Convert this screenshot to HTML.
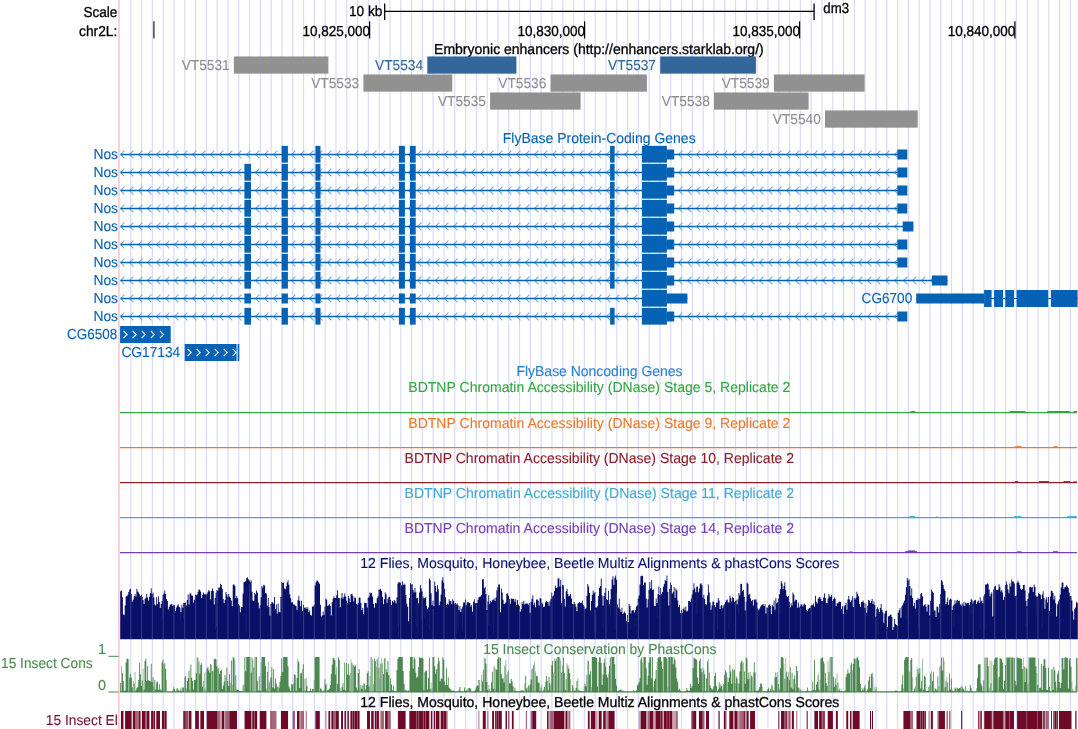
<!DOCTYPE html>
<html lang="en"><head><meta charset="utf-8"><title>UCSC Genome Browser - dm3 chr2L</title>
<style>
html,body{margin:0;padding:0;background:#fff;}
svg{display:block;font-family:"Liberation Sans",sans-serif;text-rendering:geometricPrecision;}
text{stroke-width:0.1px;stroke-linejoin:round;}
text.k{stroke-width:0.3px;}
</style></head><body>
<svg width="1078" height="729" viewBox="0 0 1078 729" style="will-change:transform">
<rect width="1078" height="729" fill="#fff"/>
<path d="M130.75 0V729M141.55 0V729M152.35 0V729M163.15 0V729M173.95 0V729M184.75 0V729M195.55 0V729M206.35 0V729M217.15 0V729M227.95 0V729M238.75 0V729M249.55 0V729M260.35 0V729M271.15 0V729M281.95 0V729M292.75 0V729M303.55 0V729M314.35 0V729M325.15 0V729M335.95 0V729M346.75 0V729M357.55 0V729M368.35 0V729M379.15 0V729M389.95 0V729M400.75 0V729M411.55 0V729M422.35 0V729M433.15 0V729M443.95 0V729M454.75 0V729M465.55 0V729M476.35 0V729M487.15 0V729M497.95 0V729M508.75 0V729M519.55 0V729M530.35 0V729M541.15 0V729M551.95 0V729M562.75 0V729M573.55 0V729M584.35 0V729M595.15 0V729M605.95 0V729M616.75 0V729M627.55 0V729M638.35 0V729M649.15 0V729M659.95 0V729M670.75 0V729M681.55 0V729M692.35 0V729M703.15 0V729M713.95 0V729M724.75 0V729M735.55 0V729M746.35 0V729M757.15 0V729M767.95 0V729M778.75 0V729M789.55 0V729M800.35 0V729M811.15 0V729M821.95 0V729M832.75 0V729M843.55 0V729M854.35 0V729M865.15 0V729M875.95 0V729M886.75 0V729M897.55 0V729M908.35 0V729M919.15 0V729M929.95 0V729M940.75 0V729M951.55 0V729M962.35 0V729M973.15 0V729M983.95 0V729M994.75 0V729M1005.55 0V729M1016.35 0V729M1027.15 0V729M1037.95 0V729M1048.75 0V729M1059.55 0V729M1070.35 0V729" stroke="#d8d8ff" stroke-width="1.15" fill="none"/>
<line x1="118.95" y1="0.00" x2="118.95" y2="729.00" stroke="#ffc2c2" stroke-width="1.4"/>
<text x="117.4" y="16.7" fill="#000" stroke="#000" class="k" text-anchor="end" font-size="14.5" textLength="33.9" lengthAdjust="spacingAndGlyphs">Scale</text>
<text x="117.4" y="35.9" fill="#000" stroke="#000" class="k" text-anchor="end" font-size="14.5" textLength="38.4" lengthAdjust="spacingAndGlyphs">chr2L:</text>
<text x="382.3" y="15.9" fill="#000" stroke="#000" class="k" text-anchor="end" font-size="14.5" textLength="33.3" lengthAdjust="spacingAndGlyphs">10 kb</text>
<text x="823.3" y="12.9" fill="#000" stroke="#000" class="k" text-anchor="start" font-size="14.5" textLength="25.7" lengthAdjust="spacingAndGlyphs">dm3</text>
<line x1="384.70" y1="11.30" x2="814.10" y2="11.30" stroke="#000" stroke-width="1.35"/>
<line x1="384.70" y1="3.50" x2="384.70" y2="20.00" stroke="#000" stroke-width="1.3"/>
<line x1="814.10" y1="3.50" x2="814.10" y2="20.00" stroke="#000" stroke-width="1.3"/>
<line x1="153.90" y1="21.30" x2="153.90" y2="38.40" stroke="#222" stroke-width="1.25"/>
<line x1="369.60" y1="21.30" x2="369.60" y2="38.40" stroke="#000" stroke-width="1.25"/>
<text x="370.1" y="36.0" fill="#000" stroke="#000" class="k" text-anchor="end" font-size="14.5" textLength="67.7" lengthAdjust="spacingAndGlyphs">10,825,000</text>
<line x1="584.60" y1="21.30" x2="584.60" y2="38.40" stroke="#000" stroke-width="1.25"/>
<text x="585.1" y="36.0" fill="#000" stroke="#000" class="k" text-anchor="end" font-size="14.5" textLength="67.7" lengthAdjust="spacingAndGlyphs">10,830,000</text>
<line x1="799.60" y1="21.30" x2="799.60" y2="38.40" stroke="#000" stroke-width="1.25"/>
<text x="800.1" y="36.0" fill="#000" stroke="#000" class="k" text-anchor="end" font-size="14.5" textLength="67.7" lengthAdjust="spacingAndGlyphs">10,835,000</text>
<line x1="1014.90" y1="21.30" x2="1014.90" y2="38.40" stroke="#000" stroke-width="1.25"/>
<text x="1015.4" y="36.0" fill="#000" stroke="#000" class="k" text-anchor="end" font-size="14.5" textLength="67.7" lengthAdjust="spacingAndGlyphs">10,840,000</text>
<text x="598.9" y="53.8" fill="#000" stroke="#000" class="k" text-anchor="middle" font-size="14.5" textLength="329.6" lengthAdjust="spacingAndGlyphs">Embryonic enhancers (http://enhancers.starklab.org/)</text>
<rect x="233.90" y="56.45" width="94.50" height="17.20" fill="#919191"/>
<text x="229.7" y="70.0" fill="#8e8e8e" stroke="#8e8e8e" text-anchor="end" font-size="14.5" textLength="48.0" lengthAdjust="spacingAndGlyphs">VT5531</text>
<rect x="427.30" y="56.45" width="89.10" height="17.20" fill="#336699"/>
<text x="423.1" y="70.0" fill="#336699" stroke="#336699" text-anchor="end" font-size="14.5" textLength="48.0" lengthAdjust="spacingAndGlyphs">VT5534</text>
<rect x="660.20" y="56.45" width="95.70" height="17.20" fill="#336699"/>
<text x="656.0" y="70.0" fill="#336699" stroke="#336699" text-anchor="end" font-size="14.5" textLength="48.0" lengthAdjust="spacingAndGlyphs">VT5537</text>
<rect x="363.40" y="74.45" width="88.90" height="17.20" fill="#919191"/>
<text x="359.2" y="88.0" fill="#8e8e8e" stroke="#8e8e8e" text-anchor="end" font-size="14.5" textLength="48.0" lengthAdjust="spacingAndGlyphs">VT5533</text>
<rect x="550.50" y="74.45" width="96.40" height="17.20" fill="#919191"/>
<text x="546.3" y="88.0" fill="#8e8e8e" stroke="#8e8e8e" text-anchor="end" font-size="14.5" textLength="48.0" lengthAdjust="spacingAndGlyphs">VT5536</text>
<rect x="773.90" y="74.45" width="90.70" height="17.20" fill="#919191"/>
<text x="769.7" y="88.0" fill="#8e8e8e" stroke="#8e8e8e" text-anchor="end" font-size="14.5" textLength="48.0" lengthAdjust="spacingAndGlyphs">VT5539</text>
<rect x="490.10" y="92.45" width="90.50" height="17.20" fill="#919191"/>
<text x="485.9" y="106.0" fill="#8e8e8e" stroke="#8e8e8e" text-anchor="end" font-size="14.5" textLength="48.0" lengthAdjust="spacingAndGlyphs">VT5535</text>
<rect x="714.00" y="92.45" width="94.60" height="17.20" fill="#919191"/>
<text x="709.8" y="106.0" fill="#8e8e8e" stroke="#8e8e8e" text-anchor="end" font-size="14.5" textLength="48.0" lengthAdjust="spacingAndGlyphs">VT5538</text>
<rect x="825.00" y="110.45" width="92.70" height="17.20" fill="#919191"/>
<text x="820.8" y="124.0" fill="#8e8e8e" stroke="#8e8e8e" text-anchor="end" font-size="14.5" textLength="48.0" lengthAdjust="spacingAndGlyphs">VT5540</text>
<text x="599.2" y="142.5" fill="#0562b4" stroke="#0562b4" text-anchor="middle" font-size="14.5" textLength="192.9" lengthAdjust="spacingAndGlyphs">FlyBase Protein-Coding Genes</text>
<path d="M124.40 150.70L120.60 154.50L124.40 158.30M133.40 150.70L129.60 154.50L133.40 158.30M142.40 150.70L138.60 154.50L142.40 158.30M151.40 150.70L147.60 154.50L151.40 158.30M160.40 150.70L156.60 154.50L160.40 158.30M169.40 150.70L165.60 154.50L169.40 158.30M178.40 150.70L174.60 154.50L178.40 158.30M187.40 150.70L183.60 154.50L187.40 158.30M196.40 150.70L192.60 154.50L196.40 158.30M205.40 150.70L201.60 154.50L205.40 158.30M214.40 150.70L210.60 154.50L214.40 158.30M223.40 150.70L219.60 154.50L223.40 158.30M232.40 150.70L228.60 154.50L232.40 158.30M241.40 150.70L237.60 154.50L241.40 158.30M250.40 150.70L246.60 154.50L250.40 158.30M259.40 150.70L255.60 154.50L259.40 158.30M268.40 150.70L264.60 154.50L268.40 158.30M277.40 150.70L273.60 154.50L277.40 158.30M286.40 150.70L282.60 154.50L286.40 158.30M295.40 150.70L291.60 154.50L295.40 158.30M304.40 150.70L300.60 154.50L304.40 158.30M313.40 150.70L309.60 154.50L313.40 158.30M322.40 150.70L318.60 154.50L322.40 158.30M331.40 150.70L327.60 154.50L331.40 158.30M340.40 150.70L336.60 154.50L340.40 158.30M349.40 150.70L345.60 154.50L349.40 158.30M358.40 150.70L354.60 154.50L358.40 158.30M367.40 150.70L363.60 154.50L367.40 158.30M376.40 150.70L372.60 154.50L376.40 158.30M385.40 150.70L381.60 154.50L385.40 158.30M394.40 150.70L390.60 154.50L394.40 158.30M403.40 150.70L399.60 154.50L403.40 158.30M412.40 150.70L408.60 154.50L412.40 158.30M421.40 150.70L417.60 154.50L421.40 158.30M430.40 150.70L426.60 154.50L430.40 158.30M439.40 150.70L435.60 154.50L439.40 158.30M448.40 150.70L444.60 154.50L448.40 158.30M457.40 150.70L453.60 154.50L457.40 158.30M466.40 150.70L462.60 154.50L466.40 158.30M475.40 150.70L471.60 154.50L475.40 158.30M484.40 150.70L480.60 154.50L484.40 158.30M493.40 150.70L489.60 154.50L493.40 158.30M502.40 150.70L498.60 154.50L502.40 158.30M511.40 150.70L507.60 154.50L511.40 158.30M520.40 150.70L516.60 154.50L520.40 158.30M529.40 150.70L525.60 154.50L529.40 158.30M538.40 150.70L534.60 154.50L538.40 158.30M547.40 150.70L543.60 154.50L547.40 158.30M556.40 150.70L552.60 154.50L556.40 158.30M565.40 150.70L561.60 154.50L565.40 158.30M574.40 150.70L570.60 154.50L574.40 158.30M583.40 150.70L579.60 154.50L583.40 158.30M592.40 150.70L588.60 154.50L592.40 158.30M601.40 150.70L597.60 154.50L601.40 158.30M610.40 150.70L606.60 154.50L610.40 158.30M619.40 150.70L615.60 154.50L619.40 158.30M628.40 150.70L624.60 154.50L628.40 158.30M637.40 150.70L633.60 154.50L637.40 158.30M646.40 150.70L642.60 154.50L646.40 158.30M655.40 150.70L651.60 154.50L655.40 158.30M664.40 150.70L660.60 154.50L664.40 158.30M673.40 150.70L669.60 154.50L673.40 158.30M682.40 150.70L678.60 154.50L682.40 158.30M691.40 150.70L687.60 154.50L691.40 158.30M700.40 150.70L696.60 154.50L700.40 158.30M709.40 150.70L705.60 154.50L709.40 158.30M718.40 150.70L714.60 154.50L718.40 158.30M727.40 150.70L723.60 154.50L727.40 158.30M736.40 150.70L732.60 154.50L736.40 158.30M745.40 150.70L741.60 154.50L745.40 158.30M754.40 150.70L750.60 154.50L754.40 158.30M763.40 150.70L759.60 154.50L763.40 158.30M772.40 150.70L768.60 154.50L772.40 158.30M781.40 150.70L777.60 154.50L781.40 158.30M790.40 150.70L786.60 154.50L790.40 158.30M799.40 150.70L795.60 154.50L799.40 158.30M808.40 150.70L804.60 154.50L808.40 158.30M817.40 150.70L813.60 154.50L817.40 158.30M826.40 150.70L822.60 154.50L826.40 158.30M835.40 150.70L831.60 154.50L835.40 158.30M844.40 150.70L840.60 154.50L844.40 158.30M853.40 150.70L849.60 154.50L853.40 158.30M862.40 150.70L858.60 154.50L862.40 158.30M871.40 150.70L867.60 154.50L871.40 158.30M880.40 150.70L876.60 154.50L880.40 158.30M889.40 150.70L885.60 154.50L889.40 158.30M898.40 150.70L894.60 154.50L898.40 158.30M907.40 150.70L903.60 154.50L907.40 158.30" stroke="#74aee0" stroke-width="1.15" fill="none"/>
<line x1="120.60" y1="154.50" x2="907.20" y2="154.50" stroke="#0562b4" stroke-width="1.5"/>
<rect x="281.60" y="145.85" width="6.30" height="16.80" fill="#0562b4"/>
<rect x="315.40" y="145.85" width="5.10" height="16.80" fill="#0562b4"/>
<rect x="398.90" y="145.85" width="6.00" height="16.80" fill="#0562b4"/>
<rect x="409.90" y="145.85" width="5.80" height="16.80" fill="#0562b4"/>
<rect x="610.10" y="145.85" width="4.50" height="16.80" fill="#0562b4"/>
<rect x="641.90" y="145.85" width="25.00" height="16.80" fill="#0562b4"/>
<rect x="666.90" y="149.50" width="7.30" height="10.00" fill="#0562b4"/>
<rect x="897.40" y="149.50" width="9.80" height="10.00" fill="#0562b4"/>
<text x="118.0" y="158.9" fill="#0562b4" stroke="#0562b4" text-anchor="end" font-size="14.5" textLength="24.6" lengthAdjust="spacingAndGlyphs">Nos</text>
<path d="M124.40 168.70L120.60 172.50L124.40 176.30M133.40 168.70L129.60 172.50L133.40 176.30M142.40 168.70L138.60 172.50L142.40 176.30M151.40 168.70L147.60 172.50L151.40 176.30M160.40 168.70L156.60 172.50L160.40 176.30M169.40 168.70L165.60 172.50L169.40 176.30M178.40 168.70L174.60 172.50L178.40 176.30M187.40 168.70L183.60 172.50L187.40 176.30M196.40 168.70L192.60 172.50L196.40 176.30M205.40 168.70L201.60 172.50L205.40 176.30M214.40 168.70L210.60 172.50L214.40 176.30M223.40 168.70L219.60 172.50L223.40 176.30M232.40 168.70L228.60 172.50L232.40 176.30M241.40 168.70L237.60 172.50L241.40 176.30M250.40 168.70L246.60 172.50L250.40 176.30M259.40 168.70L255.60 172.50L259.40 176.30M268.40 168.70L264.60 172.50L268.40 176.30M277.40 168.70L273.60 172.50L277.40 176.30M286.40 168.70L282.60 172.50L286.40 176.30M295.40 168.70L291.60 172.50L295.40 176.30M304.40 168.70L300.60 172.50L304.40 176.30M313.40 168.70L309.60 172.50L313.40 176.30M322.40 168.70L318.60 172.50L322.40 176.30M331.40 168.70L327.60 172.50L331.40 176.30M340.40 168.70L336.60 172.50L340.40 176.30M349.40 168.70L345.60 172.50L349.40 176.30M358.40 168.70L354.60 172.50L358.40 176.30M367.40 168.70L363.60 172.50L367.40 176.30M376.40 168.70L372.60 172.50L376.40 176.30M385.40 168.70L381.60 172.50L385.40 176.30M394.40 168.70L390.60 172.50L394.40 176.30M403.40 168.70L399.60 172.50L403.40 176.30M412.40 168.70L408.60 172.50L412.40 176.30M421.40 168.70L417.60 172.50L421.40 176.30M430.40 168.70L426.60 172.50L430.40 176.30M439.40 168.70L435.60 172.50L439.40 176.30M448.40 168.70L444.60 172.50L448.40 176.30M457.40 168.70L453.60 172.50L457.40 176.30M466.40 168.70L462.60 172.50L466.40 176.30M475.40 168.70L471.60 172.50L475.40 176.30M484.40 168.70L480.60 172.50L484.40 176.30M493.40 168.70L489.60 172.50L493.40 176.30M502.40 168.70L498.60 172.50L502.40 176.30M511.40 168.70L507.60 172.50L511.40 176.30M520.40 168.70L516.60 172.50L520.40 176.30M529.40 168.70L525.60 172.50L529.40 176.30M538.40 168.70L534.60 172.50L538.40 176.30M547.40 168.70L543.60 172.50L547.40 176.30M556.40 168.70L552.60 172.50L556.40 176.30M565.40 168.70L561.60 172.50L565.40 176.30M574.40 168.70L570.60 172.50L574.40 176.30M583.40 168.70L579.60 172.50L583.40 176.30M592.40 168.70L588.60 172.50L592.40 176.30M601.40 168.70L597.60 172.50L601.40 176.30M610.40 168.70L606.60 172.50L610.40 176.30M619.40 168.70L615.60 172.50L619.40 176.30M628.40 168.70L624.60 172.50L628.40 176.30M637.40 168.70L633.60 172.50L637.40 176.30M646.40 168.70L642.60 172.50L646.40 176.30M655.40 168.70L651.60 172.50L655.40 176.30M664.40 168.70L660.60 172.50L664.40 176.30M673.40 168.70L669.60 172.50L673.40 176.30M682.40 168.70L678.60 172.50L682.40 176.30M691.40 168.70L687.60 172.50L691.40 176.30M700.40 168.70L696.60 172.50L700.40 176.30M709.40 168.70L705.60 172.50L709.40 176.30M718.40 168.70L714.60 172.50L718.40 176.30M727.40 168.70L723.60 172.50L727.40 176.30M736.40 168.70L732.60 172.50L736.40 176.30M745.40 168.70L741.60 172.50L745.40 176.30M754.40 168.70L750.60 172.50L754.40 176.30M763.40 168.70L759.60 172.50L763.40 176.30M772.40 168.70L768.60 172.50L772.40 176.30M781.40 168.70L777.60 172.50L781.40 176.30M790.40 168.70L786.60 172.50L790.40 176.30M799.40 168.70L795.60 172.50L799.40 176.30M808.40 168.70L804.60 172.50L808.40 176.30M817.40 168.70L813.60 172.50L817.40 176.30M826.40 168.70L822.60 172.50L826.40 176.30M835.40 168.70L831.60 172.50L835.40 176.30M844.40 168.70L840.60 172.50L844.40 176.30M853.40 168.70L849.60 172.50L853.40 176.30M862.40 168.70L858.60 172.50L862.40 176.30M871.40 168.70L867.60 172.50L871.40 176.30M880.40 168.70L876.60 172.50L880.40 176.30M889.40 168.70L885.60 172.50L889.40 176.30M898.40 168.70L894.60 172.50L898.40 176.30M907.40 168.70L903.60 172.50L907.40 176.30" stroke="#74aee0" stroke-width="1.15" fill="none"/>
<line x1="120.60" y1="172.50" x2="907.20" y2="172.50" stroke="#0562b4" stroke-width="1.5"/>
<rect x="244.40" y="163.85" width="6.60" height="16.80" fill="#0562b4"/>
<rect x="281.60" y="163.85" width="6.30" height="16.80" fill="#0562b4"/>
<rect x="315.40" y="163.85" width="5.10" height="16.80" fill="#0562b4"/>
<rect x="398.90" y="163.85" width="6.00" height="16.80" fill="#0562b4"/>
<rect x="409.90" y="163.85" width="5.80" height="16.80" fill="#0562b4"/>
<rect x="610.10" y="163.85" width="4.50" height="16.80" fill="#0562b4"/>
<rect x="641.90" y="163.85" width="25.00" height="16.80" fill="#0562b4"/>
<rect x="666.90" y="167.50" width="7.30" height="10.00" fill="#0562b4"/>
<rect x="897.40" y="167.50" width="9.80" height="10.00" fill="#0562b4"/>
<text x="118.0" y="176.9" fill="#0562b4" stroke="#0562b4" text-anchor="end" font-size="14.5" textLength="24.6" lengthAdjust="spacingAndGlyphs">Nos</text>
<path d="M124.40 186.70L120.60 190.50L124.40 194.30M133.40 186.70L129.60 190.50L133.40 194.30M142.40 186.70L138.60 190.50L142.40 194.30M151.40 186.70L147.60 190.50L151.40 194.30M160.40 186.70L156.60 190.50L160.40 194.30M169.40 186.70L165.60 190.50L169.40 194.30M178.40 186.70L174.60 190.50L178.40 194.30M187.40 186.70L183.60 190.50L187.40 194.30M196.40 186.70L192.60 190.50L196.40 194.30M205.40 186.70L201.60 190.50L205.40 194.30M214.40 186.70L210.60 190.50L214.40 194.30M223.40 186.70L219.60 190.50L223.40 194.30M232.40 186.70L228.60 190.50L232.40 194.30M241.40 186.70L237.60 190.50L241.40 194.30M250.40 186.70L246.60 190.50L250.40 194.30M259.40 186.70L255.60 190.50L259.40 194.30M268.40 186.70L264.60 190.50L268.40 194.30M277.40 186.70L273.60 190.50L277.40 194.30M286.40 186.70L282.60 190.50L286.40 194.30M295.40 186.70L291.60 190.50L295.40 194.30M304.40 186.70L300.60 190.50L304.40 194.30M313.40 186.70L309.60 190.50L313.40 194.30M322.40 186.70L318.60 190.50L322.40 194.30M331.40 186.70L327.60 190.50L331.40 194.30M340.40 186.70L336.60 190.50L340.40 194.30M349.40 186.70L345.60 190.50L349.40 194.30M358.40 186.70L354.60 190.50L358.40 194.30M367.40 186.70L363.60 190.50L367.40 194.30M376.40 186.70L372.60 190.50L376.40 194.30M385.40 186.70L381.60 190.50L385.40 194.30M394.40 186.70L390.60 190.50L394.40 194.30M403.40 186.70L399.60 190.50L403.40 194.30M412.40 186.70L408.60 190.50L412.40 194.30M421.40 186.70L417.60 190.50L421.40 194.30M430.40 186.70L426.60 190.50L430.40 194.30M439.40 186.70L435.60 190.50L439.40 194.30M448.40 186.70L444.60 190.50L448.40 194.30M457.40 186.70L453.60 190.50L457.40 194.30M466.40 186.70L462.60 190.50L466.40 194.30M475.40 186.70L471.60 190.50L475.40 194.30M484.40 186.70L480.60 190.50L484.40 194.30M493.40 186.70L489.60 190.50L493.40 194.30M502.40 186.70L498.60 190.50L502.40 194.30M511.40 186.70L507.60 190.50L511.40 194.30M520.40 186.70L516.60 190.50L520.40 194.30M529.40 186.70L525.60 190.50L529.40 194.30M538.40 186.70L534.60 190.50L538.40 194.30M547.40 186.70L543.60 190.50L547.40 194.30M556.40 186.70L552.60 190.50L556.40 194.30M565.40 186.70L561.60 190.50L565.40 194.30M574.40 186.70L570.60 190.50L574.40 194.30M583.40 186.70L579.60 190.50L583.40 194.30M592.40 186.70L588.60 190.50L592.40 194.30M601.40 186.70L597.60 190.50L601.40 194.30M610.40 186.70L606.60 190.50L610.40 194.30M619.40 186.70L615.60 190.50L619.40 194.30M628.40 186.70L624.60 190.50L628.40 194.30M637.40 186.70L633.60 190.50L637.40 194.30M646.40 186.70L642.60 190.50L646.40 194.30M655.40 186.70L651.60 190.50L655.40 194.30M664.40 186.70L660.60 190.50L664.40 194.30M673.40 186.70L669.60 190.50L673.40 194.30M682.40 186.70L678.60 190.50L682.40 194.30M691.40 186.70L687.60 190.50L691.40 194.30M700.40 186.70L696.60 190.50L700.40 194.30M709.40 186.70L705.60 190.50L709.40 194.30M718.40 186.70L714.60 190.50L718.40 194.30M727.40 186.70L723.60 190.50L727.40 194.30M736.40 186.70L732.60 190.50L736.40 194.30M745.40 186.70L741.60 190.50L745.40 194.30M754.40 186.70L750.60 190.50L754.40 194.30M763.40 186.70L759.60 190.50L763.40 194.30M772.40 186.70L768.60 190.50L772.40 194.30M781.40 186.70L777.60 190.50L781.40 194.30M790.40 186.70L786.60 190.50L790.40 194.30M799.40 186.70L795.60 190.50L799.40 194.30M808.40 186.70L804.60 190.50L808.40 194.30M817.40 186.70L813.60 190.50L817.40 194.30M826.40 186.70L822.60 190.50L826.40 194.30M835.40 186.70L831.60 190.50L835.40 194.30M844.40 186.70L840.60 190.50L844.40 194.30M853.40 186.70L849.60 190.50L853.40 194.30M862.40 186.70L858.60 190.50L862.40 194.30M871.40 186.70L867.60 190.50L871.40 194.30M880.40 186.70L876.60 190.50L880.40 194.30M889.40 186.70L885.60 190.50L889.40 194.30M898.40 186.70L894.60 190.50L898.40 194.30M907.40 186.70L903.60 190.50L907.40 194.30" stroke="#74aee0" stroke-width="1.15" fill="none"/>
<line x1="120.60" y1="190.50" x2="907.20" y2="190.50" stroke="#0562b4" stroke-width="1.5"/>
<rect x="244.40" y="181.85" width="6.60" height="16.80" fill="#0562b4"/>
<rect x="281.60" y="181.85" width="6.30" height="16.80" fill="#0562b4"/>
<rect x="315.40" y="181.85" width="5.10" height="16.80" fill="#0562b4"/>
<rect x="398.90" y="181.85" width="6.00" height="16.80" fill="#0562b4"/>
<rect x="409.90" y="181.85" width="5.80" height="16.80" fill="#0562b4"/>
<rect x="610.10" y="181.85" width="4.50" height="16.80" fill="#0562b4"/>
<rect x="641.90" y="181.85" width="25.00" height="16.80" fill="#0562b4"/>
<rect x="666.90" y="185.50" width="7.30" height="10.00" fill="#0562b4"/>
<rect x="897.40" y="185.50" width="9.80" height="10.00" fill="#0562b4"/>
<text x="118.0" y="194.9" fill="#0562b4" stroke="#0562b4" text-anchor="end" font-size="14.5" textLength="24.6" lengthAdjust="spacingAndGlyphs">Nos</text>
<path d="M124.40 204.70L120.60 208.50L124.40 212.30M133.40 204.70L129.60 208.50L133.40 212.30M142.40 204.70L138.60 208.50L142.40 212.30M151.40 204.70L147.60 208.50L151.40 212.30M160.40 204.70L156.60 208.50L160.40 212.30M169.40 204.70L165.60 208.50L169.40 212.30M178.40 204.70L174.60 208.50L178.40 212.30M187.40 204.70L183.60 208.50L187.40 212.30M196.40 204.70L192.60 208.50L196.40 212.30M205.40 204.70L201.60 208.50L205.40 212.30M214.40 204.70L210.60 208.50L214.40 212.30M223.40 204.70L219.60 208.50L223.40 212.30M232.40 204.70L228.60 208.50L232.40 212.30M241.40 204.70L237.60 208.50L241.40 212.30M250.40 204.70L246.60 208.50L250.40 212.30M259.40 204.70L255.60 208.50L259.40 212.30M268.40 204.70L264.60 208.50L268.40 212.30M277.40 204.70L273.60 208.50L277.40 212.30M286.40 204.70L282.60 208.50L286.40 212.30M295.40 204.70L291.60 208.50L295.40 212.30M304.40 204.70L300.60 208.50L304.40 212.30M313.40 204.70L309.60 208.50L313.40 212.30M322.40 204.70L318.60 208.50L322.40 212.30M331.40 204.70L327.60 208.50L331.40 212.30M340.40 204.70L336.60 208.50L340.40 212.30M349.40 204.70L345.60 208.50L349.40 212.30M358.40 204.70L354.60 208.50L358.40 212.30M367.40 204.70L363.60 208.50L367.40 212.30M376.40 204.70L372.60 208.50L376.40 212.30M385.40 204.70L381.60 208.50L385.40 212.30M394.40 204.70L390.60 208.50L394.40 212.30M403.40 204.70L399.60 208.50L403.40 212.30M412.40 204.70L408.60 208.50L412.40 212.30M421.40 204.70L417.60 208.50L421.40 212.30M430.40 204.70L426.60 208.50L430.40 212.30M439.40 204.70L435.60 208.50L439.40 212.30M448.40 204.70L444.60 208.50L448.40 212.30M457.40 204.70L453.60 208.50L457.40 212.30M466.40 204.70L462.60 208.50L466.40 212.30M475.40 204.70L471.60 208.50L475.40 212.30M484.40 204.70L480.60 208.50L484.40 212.30M493.40 204.70L489.60 208.50L493.40 212.30M502.40 204.70L498.60 208.50L502.40 212.30M511.40 204.70L507.60 208.50L511.40 212.30M520.40 204.70L516.60 208.50L520.40 212.30M529.40 204.70L525.60 208.50L529.40 212.30M538.40 204.70L534.60 208.50L538.40 212.30M547.40 204.70L543.60 208.50L547.40 212.30M556.40 204.70L552.60 208.50L556.40 212.30M565.40 204.70L561.60 208.50L565.40 212.30M574.40 204.70L570.60 208.50L574.40 212.30M583.40 204.70L579.60 208.50L583.40 212.30M592.40 204.70L588.60 208.50L592.40 212.30M601.40 204.70L597.60 208.50L601.40 212.30M610.40 204.70L606.60 208.50L610.40 212.30M619.40 204.70L615.60 208.50L619.40 212.30M628.40 204.70L624.60 208.50L628.40 212.30M637.40 204.70L633.60 208.50L637.40 212.30M646.40 204.70L642.60 208.50L646.40 212.30M655.40 204.70L651.60 208.50L655.40 212.30M664.40 204.70L660.60 208.50L664.40 212.30M673.40 204.70L669.60 208.50L673.40 212.30M682.40 204.70L678.60 208.50L682.40 212.30M691.40 204.70L687.60 208.50L691.40 212.30M700.40 204.70L696.60 208.50L700.40 212.30M709.40 204.70L705.60 208.50L709.40 212.30M718.40 204.70L714.60 208.50L718.40 212.30M727.40 204.70L723.60 208.50L727.40 212.30M736.40 204.70L732.60 208.50L736.40 212.30M745.40 204.70L741.60 208.50L745.40 212.30M754.40 204.70L750.60 208.50L754.40 212.30M763.40 204.70L759.60 208.50L763.40 212.30M772.40 204.70L768.60 208.50L772.40 212.30M781.40 204.70L777.60 208.50L781.40 212.30M790.40 204.70L786.60 208.50L790.40 212.30M799.40 204.70L795.60 208.50L799.40 212.30M808.40 204.70L804.60 208.50L808.40 212.30M817.40 204.70L813.60 208.50L817.40 212.30M826.40 204.70L822.60 208.50L826.40 212.30M835.40 204.70L831.60 208.50L835.40 212.30M844.40 204.70L840.60 208.50L844.40 212.30M853.40 204.70L849.60 208.50L853.40 212.30M862.40 204.70L858.60 208.50L862.40 212.30M871.40 204.70L867.60 208.50L871.40 212.30M880.40 204.70L876.60 208.50L880.40 212.30M889.40 204.70L885.60 208.50L889.40 212.30M898.40 204.70L894.60 208.50L898.40 212.30M907.40 204.70L903.60 208.50L907.40 212.30" stroke="#74aee0" stroke-width="1.15" fill="none"/>
<line x1="120.60" y1="208.50" x2="907.20" y2="208.50" stroke="#0562b4" stroke-width="1.5"/>
<rect x="244.40" y="199.85" width="6.60" height="16.80" fill="#0562b4"/>
<rect x="281.60" y="199.85" width="6.30" height="16.80" fill="#0562b4"/>
<rect x="315.40" y="199.85" width="5.10" height="16.80" fill="#0562b4"/>
<rect x="398.90" y="199.85" width="6.00" height="16.80" fill="#0562b4"/>
<rect x="409.90" y="199.85" width="5.80" height="16.80" fill="#0562b4"/>
<rect x="610.10" y="199.85" width="4.50" height="16.80" fill="#0562b4"/>
<rect x="641.90" y="199.85" width="25.00" height="16.80" fill="#0562b4"/>
<rect x="666.90" y="203.50" width="7.30" height="10.00" fill="#0562b4"/>
<rect x="897.40" y="203.50" width="9.80" height="10.00" fill="#0562b4"/>
<text x="118.0" y="212.9" fill="#0562b4" stroke="#0562b4" text-anchor="end" font-size="14.5" textLength="24.6" lengthAdjust="spacingAndGlyphs">Nos</text>
<path d="M124.40 222.70L120.60 226.50L124.40 230.30M133.40 222.70L129.60 226.50L133.40 230.30M142.40 222.70L138.60 226.50L142.40 230.30M151.40 222.70L147.60 226.50L151.40 230.30M160.40 222.70L156.60 226.50L160.40 230.30M169.40 222.70L165.60 226.50L169.40 230.30M178.40 222.70L174.60 226.50L178.40 230.30M187.40 222.70L183.60 226.50L187.40 230.30M196.40 222.70L192.60 226.50L196.40 230.30M205.40 222.70L201.60 226.50L205.40 230.30M214.40 222.70L210.60 226.50L214.40 230.30M223.40 222.70L219.60 226.50L223.40 230.30M232.40 222.70L228.60 226.50L232.40 230.30M241.40 222.70L237.60 226.50L241.40 230.30M250.40 222.70L246.60 226.50L250.40 230.30M259.40 222.70L255.60 226.50L259.40 230.30M268.40 222.70L264.60 226.50L268.40 230.30M277.40 222.70L273.60 226.50L277.40 230.30M286.40 222.70L282.60 226.50L286.40 230.30M295.40 222.70L291.60 226.50L295.40 230.30M304.40 222.70L300.60 226.50L304.40 230.30M313.40 222.70L309.60 226.50L313.40 230.30M322.40 222.70L318.60 226.50L322.40 230.30M331.40 222.70L327.60 226.50L331.40 230.30M340.40 222.70L336.60 226.50L340.40 230.30M349.40 222.70L345.60 226.50L349.40 230.30M358.40 222.70L354.60 226.50L358.40 230.30M367.40 222.70L363.60 226.50L367.40 230.30M376.40 222.70L372.60 226.50L376.40 230.30M385.40 222.70L381.60 226.50L385.40 230.30M394.40 222.70L390.60 226.50L394.40 230.30M403.40 222.70L399.60 226.50L403.40 230.30M412.40 222.70L408.60 226.50L412.40 230.30M421.40 222.70L417.60 226.50L421.40 230.30M430.40 222.70L426.60 226.50L430.40 230.30M439.40 222.70L435.60 226.50L439.40 230.30M448.40 222.70L444.60 226.50L448.40 230.30M457.40 222.70L453.60 226.50L457.40 230.30M466.40 222.70L462.60 226.50L466.40 230.30M475.40 222.70L471.60 226.50L475.40 230.30M484.40 222.70L480.60 226.50L484.40 230.30M493.40 222.70L489.60 226.50L493.40 230.30M502.40 222.70L498.60 226.50L502.40 230.30M511.40 222.70L507.60 226.50L511.40 230.30M520.40 222.70L516.60 226.50L520.40 230.30M529.40 222.70L525.60 226.50L529.40 230.30M538.40 222.70L534.60 226.50L538.40 230.30M547.40 222.70L543.60 226.50L547.40 230.30M556.40 222.70L552.60 226.50L556.40 230.30M565.40 222.70L561.60 226.50L565.40 230.30M574.40 222.70L570.60 226.50L574.40 230.30M583.40 222.70L579.60 226.50L583.40 230.30M592.40 222.70L588.60 226.50L592.40 230.30M601.40 222.70L597.60 226.50L601.40 230.30M610.40 222.70L606.60 226.50L610.40 230.30M619.40 222.70L615.60 226.50L619.40 230.30M628.40 222.70L624.60 226.50L628.40 230.30M637.40 222.70L633.60 226.50L637.40 230.30M646.40 222.70L642.60 226.50L646.40 230.30M655.40 222.70L651.60 226.50L655.40 230.30M664.40 222.70L660.60 226.50L664.40 230.30M673.40 222.70L669.60 226.50L673.40 230.30M682.40 222.70L678.60 226.50L682.40 230.30M691.40 222.70L687.60 226.50L691.40 230.30M700.40 222.70L696.60 226.50L700.40 230.30M709.40 222.70L705.60 226.50L709.40 230.30M718.40 222.70L714.60 226.50L718.40 230.30M727.40 222.70L723.60 226.50L727.40 230.30M736.40 222.70L732.60 226.50L736.40 230.30M745.40 222.70L741.60 226.50L745.40 230.30M754.40 222.70L750.60 226.50L754.40 230.30M763.40 222.70L759.60 226.50L763.40 230.30M772.40 222.70L768.60 226.50L772.40 230.30M781.40 222.70L777.60 226.50L781.40 230.30M790.40 222.70L786.60 226.50L790.40 230.30M799.40 222.70L795.60 226.50L799.40 230.30M808.40 222.70L804.60 226.50L808.40 230.30M817.40 222.70L813.60 226.50L817.40 230.30M826.40 222.70L822.60 226.50L826.40 230.30M835.40 222.70L831.60 226.50L835.40 230.30M844.40 222.70L840.60 226.50L844.40 230.30M853.40 222.70L849.60 226.50L853.40 230.30M862.40 222.70L858.60 226.50L862.40 230.30M871.40 222.70L867.60 226.50L871.40 230.30M880.40 222.70L876.60 226.50L880.40 230.30M889.40 222.70L885.60 226.50L889.40 230.30M898.40 222.70L894.60 226.50L898.40 230.30M907.40 222.70L903.60 226.50L907.40 230.30" stroke="#74aee0" stroke-width="1.15" fill="none"/>
<line x1="120.60" y1="226.50" x2="913.40" y2="226.50" stroke="#0562b4" stroke-width="1.5"/>
<rect x="244.40" y="217.85" width="6.60" height="16.80" fill="#0562b4"/>
<rect x="281.60" y="217.85" width="6.30" height="16.80" fill="#0562b4"/>
<rect x="315.40" y="217.85" width="5.10" height="16.80" fill="#0562b4"/>
<rect x="398.90" y="217.85" width="6.00" height="16.80" fill="#0562b4"/>
<rect x="409.90" y="217.85" width="5.80" height="16.80" fill="#0562b4"/>
<rect x="610.10" y="217.85" width="4.50" height="16.80" fill="#0562b4"/>
<rect x="641.90" y="217.85" width="25.00" height="16.80" fill="#0562b4"/>
<rect x="666.90" y="221.50" width="7.30" height="10.00" fill="#0562b4"/>
<rect x="902.70" y="221.50" width="10.70" height="10.00" fill="#0562b4"/>
<text x="118.0" y="230.9" fill="#0562b4" stroke="#0562b4" text-anchor="end" font-size="14.5" textLength="24.6" lengthAdjust="spacingAndGlyphs">Nos</text>
<path d="M124.40 240.70L120.60 244.50L124.40 248.30M133.40 240.70L129.60 244.50L133.40 248.30M142.40 240.70L138.60 244.50L142.40 248.30M151.40 240.70L147.60 244.50L151.40 248.30M160.40 240.70L156.60 244.50L160.40 248.30M169.40 240.70L165.60 244.50L169.40 248.30M178.40 240.70L174.60 244.50L178.40 248.30M187.40 240.70L183.60 244.50L187.40 248.30M196.40 240.70L192.60 244.50L196.40 248.30M205.40 240.70L201.60 244.50L205.40 248.30M214.40 240.70L210.60 244.50L214.40 248.30M223.40 240.70L219.60 244.50L223.40 248.30M232.40 240.70L228.60 244.50L232.40 248.30M241.40 240.70L237.60 244.50L241.40 248.30M250.40 240.70L246.60 244.50L250.40 248.30M259.40 240.70L255.60 244.50L259.40 248.30M268.40 240.70L264.60 244.50L268.40 248.30M277.40 240.70L273.60 244.50L277.40 248.30M286.40 240.70L282.60 244.50L286.40 248.30M295.40 240.70L291.60 244.50L295.40 248.30M304.40 240.70L300.60 244.50L304.40 248.30M313.40 240.70L309.60 244.50L313.40 248.30M322.40 240.70L318.60 244.50L322.40 248.30M331.40 240.70L327.60 244.50L331.40 248.30M340.40 240.70L336.60 244.50L340.40 248.30M349.40 240.70L345.60 244.50L349.40 248.30M358.40 240.70L354.60 244.50L358.40 248.30M367.40 240.70L363.60 244.50L367.40 248.30M376.40 240.70L372.60 244.50L376.40 248.30M385.40 240.70L381.60 244.50L385.40 248.30M394.40 240.70L390.60 244.50L394.40 248.30M403.40 240.70L399.60 244.50L403.40 248.30M412.40 240.70L408.60 244.50L412.40 248.30M421.40 240.70L417.60 244.50L421.40 248.30M430.40 240.70L426.60 244.50L430.40 248.30M439.40 240.70L435.60 244.50L439.40 248.30M448.40 240.70L444.60 244.50L448.40 248.30M457.40 240.70L453.60 244.50L457.40 248.30M466.40 240.70L462.60 244.50L466.40 248.30M475.40 240.70L471.60 244.50L475.40 248.30M484.40 240.70L480.60 244.50L484.40 248.30M493.40 240.70L489.60 244.50L493.40 248.30M502.40 240.70L498.60 244.50L502.40 248.30M511.40 240.70L507.60 244.50L511.40 248.30M520.40 240.70L516.60 244.50L520.40 248.30M529.40 240.70L525.60 244.50L529.40 248.30M538.40 240.70L534.60 244.50L538.40 248.30M547.40 240.70L543.60 244.50L547.40 248.30M556.40 240.70L552.60 244.50L556.40 248.30M565.40 240.70L561.60 244.50L565.40 248.30M574.40 240.70L570.60 244.50L574.40 248.30M583.40 240.70L579.60 244.50L583.40 248.30M592.40 240.70L588.60 244.50L592.40 248.30M601.40 240.70L597.60 244.50L601.40 248.30M610.40 240.70L606.60 244.50L610.40 248.30M619.40 240.70L615.60 244.50L619.40 248.30M628.40 240.70L624.60 244.50L628.40 248.30M637.40 240.70L633.60 244.50L637.40 248.30M646.40 240.70L642.60 244.50L646.40 248.30M655.40 240.70L651.60 244.50L655.40 248.30M664.40 240.70L660.60 244.50L664.40 248.30M673.40 240.70L669.60 244.50L673.40 248.30M682.40 240.70L678.60 244.50L682.40 248.30M691.40 240.70L687.60 244.50L691.40 248.30M700.40 240.70L696.60 244.50L700.40 248.30M709.40 240.70L705.60 244.50L709.40 248.30M718.40 240.70L714.60 244.50L718.40 248.30M727.40 240.70L723.60 244.50L727.40 248.30M736.40 240.70L732.60 244.50L736.40 248.30M745.40 240.70L741.60 244.50L745.40 248.30M754.40 240.70L750.60 244.50L754.40 248.30M763.40 240.70L759.60 244.50L763.40 248.30M772.40 240.70L768.60 244.50L772.40 248.30M781.40 240.70L777.60 244.50L781.40 248.30M790.40 240.70L786.60 244.50L790.40 248.30M799.40 240.70L795.60 244.50L799.40 248.30M808.40 240.70L804.60 244.50L808.40 248.30M817.40 240.70L813.60 244.50L817.40 248.30M826.40 240.70L822.60 244.50L826.40 248.30M835.40 240.70L831.60 244.50L835.40 248.30M844.40 240.70L840.60 244.50L844.40 248.30M853.40 240.70L849.60 244.50L853.40 248.30M862.40 240.70L858.60 244.50L862.40 248.30M871.40 240.70L867.60 244.50L871.40 248.30M880.40 240.70L876.60 244.50L880.40 248.30M889.40 240.70L885.60 244.50L889.40 248.30M898.40 240.70L894.60 244.50L898.40 248.30M907.40 240.70L903.60 244.50L907.40 248.30" stroke="#74aee0" stroke-width="1.15" fill="none"/>
<line x1="120.60" y1="244.50" x2="907.20" y2="244.50" stroke="#0562b4" stroke-width="1.5"/>
<rect x="244.40" y="235.85" width="6.60" height="16.80" fill="#0562b4"/>
<rect x="281.60" y="235.85" width="6.30" height="16.80" fill="#0562b4"/>
<rect x="315.40" y="235.85" width="5.10" height="16.80" fill="#0562b4"/>
<rect x="398.90" y="235.85" width="6.00" height="16.80" fill="#0562b4"/>
<rect x="409.90" y="235.85" width="5.80" height="16.80" fill="#0562b4"/>
<rect x="610.10" y="235.85" width="4.50" height="16.80" fill="#0562b4"/>
<rect x="641.90" y="235.85" width="25.00" height="16.80" fill="#0562b4"/>
<rect x="666.90" y="239.50" width="7.30" height="10.00" fill="#0562b4"/>
<rect x="897.40" y="239.50" width="9.80" height="10.00" fill="#0562b4"/>
<text x="118.0" y="248.9" fill="#0562b4" stroke="#0562b4" text-anchor="end" font-size="14.5" textLength="24.6" lengthAdjust="spacingAndGlyphs">Nos</text>
<path d="M124.40 258.70L120.60 262.50L124.40 266.30M133.40 258.70L129.60 262.50L133.40 266.30M142.40 258.70L138.60 262.50L142.40 266.30M151.40 258.70L147.60 262.50L151.40 266.30M160.40 258.70L156.60 262.50L160.40 266.30M169.40 258.70L165.60 262.50L169.40 266.30M178.40 258.70L174.60 262.50L178.40 266.30M187.40 258.70L183.60 262.50L187.40 266.30M196.40 258.70L192.60 262.50L196.40 266.30M205.40 258.70L201.60 262.50L205.40 266.30M214.40 258.70L210.60 262.50L214.40 266.30M223.40 258.70L219.60 262.50L223.40 266.30M232.40 258.70L228.60 262.50L232.40 266.30M241.40 258.70L237.60 262.50L241.40 266.30M250.40 258.70L246.60 262.50L250.40 266.30M259.40 258.70L255.60 262.50L259.40 266.30M268.40 258.70L264.60 262.50L268.40 266.30M277.40 258.70L273.60 262.50L277.40 266.30M286.40 258.70L282.60 262.50L286.40 266.30M295.40 258.70L291.60 262.50L295.40 266.30M304.40 258.70L300.60 262.50L304.40 266.30M313.40 258.70L309.60 262.50L313.40 266.30M322.40 258.70L318.60 262.50L322.40 266.30M331.40 258.70L327.60 262.50L331.40 266.30M340.40 258.70L336.60 262.50L340.40 266.30M349.40 258.70L345.60 262.50L349.40 266.30M358.40 258.70L354.60 262.50L358.40 266.30M367.40 258.70L363.60 262.50L367.40 266.30M376.40 258.70L372.60 262.50L376.40 266.30M385.40 258.70L381.60 262.50L385.40 266.30M394.40 258.70L390.60 262.50L394.40 266.30M403.40 258.70L399.60 262.50L403.40 266.30M412.40 258.70L408.60 262.50L412.40 266.30M421.40 258.70L417.60 262.50L421.40 266.30M430.40 258.70L426.60 262.50L430.40 266.30M439.40 258.70L435.60 262.50L439.40 266.30M448.40 258.70L444.60 262.50L448.40 266.30M457.40 258.70L453.60 262.50L457.40 266.30M466.40 258.70L462.60 262.50L466.40 266.30M475.40 258.70L471.60 262.50L475.40 266.30M484.40 258.70L480.60 262.50L484.40 266.30M493.40 258.70L489.60 262.50L493.40 266.30M502.40 258.70L498.60 262.50L502.40 266.30M511.40 258.70L507.60 262.50L511.40 266.30M520.40 258.70L516.60 262.50L520.40 266.30M529.40 258.70L525.60 262.50L529.40 266.30M538.40 258.70L534.60 262.50L538.40 266.30M547.40 258.70L543.60 262.50L547.40 266.30M556.40 258.70L552.60 262.50L556.40 266.30M565.40 258.70L561.60 262.50L565.40 266.30M574.40 258.70L570.60 262.50L574.40 266.30M583.40 258.70L579.60 262.50L583.40 266.30M592.40 258.70L588.60 262.50L592.40 266.30M601.40 258.70L597.60 262.50L601.40 266.30M610.40 258.70L606.60 262.50L610.40 266.30M619.40 258.70L615.60 262.50L619.40 266.30M628.40 258.70L624.60 262.50L628.40 266.30M637.40 258.70L633.60 262.50L637.40 266.30M646.40 258.70L642.60 262.50L646.40 266.30M655.40 258.70L651.60 262.50L655.40 266.30M664.40 258.70L660.60 262.50L664.40 266.30M673.40 258.70L669.60 262.50L673.40 266.30M682.40 258.70L678.60 262.50L682.40 266.30M691.40 258.70L687.60 262.50L691.40 266.30M700.40 258.70L696.60 262.50L700.40 266.30M709.40 258.70L705.60 262.50L709.40 266.30M718.40 258.70L714.60 262.50L718.40 266.30M727.40 258.70L723.60 262.50L727.40 266.30M736.40 258.70L732.60 262.50L736.40 266.30M745.40 258.70L741.60 262.50L745.40 266.30M754.40 258.70L750.60 262.50L754.40 266.30M763.40 258.70L759.60 262.50L763.40 266.30M772.40 258.70L768.60 262.50L772.40 266.30M781.40 258.70L777.60 262.50L781.40 266.30M790.40 258.70L786.60 262.50L790.40 266.30M799.40 258.70L795.60 262.50L799.40 266.30M808.40 258.70L804.60 262.50L808.40 266.30M817.40 258.70L813.60 262.50L817.40 266.30M826.40 258.70L822.60 262.50L826.40 266.30M835.40 258.70L831.60 262.50L835.40 266.30M844.40 258.70L840.60 262.50L844.40 266.30M853.40 258.70L849.60 262.50L853.40 266.30M862.40 258.70L858.60 262.50L862.40 266.30M871.40 258.70L867.60 262.50L871.40 266.30M880.40 258.70L876.60 262.50L880.40 266.30M889.40 258.70L885.60 262.50L889.40 266.30M898.40 258.70L894.60 262.50L898.40 266.30M907.40 258.70L903.60 262.50L907.40 266.30" stroke="#74aee0" stroke-width="1.15" fill="none"/>
<line x1="120.60" y1="262.50" x2="907.20" y2="262.50" stroke="#0562b4" stroke-width="1.5"/>
<rect x="244.40" y="253.85" width="6.60" height="16.80" fill="#0562b4"/>
<rect x="281.60" y="253.85" width="6.30" height="16.80" fill="#0562b4"/>
<rect x="315.40" y="253.85" width="5.10" height="16.80" fill="#0562b4"/>
<rect x="398.90" y="253.85" width="6.00" height="16.80" fill="#0562b4"/>
<rect x="409.90" y="253.85" width="5.80" height="16.80" fill="#0562b4"/>
<rect x="610.10" y="253.85" width="4.50" height="16.80" fill="#0562b4"/>
<rect x="641.90" y="253.85" width="25.00" height="16.80" fill="#0562b4"/>
<rect x="666.90" y="257.50" width="7.30" height="10.00" fill="#0562b4"/>
<rect x="897.40" y="257.50" width="9.80" height="10.00" fill="#0562b4"/>
<text x="118.0" y="266.9" fill="#0562b4" stroke="#0562b4" text-anchor="end" font-size="14.5" textLength="24.6" lengthAdjust="spacingAndGlyphs">Nos</text>
<path d="M124.40 276.70L120.60 280.50L124.40 284.30M133.40 276.70L129.60 280.50L133.40 284.30M142.40 276.70L138.60 280.50L142.40 284.30M151.40 276.70L147.60 280.50L151.40 284.30M160.40 276.70L156.60 280.50L160.40 284.30M169.40 276.70L165.60 280.50L169.40 284.30M178.40 276.70L174.60 280.50L178.40 284.30M187.40 276.70L183.60 280.50L187.40 284.30M196.40 276.70L192.60 280.50L196.40 284.30M205.40 276.70L201.60 280.50L205.40 284.30M214.40 276.70L210.60 280.50L214.40 284.30M223.40 276.70L219.60 280.50L223.40 284.30M232.40 276.70L228.60 280.50L232.40 284.30M241.40 276.70L237.60 280.50L241.40 284.30M250.40 276.70L246.60 280.50L250.40 284.30M259.40 276.70L255.60 280.50L259.40 284.30M268.40 276.70L264.60 280.50L268.40 284.30M277.40 276.70L273.60 280.50L277.40 284.30M286.40 276.70L282.60 280.50L286.40 284.30M295.40 276.70L291.60 280.50L295.40 284.30M304.40 276.70L300.60 280.50L304.40 284.30M313.40 276.70L309.60 280.50L313.40 284.30M322.40 276.70L318.60 280.50L322.40 284.30M331.40 276.70L327.60 280.50L331.40 284.30M340.40 276.70L336.60 280.50L340.40 284.30M349.40 276.70L345.60 280.50L349.40 284.30M358.40 276.70L354.60 280.50L358.40 284.30M367.40 276.70L363.60 280.50L367.40 284.30M376.40 276.70L372.60 280.50L376.40 284.30M385.40 276.70L381.60 280.50L385.40 284.30M394.40 276.70L390.60 280.50L394.40 284.30M403.40 276.70L399.60 280.50L403.40 284.30M412.40 276.70L408.60 280.50L412.40 284.30M421.40 276.70L417.60 280.50L421.40 284.30M430.40 276.70L426.60 280.50L430.40 284.30M439.40 276.70L435.60 280.50L439.40 284.30M448.40 276.70L444.60 280.50L448.40 284.30M457.40 276.70L453.60 280.50L457.40 284.30M466.40 276.70L462.60 280.50L466.40 284.30M475.40 276.70L471.60 280.50L475.40 284.30M484.40 276.70L480.60 280.50L484.40 284.30M493.40 276.70L489.60 280.50L493.40 284.30M502.40 276.70L498.60 280.50L502.40 284.30M511.40 276.70L507.60 280.50L511.40 284.30M520.40 276.70L516.60 280.50L520.40 284.30M529.40 276.70L525.60 280.50L529.40 284.30M538.40 276.70L534.60 280.50L538.40 284.30M547.40 276.70L543.60 280.50L547.40 284.30M556.40 276.70L552.60 280.50L556.40 284.30M565.40 276.70L561.60 280.50L565.40 284.30M574.40 276.70L570.60 280.50L574.40 284.30M583.40 276.70L579.60 280.50L583.40 284.30M592.40 276.70L588.60 280.50L592.40 284.30M601.40 276.70L597.60 280.50L601.40 284.30M610.40 276.70L606.60 280.50L610.40 284.30M619.40 276.70L615.60 280.50L619.40 284.30M628.40 276.70L624.60 280.50L628.40 284.30M637.40 276.70L633.60 280.50L637.40 284.30M646.40 276.70L642.60 280.50L646.40 284.30M655.40 276.70L651.60 280.50L655.40 284.30M664.40 276.70L660.60 280.50L664.40 284.30M673.40 276.70L669.60 280.50L673.40 284.30M682.40 276.70L678.60 280.50L682.40 284.30M691.40 276.70L687.60 280.50L691.40 284.30M700.40 276.70L696.60 280.50L700.40 284.30M709.40 276.70L705.60 280.50L709.40 284.30M718.40 276.70L714.60 280.50L718.40 284.30M727.40 276.70L723.60 280.50L727.40 284.30M736.40 276.70L732.60 280.50L736.40 284.30M745.40 276.70L741.60 280.50L745.40 284.30M754.40 276.70L750.60 280.50L754.40 284.30M763.40 276.70L759.60 280.50L763.40 284.30M772.40 276.70L768.60 280.50L772.40 284.30M781.40 276.70L777.60 280.50L781.40 284.30M790.40 276.70L786.60 280.50L790.40 284.30M799.40 276.70L795.60 280.50L799.40 284.30M808.40 276.70L804.60 280.50L808.40 284.30M817.40 276.70L813.60 280.50L817.40 284.30M826.40 276.70L822.60 280.50L826.40 284.30M835.40 276.70L831.60 280.50L835.40 284.30M844.40 276.70L840.60 280.50L844.40 284.30M853.40 276.70L849.60 280.50L853.40 284.30M862.40 276.70L858.60 280.50L862.40 284.30M871.40 276.70L867.60 280.50L871.40 284.30M880.40 276.70L876.60 280.50L880.40 284.30M889.40 276.70L885.60 280.50L889.40 284.30M898.40 276.70L894.60 280.50L898.40 284.30M907.40 276.70L903.60 280.50L907.40 284.30M916.40 276.70L912.60 280.50L916.40 284.30M925.40 276.70L921.60 280.50L925.40 284.30M934.40 276.70L930.60 280.50L934.40 284.30M943.40 276.70L939.60 280.50L943.40 284.30" stroke="#74aee0" stroke-width="1.15" fill="none"/>
<line x1="120.60" y1="280.50" x2="947.50" y2="280.50" stroke="#0562b4" stroke-width="1.5"/>
<rect x="244.40" y="271.85" width="6.60" height="16.80" fill="#0562b4"/>
<rect x="281.60" y="271.85" width="6.30" height="16.80" fill="#0562b4"/>
<rect x="315.40" y="271.85" width="5.10" height="16.80" fill="#0562b4"/>
<rect x="398.90" y="271.85" width="6.00" height="16.80" fill="#0562b4"/>
<rect x="409.90" y="271.85" width="5.80" height="16.80" fill="#0562b4"/>
<rect x="610.10" y="271.85" width="4.50" height="16.80" fill="#0562b4"/>
<rect x="641.90" y="271.85" width="25.00" height="16.80" fill="#0562b4"/>
<rect x="666.90" y="275.50" width="7.30" height="10.00" fill="#0562b4"/>
<rect x="932.00" y="275.50" width="15.50" height="10.00" fill="#0562b4"/>
<text x="118.0" y="284.9" fill="#0562b4" stroke="#0562b4" text-anchor="end" font-size="14.5" textLength="24.6" lengthAdjust="spacingAndGlyphs">Nos</text>
<path d="M124.40 294.70L120.60 298.50L124.40 302.30M133.40 294.70L129.60 298.50L133.40 302.30M142.40 294.70L138.60 298.50L142.40 302.30M151.40 294.70L147.60 298.50L151.40 302.30M160.40 294.70L156.60 298.50L160.40 302.30M169.40 294.70L165.60 298.50L169.40 302.30M178.40 294.70L174.60 298.50L178.40 302.30M187.40 294.70L183.60 298.50L187.40 302.30M196.40 294.70L192.60 298.50L196.40 302.30M205.40 294.70L201.60 298.50L205.40 302.30M214.40 294.70L210.60 298.50L214.40 302.30M223.40 294.70L219.60 298.50L223.40 302.30M232.40 294.70L228.60 298.50L232.40 302.30M241.40 294.70L237.60 298.50L241.40 302.30M250.40 294.70L246.60 298.50L250.40 302.30M259.40 294.70L255.60 298.50L259.40 302.30M268.40 294.70L264.60 298.50L268.40 302.30M277.40 294.70L273.60 298.50L277.40 302.30M286.40 294.70L282.60 298.50L286.40 302.30M295.40 294.70L291.60 298.50L295.40 302.30M304.40 294.70L300.60 298.50L304.40 302.30M313.40 294.70L309.60 298.50L313.40 302.30M322.40 294.70L318.60 298.50L322.40 302.30M331.40 294.70L327.60 298.50L331.40 302.30M340.40 294.70L336.60 298.50L340.40 302.30M349.40 294.70L345.60 298.50L349.40 302.30M358.40 294.70L354.60 298.50L358.40 302.30M367.40 294.70L363.60 298.50L367.40 302.30M376.40 294.70L372.60 298.50L376.40 302.30M385.40 294.70L381.60 298.50L385.40 302.30M394.40 294.70L390.60 298.50L394.40 302.30M403.40 294.70L399.60 298.50L403.40 302.30M412.40 294.70L408.60 298.50L412.40 302.30M421.40 294.70L417.60 298.50L421.40 302.30M430.40 294.70L426.60 298.50L430.40 302.30M439.40 294.70L435.60 298.50L439.40 302.30M448.40 294.70L444.60 298.50L448.40 302.30M457.40 294.70L453.60 298.50L457.40 302.30M466.40 294.70L462.60 298.50L466.40 302.30M475.40 294.70L471.60 298.50L475.40 302.30M484.40 294.70L480.60 298.50L484.40 302.30M493.40 294.70L489.60 298.50L493.40 302.30M502.40 294.70L498.60 298.50L502.40 302.30M511.40 294.70L507.60 298.50L511.40 302.30M520.40 294.70L516.60 298.50L520.40 302.30M529.40 294.70L525.60 298.50L529.40 302.30M538.40 294.70L534.60 298.50L538.40 302.30M547.40 294.70L543.60 298.50L547.40 302.30M556.40 294.70L552.60 298.50L556.40 302.30M565.40 294.70L561.60 298.50L565.40 302.30M574.40 294.70L570.60 298.50L574.40 302.30M583.40 294.70L579.60 298.50L583.40 302.30M592.40 294.70L588.60 298.50L592.40 302.30M601.40 294.70L597.60 298.50L601.40 302.30M610.40 294.70L606.60 298.50L610.40 302.30M619.40 294.70L615.60 298.50L619.40 302.30M628.40 294.70L624.60 298.50L628.40 302.30M637.40 294.70L633.60 298.50L637.40 302.30M646.40 294.70L642.60 298.50L646.40 302.30M655.40 294.70L651.60 298.50L655.40 302.30M664.40 294.70L660.60 298.50L664.40 302.30M673.40 294.70L669.60 298.50L673.40 302.30M682.40 294.70L678.60 298.50L682.40 302.30" stroke="#74aee0" stroke-width="1.15" fill="none"/>
<line x1="120.60" y1="298.50" x2="687.40" y2="298.50" stroke="#0562b4" stroke-width="1.5"/>
<rect x="641.90" y="289.85" width="25.00" height="16.80" fill="#0562b4"/>
<rect x="244.40" y="293.50" width="6.60" height="10.00" fill="#0562b4"/>
<rect x="281.60" y="293.50" width="6.30" height="10.00" fill="#0562b4"/>
<rect x="315.40" y="293.50" width="5.10" height="10.00" fill="#0562b4"/>
<rect x="398.90" y="293.50" width="6.00" height="10.00" fill="#0562b4"/>
<rect x="409.90" y="293.50" width="5.80" height="10.00" fill="#0562b4"/>
<rect x="666.90" y="293.50" width="20.50" height="10.00" fill="#0562b4"/>
<text x="118.0" y="302.9" fill="#0562b4" stroke="#0562b4" text-anchor="end" font-size="14.5" textLength="24.6" lengthAdjust="spacingAndGlyphs">Nos</text>
<path d="M124.40 312.70L120.60 316.50L124.40 320.30M133.40 312.70L129.60 316.50L133.40 320.30M142.40 312.70L138.60 316.50L142.40 320.30M151.40 312.70L147.60 316.50L151.40 320.30M160.40 312.70L156.60 316.50L160.40 320.30M169.40 312.70L165.60 316.50L169.40 320.30M178.40 312.70L174.60 316.50L178.40 320.30M187.40 312.70L183.60 316.50L187.40 320.30M196.40 312.70L192.60 316.50L196.40 320.30M205.40 312.70L201.60 316.50L205.40 320.30M214.40 312.70L210.60 316.50L214.40 320.30M223.40 312.70L219.60 316.50L223.40 320.30M232.40 312.70L228.60 316.50L232.40 320.30M241.40 312.70L237.60 316.50L241.40 320.30M250.40 312.70L246.60 316.50L250.40 320.30M259.40 312.70L255.60 316.50L259.40 320.30M268.40 312.70L264.60 316.50L268.40 320.30M277.40 312.70L273.60 316.50L277.40 320.30M286.40 312.70L282.60 316.50L286.40 320.30M295.40 312.70L291.60 316.50L295.40 320.30M304.40 312.70L300.60 316.50L304.40 320.30M313.40 312.70L309.60 316.50L313.40 320.30M322.40 312.70L318.60 316.50L322.40 320.30M331.40 312.70L327.60 316.50L331.40 320.30M340.40 312.70L336.60 316.50L340.40 320.30M349.40 312.70L345.60 316.50L349.40 320.30M358.40 312.70L354.60 316.50L358.40 320.30M367.40 312.70L363.60 316.50L367.40 320.30M376.40 312.70L372.60 316.50L376.40 320.30M385.40 312.70L381.60 316.50L385.40 320.30M394.40 312.70L390.60 316.50L394.40 320.30M403.40 312.70L399.60 316.50L403.40 320.30M412.40 312.70L408.60 316.50L412.40 320.30M421.40 312.70L417.60 316.50L421.40 320.30M430.40 312.70L426.60 316.50L430.40 320.30M439.40 312.70L435.60 316.50L439.40 320.30M448.40 312.70L444.60 316.50L448.40 320.30M457.40 312.70L453.60 316.50L457.40 320.30M466.40 312.70L462.60 316.50L466.40 320.30M475.40 312.70L471.60 316.50L475.40 320.30M484.40 312.70L480.60 316.50L484.40 320.30M493.40 312.70L489.60 316.50L493.40 320.30M502.40 312.70L498.60 316.50L502.40 320.30M511.40 312.70L507.60 316.50L511.40 320.30M520.40 312.70L516.60 316.50L520.40 320.30M529.40 312.70L525.60 316.50L529.40 320.30M538.40 312.70L534.60 316.50L538.40 320.30M547.40 312.70L543.60 316.50L547.40 320.30M556.40 312.70L552.60 316.50L556.40 320.30M565.40 312.70L561.60 316.50L565.40 320.30M574.40 312.70L570.60 316.50L574.40 320.30M583.40 312.70L579.60 316.50L583.40 320.30M592.40 312.70L588.60 316.50L592.40 320.30M601.40 312.70L597.60 316.50L601.40 320.30M610.40 312.70L606.60 316.50L610.40 320.30M619.40 312.70L615.60 316.50L619.40 320.30M628.40 312.70L624.60 316.50L628.40 320.30M637.40 312.70L633.60 316.50L637.40 320.30M646.40 312.70L642.60 316.50L646.40 320.30M655.40 312.70L651.60 316.50L655.40 320.30M664.40 312.70L660.60 316.50L664.40 320.30M673.40 312.70L669.60 316.50L673.40 320.30M682.40 312.70L678.60 316.50L682.40 320.30M691.40 312.70L687.60 316.50L691.40 320.30M700.40 312.70L696.60 316.50L700.40 320.30M709.40 312.70L705.60 316.50L709.40 320.30M718.40 312.70L714.60 316.50L718.40 320.30M727.40 312.70L723.60 316.50L727.40 320.30M736.40 312.70L732.60 316.50L736.40 320.30M745.40 312.70L741.60 316.50L745.40 320.30M754.40 312.70L750.60 316.50L754.40 320.30M763.40 312.70L759.60 316.50L763.40 320.30M772.40 312.70L768.60 316.50L772.40 320.30M781.40 312.70L777.60 316.50L781.40 320.30M790.40 312.70L786.60 316.50L790.40 320.30M799.40 312.70L795.60 316.50L799.40 320.30M808.40 312.70L804.60 316.50L808.40 320.30M817.40 312.70L813.60 316.50L817.40 320.30M826.40 312.70L822.60 316.50L826.40 320.30M835.40 312.70L831.60 316.50L835.40 320.30M844.40 312.70L840.60 316.50L844.40 320.30M853.40 312.70L849.60 316.50L853.40 320.30M862.40 312.70L858.60 316.50L862.40 320.30M871.40 312.70L867.60 316.50L871.40 320.30M880.40 312.70L876.60 316.50L880.40 320.30M889.40 312.70L885.60 316.50L889.40 320.30M898.40 312.70L894.60 316.50L898.40 320.30M907.40 312.70L903.60 316.50L907.40 320.30" stroke="#74aee0" stroke-width="1.15" fill="none"/>
<line x1="120.60" y1="316.50" x2="907.20" y2="316.50" stroke="#0562b4" stroke-width="1.5"/>
<rect x="244.40" y="307.85" width="6.60" height="16.80" fill="#0562b4"/>
<rect x="281.60" y="307.85" width="6.30" height="16.80" fill="#0562b4"/>
<rect x="315.40" y="307.85" width="5.10" height="16.80" fill="#0562b4"/>
<rect x="398.90" y="307.85" width="6.00" height="16.80" fill="#0562b4"/>
<rect x="409.90" y="307.85" width="5.80" height="16.80" fill="#0562b4"/>
<rect x="610.10" y="307.85" width="4.50" height="16.80" fill="#0562b4"/>
<rect x="641.90" y="307.85" width="25.00" height="16.80" fill="#0562b4"/>
<rect x="666.90" y="311.50" width="7.30" height="10.00" fill="#0562b4"/>
<rect x="897.40" y="311.50" width="9.80" height="10.00" fill="#0562b4"/>
<text x="118.0" y="320.9" fill="#0562b4" stroke="#0562b4" text-anchor="end" font-size="14.5" textLength="24.6" lengthAdjust="spacingAndGlyphs">Nos</text>
<text x="912.2" y="302.9" fill="#0562b4" stroke="#0562b4" text-anchor="end" font-size="14.5" textLength="50.6" lengthAdjust="spacingAndGlyphs">CG6700</text>
<line x1="916.20" y1="298.50" x2="1078.00" y2="298.50" stroke="#0562b4" stroke-width="1.1"/>
<rect x="916.20" y="293.50" width="67.90" height="10.00" fill="#0562b4"/>
<rect x="984.10" y="290.00" width="7.50" height="17.00" fill="#0562b4"/>
<rect x="994.10" y="290.00" width="9.00" height="17.00" fill="#0562b4"/>
<rect x="1005.30" y="290.00" width="8.80" height="17.00" fill="#0562b4"/>
<rect x="1016.60" y="290.00" width="31.60" height="17.00" fill="#0562b4"/>
<rect x="1050.90" y="290.00" width="26.70" height="17.00" fill="#0562b4"/>
<text x="117.3" y="338.9" fill="#0562b4" stroke="#0562b4" text-anchor="end" font-size="14.5" textLength="50.2" lengthAdjust="spacingAndGlyphs">CG6508</text>
<rect x="120.10" y="326.00" width="50.60" height="17.00" fill="#0562b4"/>
<path d="M123.50 330.90L127.10 334.50L123.50 338.10M132.60 330.90L136.20 334.50L132.60 338.10M141.70 330.90L145.30 334.50L141.70 338.10M150.80 330.90L154.40 334.50L150.80 338.10M159.90 330.90L163.50 334.50L159.90 338.10" stroke="#fff" stroke-width="1.1" fill="none"/>
<text x="121.4" y="356.6" fill="#0562b4" stroke="#0562b4" text-anchor="start" font-size="14.5" textLength="58.8" lengthAdjust="spacingAndGlyphs">CG17134</text>
<rect x="184.70" y="344.00" width="51.90" height="17.00" fill="#0562b4"/>
<rect x="237.60" y="344.00" width="1.70" height="17.00" fill="#0562b4"/>
<path d="M187.60 348.90L191.20 352.50L187.60 356.10M196.62 348.90L200.22 352.50L196.62 356.10M205.64 348.90L209.24 352.50L205.64 356.10M214.66 348.90L218.26 352.50L214.66 356.10M223.68 348.90L227.28 352.50L223.68 356.10M232.70 348.90L236.30 352.50L232.70 356.10" stroke="#fff" stroke-width="1.1" fill="none"/>
<text x="599.5" y="375.5" fill="#2882d2" stroke="#2882d2" text-anchor="middle" font-size="14.5" textLength="166.1" lengthAdjust="spacingAndGlyphs">FlyBase Noncoding Genes</text>
<text x="599.3" y="392.4" fill="#33a542" stroke="#33a542" text-anchor="middle" font-size="14.5" textLength="382.0" lengthAdjust="spacingAndGlyphs">BDTNP Chromatin Accessibility (DNase) Stage 5, Replicate 2</text>
<line x1="120.00" y1="412.60" x2="1077.00" y2="412.60" stroke="#33a542" stroke-width="1.25"/>
<rect x="910.70" y="411.00" width="4.50" height="1.60" fill="#33a542"/>
<rect x="1009.60" y="411.00" width="15.80" height="1.60" fill="#33a542"/>
<rect x="1047.20" y="411.00" width="22.50" height="1.60" fill="#33a542"/>
<rect x="1073.50" y="411.00" width="3.50" height="1.60" fill="#33a542"/>
<text x="599.3" y="427.5" fill="#f07828" stroke="#f07828" text-anchor="middle" font-size="14.5" textLength="382.0" lengthAdjust="spacingAndGlyphs">BDTNP Chromatin Accessibility (DNase) Stage 9, Replicate 2</text>
<line x1="120.00" y1="447.70" x2="1077.00" y2="447.70" stroke="#f07828" stroke-width="1.25"/>
<rect x="1014.90" y="446.10" width="6.70" height="1.60" fill="#f07828"/>
<rect x="1053.40" y="446.10" width="4.00" height="1.60" fill="#f07828"/>
<text x="599.3" y="462.5" fill="#8c1e28" stroke="#8c1e28" text-anchor="middle" font-size="14.5" textLength="389.5" lengthAdjust="spacingAndGlyphs">BDTNP Chromatin Accessibility (DNase) Stage 10, Replicate 2</text>
<line x1="120.00" y1="482.70" x2="1077.00" y2="482.70" stroke="#8c1e28" stroke-width="1.25"/>
<rect x="1014.90" y="481.10" width="3.10" height="1.60" fill="#8c1e28"/>
<rect x="1038.90" y="481.10" width="10.00" height="1.60" fill="#8c1e28"/>
<rect x="1063.40" y="481.10" width="6.60" height="1.60" fill="#8c1e28"/>
<rect x="1073.00" y="481.50" width="4.00" height="1.20" fill="#8c1e28"/>
<text x="599.3" y="497.5" fill="#3caad2" stroke="#3caad2" text-anchor="middle" font-size="14.5" textLength="389.5" lengthAdjust="spacingAndGlyphs">BDTNP Chromatin Accessibility (DNase) Stage 11, Replicate 2</text>
<line x1="120.00" y1="517.70" x2="1077.00" y2="517.70" stroke="#3caad2" stroke-width="1.25"/>
<rect x="909.40" y="516.10" width="5.80" height="1.60" fill="#3caad2"/>
<rect x="936.20" y="516.40" width="1.30" height="1.30" fill="#3caad2"/>
<rect x="1014.10" y="516.10" width="7.30" height="1.60" fill="#3caad2"/>
<rect x="1067.20" y="516.10" width="9.80" height="1.60" fill="#3caad2"/>
<text x="599.3" y="532.5" fill="#783cb4" stroke="#783cb4" text-anchor="middle" font-size="14.5" textLength="389.5" lengthAdjust="spacingAndGlyphs">BDTNP Chromatin Accessibility (DNase) Stage 14, Replicate 2</text>
<line x1="120.00" y1="552.70" x2="1077.00" y2="552.70" stroke="#783cb4" stroke-width="1.25"/>
<rect x="849.30" y="551.50" width="3.20" height="1.20" fill="#783cb4"/>
<rect x="905.20" y="551.10" width="11.80" height="1.60" fill="#783cb4"/>
<rect x="908.00" y="550.40" width="7.00" height="2.30" fill="#783cb4"/>
<rect x="1017.00" y="551.30" width="4.50" height="1.40" fill="#783cb4"/>
<rect x="1053.00" y="551.20" width="5.00" height="1.50" fill="#783cb4"/>
<text x="599.8" y="568.2" fill="#081068" stroke="#081068" text-anchor="middle" font-size="14.5" textLength="479.0" lengthAdjust="spacingAndGlyphs">12 Flies, Mosquito, Honeybee, Beetle Multiz Alignments &amp; phastCons Scores</text>
<path d="M120.20 639.2V591.2h0.9V639.2zM121.10 639.2V590.6h0.9V639.2zM122.00 639.2V597.3h0.9V639.2zM122.90 639.2V614.6h0.9V639.2zM123.80 639.2V614.7h0.9V639.2zM124.70 639.2V605.4h0.9V639.2zM125.60 639.2V596.4h0.9V639.2zM126.50 639.2V596.0h0.9V639.2zM127.40 639.2V594.8h0.9V639.2zM128.30 639.2V592.0h0.9V639.2zM129.20 639.2V589.5h0.9V639.2zM130.10 639.2V588.8h0.9V639.2zM131.00 639.2V594.1h0.9V639.2zM131.90 639.2V601.8h0.9V639.2zM132.80 639.2V599.7h0.9V639.2zM133.70 639.2V596.2h0.9V639.2zM134.60 639.2V593.9h0.9V639.2zM135.50 639.2V596.4h0.9V639.2zM136.40 639.2V588.7h0.9V639.2zM137.30 639.2V591.6h0.9V639.2zM138.20 639.2V592.4h0.9V639.2zM139.10 639.2V594.5h0.9V639.2zM140.00 639.2V596.0h0.9V639.2zM140.90 639.2V594.8h0.9V639.2zM141.80 639.2V597.1h0.9V639.2zM142.70 639.2V599.9h0.9V639.2zM143.60 639.2V604.0h0.9V639.2zM144.50 639.2V599.0h0.9V639.2zM145.40 639.2V597.8h0.9V639.2zM146.30 639.2V593.9h0.9V639.2zM147.20 639.2V597.4h0.9V639.2zM148.10 639.2V600.4h0.9V639.2zM149.00 639.2V596.8h0.9V639.2zM149.90 639.2V593.0h0.9V639.2zM150.80 639.2V588.3h0.9V639.2zM151.70 639.2V593.9h0.9V639.2zM152.60 639.2V592.6h0.9V639.2zM153.50 639.2V597.6h0.9V639.2zM154.40 639.2V604.5h0.9V639.2zM155.30 639.2V605.5h0.9V639.2zM156.20 639.2V597.2h0.9V639.2zM157.10 639.2V604.0h0.9V639.2zM158.00 639.2V596.6h0.9V639.2zM158.90 639.2V601.9h0.9V639.2zM159.80 639.2V608.0h0.9V639.2zM160.70 639.2V604.1h0.9V639.2zM161.60 639.2V601.0h0.9V639.2zM162.50 639.2V595.1h0.9V639.2zM163.40 639.2V593.5h0.9V639.2zM164.30 639.2V590.4h0.9V639.2zM165.20 639.2V594.0h0.9V639.2zM166.10 639.2V599.3h0.9V639.2zM167.00 639.2V601.0h0.9V639.2zM167.90 639.2V609.4h0.9V639.2zM168.80 639.2V606.8h0.9V639.2zM169.70 639.2V604.5h0.9V639.2zM170.60 639.2V604.4h0.9V639.2zM171.50 639.2V603.7h0.9V639.2zM172.40 639.2V605.9h0.9V639.2zM173.30 639.2V605.0h0.9V639.2zM174.20 639.2V605.3h0.9V639.2zM175.10 639.2V610.9h0.9V639.2zM176.00 639.2V607.6h0.9V639.2zM176.90 639.2V605.6h0.9V639.2zM177.80 639.2V604.3h0.9V639.2zM178.70 639.2V606.8h0.9V639.2zM179.60 639.2V607.6h0.9V639.2zM180.50 639.2V612.1h0.9V639.2zM181.40 639.2V604.8h0.9V639.2zM182.30 639.2V607.8h0.9V639.2zM183.20 639.2V603.1h0.9V639.2zM184.10 639.2V603.1h0.9V639.2zM185.00 639.2V602.5h0.9V639.2zM185.90 639.2V605.6h0.9V639.2zM186.80 639.2V599.9h0.9V639.2zM187.70 639.2V594.5h0.9V639.2zM188.60 639.2V604.6h0.9V639.2zM189.50 639.2V593.8h0.9V639.2zM190.40 639.2V593.3h0.9V639.2zM191.30 639.2V595.4h0.9V639.2zM192.20 639.2V595.8h0.9V639.2zM193.10 639.2V602.5h0.9V639.2zM194.00 639.2V599.7h0.9V639.2zM194.90 639.2V594.8h0.9V639.2zM195.80 639.2V595.2h0.9V639.2zM196.70 639.2V594.5h0.9V639.2zM197.60 639.2V591.7h0.9V639.2zM198.50 639.2V589.2h0.9V639.2zM199.40 639.2V590.0h0.9V639.2zM200.30 639.2V591.8h0.9V639.2zM201.20 639.2V598.0h0.9V639.2zM202.10 639.2V594.9h0.9V639.2zM203.00 639.2V592.4h0.9V639.2zM203.90 639.2V594.6h0.9V639.2zM204.80 639.2V593.8h0.9V639.2zM205.70 639.2V595.0h0.9V639.2zM206.60 639.2V593.7h0.9V639.2zM207.50 639.2V591.8h0.9V639.2zM208.40 639.2V589.9h0.9V639.2zM209.30 639.2V591.3h0.9V639.2zM210.20 639.2V599.4h0.9V639.2zM211.10 639.2V590.8h0.9V639.2zM212.00 639.2V588.6h0.9V639.2zM212.90 639.2V591.0h0.9V639.2zM213.80 639.2V604.6h0.9V639.2zM214.70 639.2V598.1h0.9V639.2zM215.60 639.2V592.7h0.9V639.2zM216.50 639.2V590.1h0.9V639.2zM217.40 639.2V591.0h0.9V639.2zM218.30 639.2V587.5h0.9V639.2zM219.20 639.2V587.5h0.9V639.2zM220.10 639.2V583.7h0.9V639.2zM221.00 639.2V584.9h0.9V639.2zM221.90 639.2V588.7h0.9V639.2zM222.80 639.2V598.7h0.9V639.2zM223.70 639.2V602.9h0.9V639.2zM224.60 639.2V600.1h0.9V639.2zM225.50 639.2V591.9h0.9V639.2zM226.40 639.2V594.5h0.9V639.2zM227.30 639.2V596.9h0.9V639.2zM228.20 639.2V594.1h0.9V639.2zM229.10 639.2V596.4h0.9V639.2zM230.00 639.2V598.0h0.9V639.2zM230.90 639.2V600.6h0.9V639.2zM231.80 639.2V605.9h0.9V639.2zM232.70 639.2V584.8h0.9V639.2zM233.60 639.2V584.2h0.9V639.2zM234.50 639.2V586.1h0.9V639.2zM235.40 639.2V598.0h0.9V639.2zM236.30 639.2V595.9h0.9V639.2zM237.20 639.2V598.2h0.9V639.2zM238.10 639.2V604.0h0.9V639.2zM239.00 639.2V605.5h0.9V639.2zM239.90 639.2V612.2h0.9V639.2zM240.80 639.2V606.9h0.9V639.2zM241.70 639.2V606.9h0.9V639.2zM242.60 639.2V593.6h0.9V639.2zM243.50 639.2V582.2h0.9V639.2zM244.40 639.2V582.0h0.9V639.2zM245.30 639.2V581.0h0.9V639.2zM246.20 639.2V578.2h0.9V639.2zM247.10 639.2V577.6h0.9V639.2zM248.00 639.2V579.2h0.9V639.2zM248.90 639.2V580.4h0.9V639.2zM249.80 639.2V582.3h0.9V639.2zM250.70 639.2V580.3h0.9V639.2zM251.60 639.2V591.8h0.9V639.2zM252.50 639.2V600.5h0.9V639.2zM253.40 639.2V601.0h0.9V639.2zM254.30 639.2V593.1h0.9V639.2zM255.20 639.2V594.2h0.9V639.2zM256.10 639.2V590.6h0.9V639.2zM257.00 639.2V592.4h0.9V639.2zM257.90 639.2V602.6h0.9V639.2zM258.80 639.2V608.3h0.9V639.2zM259.70 639.2V605.5h0.9V639.2zM260.60 639.2V597.3h0.9V639.2zM261.50 639.2V585.9h0.9V639.2zM262.40 639.2V587.5h0.9V639.2zM263.30 639.2V584.7h0.9V639.2zM264.20 639.2V585.4h0.9V639.2zM265.10 639.2V593.1h0.9V639.2zM266.00 639.2V593.6h0.9V639.2zM266.90 639.2V605.8h0.9V639.2zM267.80 639.2V598.1h0.9V639.2zM268.70 639.2V607.1h0.9V639.2zM269.60 639.2V615.8h0.9V639.2zM270.50 639.2V603.9h0.9V639.2zM271.40 639.2V602.2h0.9V639.2zM272.30 639.2V602.3h0.9V639.2zM273.20 639.2V603.7h0.9V639.2zM274.10 639.2V596.9h0.9V639.2zM275.00 639.2V609.0h0.9V639.2zM275.90 639.2V604.4h0.9V639.2zM276.80 639.2V613.4h0.9V639.2zM277.70 639.2V603.5h0.9V639.2zM278.60 639.2V611.7h0.9V639.2zM279.50 639.2V612.3h0.9V639.2zM280.40 639.2V597.1h0.9V639.2zM281.30 639.2V582.1h0.9V639.2zM282.20 639.2V582.9h0.9V639.2zM283.10 639.2V582.6h0.9V639.2zM284.00 639.2V588.4h0.9V639.2zM284.90 639.2V589.3h0.9V639.2zM285.80 639.2V586.2h0.9V639.2zM286.70 639.2V582.4h0.9V639.2zM287.60 639.2V580.3h0.9V639.2zM288.50 639.2V584.8h0.9V639.2zM289.40 639.2V594.2h0.9V639.2zM290.30 639.2V598.2h0.9V639.2zM291.20 639.2V602.4h0.9V639.2zM292.10 639.2V602.2h0.9V639.2zM293.00 639.2V604.6h0.9V639.2zM293.90 639.2V604.5h0.9V639.2zM294.80 639.2V605.5h0.9V639.2zM295.70 639.2V606.0h0.9V639.2zM296.60 639.2V609.8h0.9V639.2zM297.50 639.2V600.2h0.9V639.2zM298.40 639.2V595.7h0.9V639.2zM299.30 639.2V600.8h0.9V639.2zM300.20 639.2V606.3h0.9V639.2zM301.10 639.2V600.7h0.9V639.2zM302.00 639.2V611.0h0.9V639.2zM302.90 639.2V604.7h0.9V639.2zM303.80 639.2V607.5h0.9V639.2zM304.70 639.2V608.2h0.9V639.2zM305.60 639.2V607.0h0.9V639.2zM306.50 639.2V609.1h0.9V639.2zM307.40 639.2V607.2h0.9V639.2zM308.30 639.2V612.0h0.9V639.2zM309.20 639.2V610.5h0.9V639.2zM310.10 639.2V615.0h0.9V639.2zM311.00 639.2V615.5h0.9V639.2zM311.90 639.2V606.4h0.9V639.2zM312.80 639.2V606.4h0.9V639.2zM313.70 639.2V604.8h0.9V639.2zM314.60 639.2V585.4h0.9V639.2zM315.50 639.2V582.4h0.9V639.2zM316.40 639.2V580.5h0.9V639.2zM317.30 639.2V580.8h0.9V639.2zM318.20 639.2V582.2h0.9V639.2zM319.10 639.2V583.8h0.9V639.2zM320.00 639.2V604.8h0.9V639.2zM320.90 639.2V616.5h0.9V639.2zM321.80 639.2V615.4h0.9V639.2zM322.70 639.2V611.6h0.9V639.2zM323.60 639.2V615.0h0.9V639.2zM324.50 639.2V606.7h0.9V639.2zM325.40 639.2V598.5h0.9V639.2zM326.30 639.2V599.7h0.9V639.2zM327.20 639.2V605.7h0.9V639.2zM328.10 639.2V605.2h0.9V639.2zM329.00 639.2V604.3h0.9V639.2zM329.90 639.2V606.1h0.9V639.2zM330.80 639.2V615.6h0.9V639.2zM331.70 639.2V602.3h0.9V639.2zM332.60 639.2V598.4h0.9V639.2zM333.50 639.2V596.6h0.9V639.2zM334.40 639.2V598.0h0.9V639.2zM335.30 639.2V597.9h0.9V639.2zM336.20 639.2V595.3h0.9V639.2zM337.10 639.2V590.2h0.9V639.2zM338.00 639.2V597.8h0.9V639.2zM338.90 639.2V597.9h0.9V639.2zM339.80 639.2V607.3h0.9V639.2zM340.70 639.2V598.0h0.9V639.2zM341.60 639.2V592.9h0.9V639.2zM342.50 639.2V598.8h0.9V639.2zM343.40 639.2V596.7h0.9V639.2zM344.30 639.2V593.6h0.9V639.2zM345.20 639.2V596.5h0.9V639.2zM346.10 639.2V600.5h0.9V639.2zM347.00 639.2V603.0h0.9V639.2zM347.90 639.2V596.0h0.9V639.2zM348.80 639.2V598.3h0.9V639.2zM349.70 639.2V602.2h0.9V639.2zM350.60 639.2V594.3h0.9V639.2zM351.50 639.2V593.8h0.9V639.2zM352.40 639.2V595.7h0.9V639.2zM353.30 639.2V601.4h0.9V639.2zM354.20 639.2V597.5h0.9V639.2zM355.10 639.2V597.8h0.9V639.2zM356.00 639.2V603.7h0.9V639.2zM356.90 639.2V604.8h0.9V639.2zM357.80 639.2V602.7h0.9V639.2zM358.70 639.2V597.6h0.9V639.2zM359.60 639.2V597.7h0.9V639.2zM360.50 639.2V603.0h0.9V639.2zM361.40 639.2V609.9h0.9V639.2zM362.30 639.2V607.7h0.9V639.2zM363.20 639.2V614.1h0.9V639.2zM364.10 639.2V602.8h0.9V639.2zM365.00 639.2V603.1h0.9V639.2zM365.90 639.2V602.9h0.9V639.2zM366.80 639.2V607.6h0.9V639.2zM367.70 639.2V598.0h0.9V639.2zM368.60 639.2V596.5h0.9V639.2zM369.50 639.2V592.6h0.9V639.2zM370.40 639.2V593.4h0.9V639.2zM371.30 639.2V592.7h0.9V639.2zM372.20 639.2V596.7h0.9V639.2zM373.10 639.2V603.7h0.9V639.2zM374.00 639.2V607.8h0.9V639.2zM374.90 639.2V603.1h0.9V639.2zM375.80 639.2V603.5h0.9V639.2zM376.70 639.2V598.2h0.9V639.2zM377.60 639.2V596.3h0.9V639.2zM378.50 639.2V589.7h0.9V639.2zM379.40 639.2V589.5h0.9V639.2zM380.30 639.2V588.8h0.9V639.2zM381.20 639.2V590.9h0.9V639.2zM382.10 639.2V596.8h0.9V639.2zM383.00 639.2V604.2h0.9V639.2zM383.90 639.2V599.2h0.9V639.2zM384.80 639.2V592.2h0.9V639.2zM385.70 639.2V594.2h0.9V639.2zM386.60 639.2V602.8h0.9V639.2zM387.50 639.2V598.8h0.9V639.2zM388.40 639.2V597.1h0.9V639.2zM389.30 639.2V596.7h0.9V639.2zM390.20 639.2V600.1h0.9V639.2zM391.10 639.2V605.1h0.9V639.2zM392.00 639.2V601.1h0.9V639.2zM392.90 639.2V602.2h0.9V639.2zM393.80 639.2V599.9h0.9V639.2zM394.70 639.2V601.2h0.9V639.2zM395.60 639.2V603.6h0.9V639.2zM396.50 639.2V597.2h0.9V639.2zM397.40 639.2V583.4h0.9V639.2zM398.30 639.2V582.3h0.9V639.2zM399.20 639.2V582.2h0.9V639.2zM400.10 639.2V582.7h0.9V639.2zM401.00 639.2V585.3h0.9V639.2zM401.90 639.2V581.3h0.9V639.2zM402.80 639.2V585.2h0.9V639.2zM403.70 639.2V583.5h0.9V639.2zM404.60 639.2V584.8h0.9V639.2zM405.50 639.2V594.9h0.9V639.2zM406.40 639.2V603.7h0.9V639.2zM407.30 639.2V606.8h0.9V639.2zM408.20 639.2V621.2h0.9V639.2zM409.10 639.2V598.1h0.9V639.2zM410.00 639.2V583.2h0.9V639.2zM410.90 639.2V584.5h0.9V639.2zM411.80 639.2V584.3h0.9V639.2zM412.70 639.2V590.1h0.9V639.2zM413.60 639.2V592.5h0.9V639.2zM414.50 639.2V587.8h0.9V639.2zM415.40 639.2V592.3h0.9V639.2zM416.30 639.2V598.2h0.9V639.2zM417.20 639.2V597.7h0.9V639.2zM418.10 639.2V603.2h0.9V639.2zM419.00 639.2V592.4h0.9V639.2zM419.90 639.2V585.0h0.9V639.2zM420.80 639.2V588.4h0.9V639.2zM421.70 639.2V591.6h0.9V639.2zM422.60 639.2V596.6h0.9V639.2zM423.50 639.2V598.4h0.9V639.2zM424.40 639.2V598.0h0.9V639.2zM425.30 639.2V597.1h0.9V639.2zM426.20 639.2V605.7h0.9V639.2zM427.10 639.2V609.3h0.9V639.2zM428.00 639.2V607.6h0.9V639.2zM428.90 639.2V578.4h0.9V639.2zM429.80 639.2V580.3h0.9V639.2zM430.70 639.2V593.2h0.9V639.2zM431.60 639.2V605.2h0.9V639.2zM432.50 639.2V600.8h0.9V639.2zM433.40 639.2V606.2h0.9V639.2zM434.30 639.2V581.5h0.9V639.2zM435.20 639.2V586.0h0.9V639.2zM436.10 639.2V591.8h0.9V639.2zM437.00 639.2V585.2h0.9V639.2zM437.90 639.2V589.2h0.9V639.2zM438.80 639.2V605.2h0.9V639.2zM439.70 639.2V601.6h0.9V639.2zM440.60 639.2V594.5h0.9V639.2zM441.50 639.2V580.4h0.9V639.2zM442.40 639.2V577.2h0.9V639.2zM443.30 639.2V582.4h0.9V639.2zM444.20 639.2V588.7h0.9V639.2zM445.10 639.2V597.2h0.9V639.2zM446.00 639.2V605.0h0.9V639.2zM446.90 639.2V603.5h0.9V639.2zM447.80 639.2V604.4h0.9V639.2zM448.70 639.2V599.3h0.9V639.2zM449.60 639.2V601.3h0.9V639.2zM450.50 639.2V600.9h0.9V639.2zM451.40 639.2V604.0h0.9V639.2zM452.30 639.2V599.3h0.9V639.2zM453.20 639.2V600.8h0.9V639.2zM454.10 639.2V603.4h0.9V639.2zM455.00 639.2V603.0h0.9V639.2zM455.90 639.2V604.6h0.9V639.2zM456.80 639.2V603.3h0.9V639.2zM457.70 639.2V605.3h0.9V639.2zM458.60 639.2V610.2h0.9V639.2zM459.50 639.2V606.1h0.9V639.2zM460.40 639.2V611.9h0.9V639.2zM461.30 639.2V608.5h0.9V639.2zM462.20 639.2V606.6h0.9V639.2zM463.10 639.2V602.4h0.9V639.2zM464.00 639.2V602.4h0.9V639.2zM464.90 639.2V599.5h0.9V639.2zM465.80 639.2V605.2h0.9V639.2zM466.70 639.2V602.4h0.9V639.2zM467.60 639.2V602.0h0.9V639.2zM468.50 639.2V602.8h0.9V639.2zM469.40 639.2V602.9h0.9V639.2zM470.30 639.2V606.6h0.9V639.2zM471.20 639.2V605.0h0.9V639.2zM472.10 639.2V611.7h0.9V639.2zM473.00 639.2V601.8h0.9V639.2zM473.90 639.2V599.3h0.9V639.2zM474.80 639.2V603.2h0.9V639.2zM475.70 639.2V603.3h0.9V639.2zM476.60 639.2V603.0h0.9V639.2zM477.50 639.2V599.8h0.9V639.2zM478.40 639.2V597.3h0.9V639.2zM479.30 639.2V596.8h0.9V639.2zM480.20 639.2V596.6h0.9V639.2zM481.10 639.2V594.9h0.9V639.2zM482.00 639.2V579.6h0.9V639.2zM482.90 639.2V579.0h0.9V639.2zM483.80 639.2V588.2h0.9V639.2zM484.70 639.2V587.0h0.9V639.2zM485.60 639.2V593.9h0.9V639.2zM486.50 639.2V610.0h0.9V639.2zM487.40 639.2V601.5h0.9V639.2zM488.30 639.2V595.3h0.9V639.2zM489.20 639.2V603.8h0.9V639.2zM490.10 639.2V600.7h0.9V639.2zM491.00 639.2V602.3h0.9V639.2zM491.90 639.2V600.2h0.9V639.2zM492.80 639.2V599.7h0.9V639.2zM493.70 639.2V598.5h0.9V639.2zM494.60 639.2V601.0h0.9V639.2zM495.50 639.2V597.5h0.9V639.2zM496.40 639.2V590.2h0.9V639.2zM497.30 639.2V587.4h0.9V639.2zM498.20 639.2V584.4h0.9V639.2zM499.10 639.2V584.4h0.9V639.2zM500.00 639.2V612.2h0.9V639.2zM500.90 639.2V588.6h0.9V639.2zM501.80 639.2V592.4h0.9V639.2zM502.70 639.2V599.7h0.9V639.2zM503.60 639.2V604.1h0.9V639.2zM504.50 639.2V603.5h0.9V639.2zM505.40 639.2V602.3h0.9V639.2zM506.30 639.2V593.5h0.9V639.2zM507.20 639.2V593.4h0.9V639.2zM508.10 639.2V595.7h0.9V639.2zM509.00 639.2V598.9h0.9V639.2zM509.90 639.2V603.7h0.9V639.2zM510.80 639.2V598.6h0.9V639.2zM511.70 639.2V598.7h0.9V639.2zM512.60 639.2V599.1h0.9V639.2zM513.50 639.2V599.0h0.9V639.2zM514.40 639.2V601.7h0.9V639.2zM515.30 639.2V599.3h0.9V639.2zM516.20 639.2V605.0h0.9V639.2zM517.10 639.2V599.9h0.9V639.2zM518.00 639.2V604.6h0.9V639.2zM518.90 639.2V606.1h0.9V639.2zM519.80 639.2V611.8h0.9V639.2zM520.70 639.2V609.2h0.9V639.2zM521.60 639.2V601.9h0.9V639.2zM522.50 639.2V604.3h0.9V639.2zM523.40 639.2V600.8h0.9V639.2zM524.30 639.2V604.5h0.9V639.2zM525.20 639.2V603.6h0.9V639.2zM526.10 639.2V603.5h0.9V639.2zM527.00 639.2V603.4h0.9V639.2zM527.90 639.2V604.7h0.9V639.2zM528.80 639.2V603.0h0.9V639.2zM529.70 639.2V612.8h0.9V639.2zM530.60 639.2V601.9h0.9V639.2zM531.50 639.2V599.1h0.9V639.2zM532.40 639.2V595.5h0.9V639.2zM533.30 639.2V604.9h0.9V639.2zM534.20 639.2V602.6h0.9V639.2zM535.10 639.2V607.3h0.9V639.2zM536.00 639.2V599.6h0.9V639.2zM536.90 639.2V599.5h0.9V639.2zM537.80 639.2V600.8h0.9V639.2zM538.70 639.2V605.5h0.9V639.2zM539.60 639.2V597.7h0.9V639.2zM540.50 639.2V598.7h0.9V639.2zM541.40 639.2V602.5h0.9V639.2zM542.30 639.2V603.8h0.9V639.2zM543.20 639.2V607.0h0.9V639.2zM544.10 639.2V606.5h0.9V639.2zM545.00 639.2V602.3h0.9V639.2zM545.90 639.2V601.1h0.9V639.2zM546.80 639.2V602.0h0.9V639.2zM547.70 639.2V601.9h0.9V639.2zM548.60 639.2V605.7h0.9V639.2zM549.50 639.2V601.4h0.9V639.2zM550.40 639.2V599.1h0.9V639.2zM551.30 639.2V592.7h0.9V639.2zM552.20 639.2V596.6h0.9V639.2zM553.10 639.2V595.3h0.9V639.2zM554.00 639.2V590.9h0.9V639.2zM554.90 639.2V585.5h0.9V639.2zM555.80 639.2V588.1h0.9V639.2zM556.70 639.2V587.5h0.9V639.2zM557.60 639.2V578.5h0.9V639.2zM558.50 639.2V578.2h0.9V639.2zM559.40 639.2V586.4h0.9V639.2zM560.30 639.2V580.0h0.9V639.2zM561.20 639.2V602.9h0.9V639.2zM562.10 639.2V585.0h0.9V639.2zM563.00 639.2V585.6h0.9V639.2zM563.90 639.2V598.7h0.9V639.2zM564.80 639.2V606.4h0.9V639.2zM565.70 639.2V591.3h0.9V639.2zM566.60 639.2V588.7h0.9V639.2zM567.50 639.2V594.1h0.9V639.2zM568.40 639.2V596.2h0.9V639.2zM569.30 639.2V595.4h0.9V639.2zM570.20 639.2V593.9h0.9V639.2zM571.10 639.2V598.6h0.9V639.2zM572.00 639.2V604.1h0.9V639.2zM572.90 639.2V604.2h0.9V639.2zM573.80 639.2V602.0h0.9V639.2zM574.70 639.2V603.9h0.9V639.2zM575.60 639.2V606.8h0.9V639.2zM576.50 639.2V611.0h0.9V639.2zM577.40 639.2V603.6h0.9V639.2zM578.30 639.2V602.7h0.9V639.2zM579.20 639.2V601.9h0.9V639.2zM580.10 639.2V603.0h0.9V639.2zM581.00 639.2V602.8h0.9V639.2zM581.90 639.2V600.4h0.9V639.2zM582.80 639.2V604.8h0.9V639.2zM583.70 639.2V606.5h0.9V639.2zM584.60 639.2V609.3h0.9V639.2zM585.50 639.2V608.2h0.9V639.2zM586.40 639.2V596.0h0.9V639.2zM587.30 639.2V584.1h0.9V639.2zM588.20 639.2V586.5h0.9V639.2zM589.10 639.2V593.0h0.9V639.2zM590.00 639.2V610.5h0.9V639.2zM590.90 639.2V601.1h0.9V639.2zM591.80 639.2V594.9h0.9V639.2zM592.70 639.2V590.5h0.9V639.2zM593.60 639.2V593.4h0.9V639.2zM594.50 639.2V592.1h0.9V639.2zM595.40 639.2V607.6h0.9V639.2zM596.30 639.2V607.5h0.9V639.2zM597.20 639.2V605.9h0.9V639.2zM598.10 639.2V595.9h0.9V639.2zM599.00 639.2V587.9h0.9V639.2zM599.90 639.2V585.9h0.9V639.2zM600.80 639.2V578.4h0.9V639.2zM601.70 639.2V595.5h0.9V639.2zM602.60 639.2V605.7h0.9V639.2zM603.50 639.2V596.1h0.9V639.2zM604.40 639.2V592.7h0.9V639.2zM605.30 639.2V588.1h0.9V639.2zM606.20 639.2V599.0h0.9V639.2zM607.10 639.2V600.0h0.9V639.2zM608.00 639.2V590.7h0.9V639.2zM608.90 639.2V604.0h0.9V639.2zM609.80 639.2V599.5h0.9V639.2zM610.70 639.2V589.0h0.9V639.2zM611.60 639.2V579.4h0.9V639.2zM612.50 639.2V576.3h0.9V639.2zM613.40 639.2V585.1h0.9V639.2zM614.30 639.2V577.8h0.9V639.2zM615.20 639.2V575.5h0.9V639.2zM616.10 639.2V579.8h0.9V639.2zM617.00 639.2V604.6h0.9V639.2zM617.90 639.2V607.6h0.9V639.2zM618.80 639.2V598.6h0.9V639.2zM619.70 639.2V609.2h0.9V639.2zM620.60 639.2V612.1h0.9V639.2zM621.50 639.2V607.8h0.9V639.2zM622.40 639.2V614.1h0.9V639.2zM623.30 639.2V612.8h0.9V639.2zM624.20 639.2V611.4h0.9V639.2zM625.10 639.2V613.2h0.9V639.2zM626.00 639.2V620.8h0.9V639.2zM626.90 639.2V614.9h0.9V639.2zM627.80 639.2V621.9h0.9V639.2zM628.70 639.2V604.1h0.9V639.2zM629.60 639.2V606.1h0.9V639.2zM630.50 639.2V613.5h0.9V639.2zM631.40 639.2V610.4h0.9V639.2zM632.30 639.2V610.2h0.9V639.2zM633.20 639.2V610.3h0.9V639.2zM634.10 639.2V612.4h0.9V639.2zM635.00 639.2V610.0h0.9V639.2zM635.90 639.2V606.5h0.9V639.2zM636.80 639.2V605.2h0.9V639.2zM637.70 639.2V598.8h0.9V639.2zM638.60 639.2V595.4h0.9V639.2zM639.50 639.2V584.5h0.9V639.2zM640.40 639.2V576.2h0.9V639.2zM641.30 639.2V575.5h0.9V639.2zM642.20 639.2V576.1h0.9V639.2zM643.10 639.2V585.1h0.9V639.2zM644.00 639.2V582.5h0.9V639.2zM644.90 639.2V582.4h0.9V639.2zM645.80 639.2V598.6h0.9V639.2zM646.70 639.2V607.5h0.9V639.2zM647.60 639.2V599.3h0.9V639.2zM648.50 639.2V590.1h0.9V639.2zM649.40 639.2V582.0h0.9V639.2zM650.30 639.2V588.4h0.9V639.2zM651.20 639.2V579.9h0.9V639.2zM652.10 639.2V590.1h0.9V639.2zM653.00 639.2V589.6h0.9V639.2zM653.90 639.2V605.7h0.9V639.2zM654.80 639.2V606.0h0.9V639.2zM655.70 639.2V598.6h0.9V639.2zM656.60 639.2V603.1h0.9V639.2zM657.50 639.2V594.2h0.9V639.2zM658.40 639.2V586.4h0.9V639.2zM659.30 639.2V595.0h0.9V639.2zM660.20 639.2V587.9h0.9V639.2zM661.10 639.2V593.7h0.9V639.2zM662.00 639.2V591.9h0.9V639.2zM662.90 639.2V586.7h0.9V639.2zM663.80 639.2V584.0h0.9V639.2zM664.70 639.2V579.9h0.9V639.2zM665.60 639.2V581.1h0.9V639.2zM666.50 639.2V575.5h0.9V639.2zM667.40 639.2V591.9h0.9V639.2zM668.30 639.2V605.6h0.9V639.2zM669.20 639.2V588.8h0.9V639.2zM670.10 639.2V582.4h0.9V639.2zM671.00 639.2V585.0h0.9V639.2zM671.90 639.2V593.6h0.9V639.2zM672.80 639.2V591.7h0.9V639.2zM673.70 639.2V587.1h0.9V639.2zM674.60 639.2V597.8h0.9V639.2zM675.50 639.2V588.6h0.9V639.2zM676.40 639.2V590.2h0.9V639.2zM677.30 639.2V600.5h0.9V639.2zM678.20 639.2V607.1h0.9V639.2zM679.10 639.2V605.0h0.9V639.2zM680.00 639.2V613.0h0.9V639.2zM680.90 639.2V609.8h0.9V639.2zM681.80 639.2V613.0h0.9V639.2zM682.70 639.2V609.2h0.9V639.2zM683.60 639.2V607.5h0.9V639.2zM684.50 639.2V610.6h0.9V639.2zM685.40 639.2V606.5h0.9V639.2zM686.30 639.2V611.6h0.9V639.2zM687.20 639.2V610.8h0.9V639.2zM688.10 639.2V601.1h0.9V639.2zM689.00 639.2V601.1h0.9V639.2zM689.90 639.2V601.8h0.9V639.2zM690.80 639.2V598.4h0.9V639.2zM691.70 639.2V594.5h0.9V639.2zM692.60 639.2V590.0h0.9V639.2zM693.50 639.2V583.2h0.9V639.2zM694.40 639.2V588.4h0.9V639.2zM695.30 639.2V592.3h0.9V639.2zM696.20 639.2V586.8h0.9V639.2zM697.10 639.2V586.5h0.9V639.2zM698.00 639.2V592.2h0.9V639.2zM698.90 639.2V588.6h0.9V639.2zM699.80 639.2V583.7h0.9V639.2zM700.70 639.2V583.3h0.9V639.2zM701.60 639.2V585.3h0.9V639.2zM702.50 639.2V597.5h0.9V639.2zM703.40 639.2V594.7h0.9V639.2zM704.30 639.2V599.0h0.9V639.2zM705.20 639.2V604.1h0.9V639.2zM706.10 639.2V604.6h0.9V639.2zM707.00 639.2V595.6h0.9V639.2zM707.90 639.2V584.6h0.9V639.2zM708.80 639.2V592.6h0.9V639.2zM709.70 639.2V602.5h0.9V639.2zM710.60 639.2V609.8h0.9V639.2zM711.50 639.2V605.5h0.9V639.2zM712.40 639.2V601.4h0.9V639.2zM713.30 639.2V601.7h0.9V639.2zM714.20 639.2V605.1h0.9V639.2zM715.10 639.2V607.3h0.9V639.2zM716.00 639.2V602.7h0.9V639.2zM716.90 639.2V602.8h0.9V639.2zM717.80 639.2V597.9h0.9V639.2zM718.70 639.2V600.4h0.9V639.2zM719.60 639.2V609.0h0.9V639.2zM720.50 639.2V605.7h0.9V639.2zM721.40 639.2V604.9h0.9V639.2zM722.30 639.2V608.3h0.9V639.2zM723.20 639.2V605.5h0.9V639.2zM724.10 639.2V604.2h0.9V639.2zM725.00 639.2V602.0h0.9V639.2zM725.90 639.2V600.3h0.9V639.2zM726.80 639.2V599.5h0.9V639.2zM727.70 639.2V602.5h0.9V639.2zM728.60 639.2V602.5h0.9V639.2zM729.50 639.2V595.4h0.9V639.2zM730.40 639.2V598.1h0.9V639.2zM731.30 639.2V601.4h0.9V639.2zM732.20 639.2V596.8h0.9V639.2zM733.10 639.2V598.1h0.9V639.2zM734.00 639.2V602.2h0.9V639.2zM734.90 639.2V601.1h0.9V639.2zM735.80 639.2V599.7h0.9V639.2zM736.70 639.2V604.2h0.9V639.2zM737.60 639.2V599.2h0.9V639.2zM738.50 639.2V592.9h0.9V639.2zM739.40 639.2V595.2h0.9V639.2zM740.30 639.2V583.8h0.9V639.2zM741.20 639.2V584.0h0.9V639.2zM742.10 639.2V591.0h0.9V639.2zM743.00 639.2V590.0h0.9V639.2zM743.90 639.2V596.9h0.9V639.2zM744.80 639.2V610.4h0.9V639.2zM745.70 639.2V601.8h0.9V639.2zM746.60 639.2V582.5h0.9V639.2zM747.50 639.2V583.7h0.9V639.2zM748.40 639.2V594.7h0.9V639.2zM749.30 639.2V593.8h0.9V639.2zM750.20 639.2V598.4h0.9V639.2zM751.10 639.2V601.2h0.9V639.2zM752.00 639.2V600.0h0.9V639.2zM752.90 639.2V605.6h0.9V639.2zM753.80 639.2V599.6h0.9V639.2zM754.70 639.2V599.6h0.9V639.2zM755.60 639.2V599.4h0.9V639.2zM756.50 639.2V602.3h0.9V639.2zM757.40 639.2V608.4h0.9V639.2zM758.30 639.2V610.2h0.9V639.2zM759.20 639.2V608.4h0.9V639.2zM760.10 639.2V606.6h0.9V639.2zM761.00 639.2V605.2h0.9V639.2zM761.90 639.2V604.5h0.9V639.2zM762.80 639.2V604.3h0.9V639.2zM763.70 639.2V606.1h0.9V639.2zM764.60 639.2V604.2h0.9V639.2zM765.50 639.2V613.6h0.9V639.2zM766.40 639.2V607.4h0.9V639.2zM767.30 639.2V607.5h0.9V639.2zM768.20 639.2V605.2h0.9V639.2zM769.10 639.2V604.5h0.9V639.2zM770.00 639.2V605.9h0.9V639.2zM770.90 639.2V614.1h0.9V639.2zM771.80 639.2V604.9h0.9V639.2zM772.70 639.2V606.5h0.9V639.2zM773.60 639.2V600.6h0.9V639.2zM774.50 639.2V609.7h0.9V639.2zM775.40 639.2V598.3h0.9V639.2zM776.30 639.2V603.2h0.9V639.2zM777.20 639.2V602.3h0.9V639.2zM778.10 639.2V598.5h0.9V639.2zM779.00 639.2V594.3h0.9V639.2zM779.90 639.2V589.3h0.9V639.2zM780.80 639.2V581.1h0.9V639.2zM781.70 639.2V583.6h0.9V639.2zM782.60 639.2V589.0h0.9V639.2zM783.50 639.2V586.1h0.9V639.2zM784.40 639.2V582.3h0.9V639.2zM785.30 639.2V589.9h0.9V639.2zM786.20 639.2V595.8h0.9V639.2zM787.10 639.2V596.9h0.9V639.2zM788.00 639.2V596.1h0.9V639.2zM788.90 639.2V601.7h0.9V639.2zM789.80 639.2V607.4h0.9V639.2zM790.70 639.2V603.2h0.9V639.2zM791.60 639.2V605.4h0.9V639.2zM792.50 639.2V592.5h0.9V639.2zM793.40 639.2V594.6h0.9V639.2zM794.30 639.2V601.5h0.9V639.2zM795.20 639.2V599.4h0.9V639.2zM796.10 639.2V599.9h0.9V639.2zM797.00 639.2V607.7h0.9V639.2zM797.90 639.2V602.4h0.9V639.2zM798.80 639.2V607.5h0.9V639.2zM799.70 639.2V606.2h0.9V639.2zM800.60 639.2V604.2h0.9V639.2zM801.50 639.2V604.5h0.9V639.2zM802.40 639.2V606.4h0.9V639.2zM803.30 639.2V604.6h0.9V639.2zM804.20 639.2V603.4h0.9V639.2zM805.10 639.2V605.1h0.9V639.2zM806.00 639.2V609.8h0.9V639.2zM806.90 639.2V611.0h0.9V639.2zM807.80 639.2V609.2h0.9V639.2zM808.70 639.2V607.8h0.9V639.2zM809.60 639.2V607.9h0.9V639.2zM810.50 639.2V605.7h0.9V639.2zM811.40 639.2V604.8h0.9V639.2zM812.30 639.2V605.3h0.9V639.2zM813.20 639.2V603.2h0.9V639.2zM814.10 639.2V606.8h0.9V639.2zM815.00 639.2V595.8h0.9V639.2zM815.90 639.2V601.8h0.9V639.2zM816.80 639.2V603.6h0.9V639.2zM817.70 639.2V598.7h0.9V639.2zM818.60 639.2V597.6h0.9V639.2zM819.50 639.2V597.0h0.9V639.2zM820.40 639.2V598.9h0.9V639.2zM821.30 639.2V601.0h0.9V639.2zM822.20 639.2V601.3h0.9V639.2zM823.10 639.2V597.4h0.9V639.2zM824.00 639.2V593.6h0.9V639.2zM824.90 639.2V598.0h0.9V639.2zM825.80 639.2V602.7h0.9V639.2zM826.70 639.2V603.1h0.9V639.2zM827.60 639.2V598.5h0.9V639.2zM828.50 639.2V593.9h0.9V639.2zM829.40 639.2V596.5h0.9V639.2zM830.30 639.2V596.7h0.9V639.2zM831.20 639.2V595.0h0.9V639.2zM832.10 639.2V600.9h0.9V639.2zM833.00 639.2V599.1h0.9V639.2zM833.90 639.2V597.4h0.9V639.2zM834.80 639.2V598.8h0.9V639.2zM835.70 639.2V606.1h0.9V639.2zM836.60 639.2V602.9h0.9V639.2zM837.50 639.2V603.6h0.9V639.2zM838.40 639.2V602.1h0.9V639.2zM839.30 639.2V601.5h0.9V639.2zM840.20 639.2V602.1h0.9V639.2zM841.10 639.2V609.1h0.9V639.2zM842.00 639.2V606.3h0.9V639.2zM842.90 639.2V614.1h0.9V639.2zM843.80 639.2V606.2h0.9V639.2zM844.70 639.2V605.0h0.9V639.2zM845.60 639.2V602.8h0.9V639.2zM846.50 639.2V609.8h0.9V639.2zM847.40 639.2V599.4h0.9V639.2zM848.30 639.2V595.9h0.9V639.2zM849.20 639.2V599.5h0.9V639.2zM850.10 639.2V601.7h0.9V639.2zM851.00 639.2V600.2h0.9V639.2zM851.90 639.2V596.2h0.9V639.2zM852.80 639.2V607.0h0.9V639.2zM853.70 639.2V598.1h0.9V639.2zM854.60 639.2V599.4h0.9V639.2zM855.50 639.2V597.7h0.9V639.2zM856.40 639.2V591.7h0.9V639.2zM857.30 639.2V594.0h0.9V639.2zM858.20 639.2V596.2h0.9V639.2zM859.10 639.2V603.9h0.9V639.2zM860.00 639.2V606.8h0.9V639.2zM860.90 639.2V602.3h0.9V639.2zM861.80 639.2V602.0h0.9V639.2zM862.70 639.2V600.6h0.9V639.2zM863.60 639.2V602.8h0.9V639.2zM864.50 639.2V608.1h0.9V639.2zM865.40 639.2V603.6h0.9V639.2zM866.30 639.2V612.7h0.9V639.2zM867.20 639.2V606.0h0.9V639.2zM868.10 639.2V599.9h0.9V639.2zM869.00 639.2V600.6h0.9V639.2zM869.90 639.2V603.1h0.9V639.2zM870.80 639.2V601.2h0.9V639.2zM871.70 639.2V598.9h0.9V639.2zM872.60 639.2V604.0h0.9V639.2zM873.50 639.2V601.3h0.9V639.2zM874.40 639.2V605.1h0.9V639.2zM875.30 639.2V616.4h0.9V639.2zM876.20 639.2V609.3h0.9V639.2zM877.10 639.2V607.3h0.9V639.2zM878.00 639.2V609.2h0.9V639.2zM878.90 639.2V612.0h0.9V639.2zM879.80 639.2V608.1h0.9V639.2zM880.70 639.2V604.0h0.9V639.2zM881.60 639.2V610.0h0.9V639.2zM882.50 639.2V612.5h0.9V639.2zM883.40 639.2V622.8h0.9V639.2zM884.30 639.2V613.5h0.9V639.2zM885.20 639.2V610.9h0.9V639.2zM886.10 639.2V610.6h0.9V639.2zM887.00 639.2V627.0h0.9V639.2zM887.90 639.2V616.4h0.9V639.2zM888.80 639.2V616.0h0.9V639.2zM889.70 639.2V614.8h0.9V639.2zM890.60 639.2V614.7h0.9V639.2zM891.50 639.2V616.9h0.9V639.2zM892.40 639.2V630.1h0.9V639.2zM893.30 639.2V626.7h0.9V639.2zM894.20 639.2V618.9h0.9V639.2zM895.10 639.2V624.1h0.9V639.2zM896.00 639.2V625.0h0.9V639.2zM896.90 639.2V625.6h0.9V639.2zM897.80 639.2V612.8h0.9V639.2zM898.70 639.2V610.3h0.9V639.2zM899.60 639.2V608.1h0.9V639.2zM900.50 639.2V617.7h0.9V639.2zM901.40 639.2V606.4h0.9V639.2zM902.30 639.2V604.8h0.9V639.2zM903.20 639.2V602.8h0.9V639.2zM904.10 639.2V600.4h0.9V639.2zM905.00 639.2V594.7h0.9V639.2zM905.90 639.2V587.2h0.9V639.2zM906.80 639.2V578.0h0.9V639.2zM907.70 639.2V580.5h0.9V639.2zM908.60 639.2V579.3h0.9V639.2zM909.50 639.2V586.0h0.9V639.2zM910.40 639.2V595.4h0.9V639.2zM911.30 639.2V588.6h0.9V639.2zM912.20 639.2V598.1h0.9V639.2zM913.10 639.2V605.8h0.9V639.2zM914.00 639.2V603.1h0.9V639.2zM914.90 639.2V608.4h0.9V639.2zM915.80 639.2V600.1h0.9V639.2zM916.70 639.2V600.0h0.9V639.2zM917.60 639.2V597.9h0.9V639.2zM918.50 639.2V599.3h0.9V639.2zM919.40 639.2V599.1h0.9V639.2zM920.30 639.2V593.7h0.9V639.2zM921.20 639.2V592.9h0.9V639.2zM922.10 639.2V596.2h0.9V639.2zM923.00 639.2V606.0h0.9V639.2zM923.90 639.2V604.7h0.9V639.2zM924.80 639.2V604.0h0.9V639.2zM925.70 639.2V606.4h0.9V639.2zM926.60 639.2V611.4h0.9V639.2zM927.50 639.2V604.3h0.9V639.2zM928.40 639.2V604.9h0.9V639.2zM929.30 639.2V615.6h0.9V639.2zM930.20 639.2V600.8h0.9V639.2zM931.10 639.2V589.6h0.9V639.2zM932.00 639.2V591.6h0.9V639.2zM932.90 639.2V592.9h0.9V639.2zM933.80 639.2V610.6h0.9V639.2zM934.70 639.2V610.4h0.9V639.2zM935.60 639.2V617.0h0.9V639.2zM936.50 639.2V606.6h0.9V639.2zM937.40 639.2V606.9h0.9V639.2zM938.30 639.2V612.6h0.9V639.2zM939.20 639.2V603.9h0.9V639.2zM940.10 639.2V594.2h0.9V639.2zM941.00 639.2V580.0h0.9V639.2zM941.90 639.2V581.4h0.9V639.2zM942.80 639.2V585.0h0.9V639.2zM943.70 639.2V588.9h0.9V639.2zM944.60 639.2V590.7h0.9V639.2zM945.50 639.2V604.1h0.9V639.2zM946.40 639.2V602.3h0.9V639.2zM947.30 639.2V597.4h0.9V639.2zM948.20 639.2V604.8h0.9V639.2zM949.10 639.2V599.8h0.9V639.2zM950.00 639.2V598.5h0.9V639.2zM950.90 639.2V599.6h0.9V639.2zM951.80 639.2V610.1h0.9V639.2zM952.70 639.2V605.7h0.9V639.2zM953.60 639.2V604.6h0.9V639.2zM954.50 639.2V600.3h0.9V639.2zM955.40 639.2V603.4h0.9V639.2zM956.30 639.2V600.6h0.9V639.2zM957.20 639.2V599.8h0.9V639.2zM958.10 639.2V601.0h0.9V639.2zM959.00 639.2V600.8h0.9V639.2zM959.90 639.2V604.6h0.9V639.2zM960.80 639.2V605.5h0.9V639.2zM961.70 639.2V603.5h0.9V639.2zM962.60 639.2V605.4h0.9V639.2zM963.50 639.2V601.7h0.9V639.2zM964.40 639.2V606.1h0.9V639.2zM965.30 639.2V602.4h0.9V639.2zM966.20 639.2V603.6h0.9V639.2zM967.10 639.2V602.9h0.9V639.2zM968.00 639.2V603.0h0.9V639.2zM968.90 639.2V605.1h0.9V639.2zM969.80 639.2V602.0h0.9V639.2zM970.70 639.2V598.8h0.9V639.2zM971.60 639.2V600.2h0.9V639.2zM972.50 639.2V603.4h0.9V639.2zM973.40 639.2V601.1h0.9V639.2zM974.30 639.2V600.3h0.9V639.2zM975.20 639.2V599.7h0.9V639.2zM976.10 639.2V604.0h0.9V639.2zM977.00 639.2V601.5h0.9V639.2zM977.90 639.2V600.4h0.9V639.2zM978.80 639.2V603.1h0.9V639.2zM979.70 639.2V597.3h0.9V639.2zM980.60 639.2V601.4h0.9V639.2zM981.50 639.2V600.5h0.9V639.2zM982.40 639.2V603.1h0.9V639.2zM983.30 639.2V596.3h0.9V639.2zM984.20 639.2V594.2h0.9V639.2zM985.10 639.2V584.6h0.9V639.2zM986.00 639.2V584.4h0.9V639.2zM986.90 639.2V583.3h0.9V639.2zM987.80 639.2V584.2h0.9V639.2zM988.70 639.2V589.5h0.9V639.2zM989.60 639.2V596.6h0.9V639.2zM990.50 639.2V593.8h0.9V639.2zM991.40 639.2V592.3h0.9V639.2zM992.30 639.2V616.5h0.9V639.2zM993.20 639.2V589.6h0.9V639.2zM994.10 639.2V586.6h0.9V639.2zM995.00 639.2V585.8h0.9V639.2zM995.90 639.2V589.8h0.9V639.2zM996.80 639.2V590.3h0.9V639.2zM997.70 639.2V589.5h0.9V639.2zM998.60 639.2V584.3h0.9V639.2zM999.50 639.2V586.8h0.9V639.2zM1000.40 639.2V591.5h0.9V639.2zM1001.30 639.2V590.0h0.9V639.2zM1002.20 639.2V592.5h0.9V639.2zM1003.10 639.2V600.0h0.9V639.2zM1004.00 639.2V596.8h0.9V639.2zM1004.90 639.2V585.0h0.9V639.2zM1005.80 639.2V581.5h0.9V639.2zM1006.70 639.2V584.6h0.9V639.2zM1007.60 639.2V589.5h0.9V639.2zM1008.50 639.2V593.3h0.9V639.2zM1009.40 639.2V583.2h0.9V639.2zM1010.30 639.2V586.4h0.9V639.2zM1011.20 639.2V579.4h0.9V639.2zM1012.10 639.2V581.4h0.9V639.2zM1013.00 639.2V581.6h0.9V639.2zM1013.90 639.2V583.4h0.9V639.2zM1014.80 639.2V596.1h0.9V639.2zM1015.70 639.2V595.4h0.9V639.2zM1016.60 639.2V582.8h0.9V639.2zM1017.50 639.2V580.8h0.9V639.2zM1018.40 639.2V582.6h0.9V639.2zM1019.30 639.2V584.9h0.9V639.2zM1020.20 639.2V588.7h0.9V639.2zM1021.10 639.2V589.9h0.9V639.2zM1022.00 639.2V589.0h0.9V639.2zM1022.90 639.2V585.1h0.9V639.2zM1023.80 639.2V584.7h0.9V639.2zM1024.70 639.2V590.6h0.9V639.2zM1025.60 639.2V601.1h0.9V639.2zM1026.50 639.2V606.2h0.9V639.2zM1027.40 639.2V598.9h0.9V639.2zM1028.30 639.2V593.2h0.9V639.2zM1029.20 639.2V587.2h0.9V639.2zM1030.10 639.2V586.8h0.9V639.2zM1031.00 639.2V587.6h0.9V639.2zM1031.90 639.2V587.1h0.9V639.2zM1032.80 639.2V591.9h0.9V639.2zM1033.70 639.2V584.5h0.9V639.2zM1034.60 639.2V586.7h0.9V639.2zM1035.50 639.2V595.4h0.9V639.2zM1036.40 639.2V596.7h0.9V639.2zM1037.30 639.2V596.5h0.9V639.2zM1038.20 639.2V593.3h0.9V639.2zM1039.10 639.2V594.1h0.9V639.2zM1040.00 639.2V594.7h0.9V639.2zM1040.90 639.2V599.1h0.9V639.2zM1041.80 639.2V594.4h0.9V639.2zM1042.70 639.2V591.3h0.9V639.2zM1043.60 639.2V598.1h0.9V639.2zM1044.50 639.2V608.8h0.9V639.2zM1045.40 639.2V599.4h0.9V639.2zM1046.30 639.2V597.2h0.9V639.2zM1047.20 639.2V602.5h0.9V639.2zM1048.10 639.2V597.0h0.9V639.2zM1049.00 639.2V610.9h0.9V639.2zM1049.90 639.2V596.4h0.9V639.2zM1050.80 639.2V590.6h0.9V639.2zM1051.70 639.2V590.9h0.9V639.2zM1052.60 639.2V593.1h0.9V639.2zM1053.50 639.2V599.4h0.9V639.2zM1054.40 639.2V595.8h0.9V639.2zM1055.30 639.2V603.2h0.9V639.2zM1056.20 639.2V616.4h0.9V639.2zM1057.10 639.2V604.3h0.9V639.2zM1058.00 639.2V601.4h0.9V639.2zM1058.90 639.2V599.5h0.9V639.2zM1059.80 639.2V594.5h0.9V639.2zM1060.70 639.2V587.4h0.9V639.2zM1061.60 639.2V582.6h0.9V639.2zM1062.50 639.2V582.5h0.9V639.2zM1063.40 639.2V589.0h0.9V639.2zM1064.30 639.2V587.3h0.9V639.2zM1065.20 639.2V586.7h0.9V639.2zM1066.10 639.2V585.2h0.9V639.2zM1067.00 639.2V586.6h0.9V639.2zM1067.90 639.2V588.0h0.9V639.2zM1068.80 639.2V592.4h0.9V639.2zM1069.70 639.2V596.0h0.9V639.2zM1070.60 639.2V595.9h0.9V639.2zM1071.50 639.2V600.6h0.9V639.2zM1072.40 639.2V611.2h0.9V639.2zM1073.30 639.2V619.8h0.9V639.2zM1074.20 639.2V609.0h0.9V639.2zM1075.10 639.2V607.6h0.9V639.2zM1076.00 639.2V601.8h0.9V639.2zM1076.90 639.2V603.0h0.9V639.2z" fill="#081068"/><path d="M130.75 592.0V639.2M141.55 597.6V639.2M152.35 589.4V639.2M163.15 595.6V639.2M173.95 606.1V639.2M184.75 603.9V639.2M195.55 595.9V639.2M206.35 595.4V639.2M217.15 592.5V639.2M227.95 596.4V639.2M238.75 605.6V639.2M249.55 583.3V639.2M260.35 606.6V639.2M271.15 605.1V639.2M281.95 583.0V639.2M292.75 606.1V639.2M303.55 607.0V639.2M314.35 602.3V639.2M325.15 606.9V639.2M335.95 600.2V639.2M346.75 603.6V639.2M357.55 604.5V639.2M368.35 600.5V639.2M379.15 590.7V639.2M389.95 599.3V639.2M400.75 582.8V639.2M411.55 581.9V639.2M422.35 595.1V639.2M433.15 608.9V639.2M443.95 585.7V639.2M454.75 603.7V639.2M465.55 602.2V639.2M476.35 604.6V639.2M487.15 612.4V639.2M497.95 588.2V639.2M508.75 599.2V639.2M519.55 608.7V639.2M530.35 605.0V639.2M541.15 601.4V639.2M551.95 594.1V639.2M562.75 589.1V639.2M573.55 602.6V639.2M584.35 608.0V639.2M595.15 609.6V639.2M605.95 588.8V639.2M616.75 593.1V639.2M627.55 618.5V639.2M638.35 601.4V639.2M649.15 593.2V639.2M659.95 588.0V639.2M670.75 581.8V639.2M681.55 611.8V639.2M692.35 597.9V639.2M703.15 597.2V639.2M713.95 603.8V639.2M724.75 605.3V639.2M735.55 603.3V639.2M746.35 601.7V639.2M757.15 605.3V639.2M767.95 607.1V639.2M778.75 599.3V639.2M789.55 607.0V639.2M800.35 608.0V639.2M811.15 606.9V639.2M821.95 603.9V639.2M832.75 595.9V639.2M843.55 607.1V639.2M854.35 600.9V639.2M865.15 598.5V639.2M875.95 610.8V639.2M886.75 616.5V639.2M897.55 620.2V639.2M908.35 579.5V639.2M919.15 600.0V639.2M929.95 618.0V639.2M940.75 596.5V639.2M951.55 602.9V639.2M962.35 606.1V639.2M973.15 605.4V639.2M983.95 596.1V639.2M994.75 589.3V639.2M1005.55 583.0V639.2M1016.35 594.3V639.2M1027.15 608.3V639.2M1037.95 598.6V639.2M1048.75 602.8V639.2M1059.55 601.5V639.2M1070.35 597.0V639.2" stroke="#dcdcff" stroke-opacity="0.2" stroke-width="1.1" fill="none"/><path d="M635.3 617.7V626.3M615.0 582.6V629.5M462.6 608.6V630.4M1026.2 605.6V626.1M215.5 599.9V629.2M657.1 600.1V617.2M1042.1 599.9V628.2M717.5 606.4V630.6M627.3 620.5V634.9M424.8 603.3V618.5M610.5 599.7V616.8M779.8 597.9V614.4M969.2 607.1V635.3M397.9 586.0V626.6M300.6 599.6V623.4M697.0 588.3V614.4M728.9 599.2V628.9M873.2 601.5V621.9M124.7 609.7V618.1M680.8 612.6V634.3M596.5 613.4V632.5M738.7 599.0V614.3M669.6 591.6V636.2M270.7 610.5V636.5M216.6 592.6V626.1M907.1 585.5V619.0M180.3 602.0V619.9M429.3 584.3V630.4M282.8 584.2V636.7M984.2 595.7V630.5M550.6 603.2V637.8M971.5 603.5V615.2M540.9 602.4V633.0M163.0 600.9V617.8M421.6 595.6V618.8M411.0 586.7V615.2M594.3 597.6V633.1M493.3 603.6V633.7M416.2 601.7V627.1M878.1 609.9V634.9M463.3 605.9V614.9M398.6 586.0V636.3M630.7 615.5V629.1M183.5 605.0V618.6M456.4 604.8V634.4M391.8 603.9V638.3M755.4 600.0V635.3M795.1 602.1V632.5M918.4 598.1V628.1M919.7 604.1V635.2M458.0 610.8V629.8M1036.3 597.1V615.4M603.1 607.3V627.9M246.1 584.9V632.7M980.1 601.3V630.0M356.2 604.0V633.9M954.1 600.6V626.4M639.2 598.8V619.9M488.5 600.8V625.0M417.8 600.3V637.0" stroke="#fff" stroke-opacity="0.08" stroke-width="0.9" fill="none"/><path d="M120.20 692.3v-9.2h0.9v9.2zM122.00 692.3v-19.5h0.9v19.5zM122.90 692.3v-11.4h0.9v11.4zM123.80 692.3v-1.6h0.9v1.6zM124.70 692.3v-1.8h0.9v1.8zM125.60 692.3v-29.8h0.9v29.8zM126.50 692.3v-33.3h0.9v33.3zM127.40 692.3v-33.7h0.9v33.7zM129.20 692.3v-14.5h0.9v14.5zM130.10 692.3v-18.5h0.9v18.5zM131.00 692.3v-14.6h0.9v14.6zM131.90 692.3v-4.9h0.9v4.9zM133.70 692.3v-8.8h0.9v8.8zM135.50 692.3v-2.4h0.9v2.4zM136.40 692.3v-4.4h0.9v4.4zM137.30 692.3v-5.1h0.9v5.1zM138.20 692.3v-12.3h0.9v12.3zM139.10 692.3v-29.5h0.9v29.5zM140.00 692.3v-18.0h0.9v18.0zM140.90 692.3v-6.2h0.9v6.2zM141.80 692.3v-11.9h0.9v11.9zM143.60 692.3v-2.8h0.9v2.8zM144.50 692.3v-31.4h0.9v31.4zM145.40 692.3v-33.7h0.9v33.7zM146.30 692.3v-11.2h0.9v11.2zM147.20 692.3v-26.4h0.9v26.4zM148.10 692.3v-12.1h0.9v12.1zM149.00 692.3v-11.5h0.9v11.5zM149.90 692.3v-11.1h0.9v11.1zM150.80 692.3v-28.6h0.9v28.6zM151.70 692.3v-10.2h0.9v10.2zM152.60 692.3v-15.1h0.9v15.1zM154.40 692.3v-12.3h0.9v12.3zM155.30 692.3v-2.8h0.9v2.8zM156.20 692.3v-9.8h0.9v9.8zM157.10 692.3v-10.8h0.9v10.8zM158.00 692.3v-2.4h0.9v2.4zM158.90 692.3v-8.1h0.9v8.1zM159.80 692.3v-3.4h0.9v3.4zM160.70 692.3v-1.8h0.9v1.8zM161.60 692.3v-30.0h0.9v30.0zM162.50 692.3v-32.7h0.9v32.7zM164.30 692.3v-29.0h0.9v29.0zM165.20 692.3v-23.6h0.9v23.6zM167.00 692.3v-0.9h0.9v0.9zM167.90 692.3v-0.9h0.9v0.9zM168.80 692.3v-0.9h0.9v0.9zM169.70 692.3v-0.9h0.9v0.9zM170.60 692.3v-0.9h0.9v0.9zM171.50 692.3v-0.9h0.9v0.9zM172.40 692.3v-1.7h0.9v1.7zM173.30 692.3v-5.0h0.9v5.0zM174.20 692.3v-3.2h0.9v3.2zM175.10 692.3v-0.9h0.9v0.9zM176.90 692.3v-4.2h0.9v4.2zM177.80 692.3v-2.5h0.9v2.5zM178.70 692.3v-1.0h0.9v1.0zM179.60 692.3v-2.0h0.9v2.0zM180.50 692.3v-4.0h0.9v4.0zM181.40 692.3v-0.9h0.9v0.9zM182.30 692.3v-5.3h0.9v5.3zM183.20 692.3v-4.5h0.9v4.5zM185.00 692.3v-16.5h0.9v16.5zM186.80 692.3v-11.2h0.9v11.2zM187.70 692.3v-14.4h0.9v14.4zM188.60 692.3v-21.9h0.9v21.9zM190.40 692.3v-27.7h0.9v27.7zM191.30 692.3v-14.5h0.9v14.5zM192.20 692.3v-11.4h0.9v11.4zM193.10 692.3v-2.8h0.9v2.8zM194.00 692.3v-12.4h0.9v12.4zM194.90 692.3v-12.4h0.9v12.4zM195.80 692.3v-19.4h0.9v19.4zM196.70 692.3v-34.5h0.9v34.5zM198.50 692.3v-30.8h0.9v30.8zM199.40 692.3v-18.5h0.9v18.5zM200.30 692.3v-27.5h0.9v27.5zM201.20 692.3v-29.3h0.9v29.3zM202.10 692.3v-5.7h0.9v5.7zM206.60 692.3v-23.7h0.9v23.7zM207.50 692.3v-25.2h0.9v25.2zM208.40 692.3v-22.0h0.9v22.0zM209.30 692.3v-19.9h0.9v19.9zM210.20 692.3v-28.4h0.9v28.4zM212.00 692.3v-21.3h0.9v21.3zM213.80 692.3v-33.3h0.9v33.3zM214.70 692.3v-33.7h0.9v33.7zM215.60 692.3v-32.9h0.9v32.9zM216.50 692.3v-26.1h0.9v26.1zM218.30 692.3v-24.0h0.9v24.0zM219.20 692.3v-18.2h0.9v18.2zM220.10 692.3v-21.6h0.9v21.6zM221.00 692.3v-22.4h0.9v22.4zM221.90 692.3v-3.4h0.9v3.4zM222.80 692.3v-6.9h0.9v6.9zM223.70 692.3v-10.7h0.9v10.7zM224.60 692.3v-17.3h0.9v17.3zM226.40 692.3v-24.6h0.9v24.6zM227.30 692.3v-11.2h0.9v11.2zM228.20 692.3v-6.4h0.9v6.4zM229.10 692.3v-18.0h0.9v18.0zM230.90 692.3v-31.8h0.9v31.8zM232.70 692.3v-35.2h0.9v35.2zM233.60 692.3v-34.3h0.9v34.3zM235.40 692.3v-17.0h0.9v17.0zM236.30 692.3v-2.7h0.9v2.7zM237.20 692.3v-2.4h0.9v2.4zM238.10 692.3v-2.5h0.9v2.5zM239.00 692.3v-1.6h0.9v1.6zM239.90 692.3v-1.1h0.9v1.1zM240.80 692.3v-1.1h0.9v1.1zM241.70 692.3v-1.1h0.9v1.1zM242.60 692.3v-6.8h0.9v6.8zM244.40 692.3v-35.2h0.9v35.2zM245.30 692.3v-21.0h0.9v21.0zM246.20 692.3v-35.2h0.9v35.2zM247.10 692.3v-35.2h0.9v35.2zM248.00 692.3v-35.2h0.9v35.2zM248.90 692.3v-35.2h0.9v35.2zM250.70 692.3v-19.7h0.9v19.7zM251.60 692.3v-34.8h0.9v34.8zM253.40 692.3v-24.9h0.9v24.9zM256.10 692.3v-35.2h0.9v35.2zM257.00 692.3v-11.3h0.9v11.3zM257.90 692.3v-1.7h0.9v1.7zM258.80 692.3v-16.0h0.9v16.0zM259.70 692.3v-1.8h0.9v1.8zM261.50 692.3v-35.2h0.9v35.2zM262.40 692.3v-35.2h0.9v35.2zM263.30 692.3v-35.2h0.9v35.2zM264.20 692.3v-35.2h0.9v35.2zM265.10 692.3v-26.6h0.9v26.6zM266.90 692.3v-20.3h0.9v20.3zM268.70 692.3v-9.8h0.9v9.8zM270.50 692.3v-14.8h0.9v14.8zM271.40 692.3v-25.0h0.9v25.0zM272.30 692.3v-4.7h0.9v4.7zM273.20 692.3v-23.1h0.9v23.1zM274.10 692.3v-3.8h0.9v3.8zM275.00 692.3v-13.7h0.9v13.7zM275.90 692.3v-8.9h0.9v8.9zM276.80 692.3v-5.3h0.9v5.3zM278.60 692.3v-4.6h0.9v4.6zM279.50 692.3v-10.5h0.9v10.5zM280.40 692.3v-16.4h0.9v16.4zM281.30 692.3v-33.8h0.9v33.8zM282.20 692.3v-20.4h0.9v20.4zM283.10 692.3v-35.2h0.9v35.2zM284.00 692.3v-35.2h0.9v35.2zM284.90 692.3v-35.2h0.9v35.2zM285.80 692.3v-35.2h0.9v35.2zM286.70 692.3v-35.2h0.9v35.2zM287.60 692.3v-26.0h0.9v26.0zM288.50 692.3v-5.9h0.9v5.9zM289.40 692.3v-3.7h0.9v3.7zM290.30 692.3v-1.3h0.9v1.3zM291.20 692.3v-8.2h0.9v8.2zM292.10 692.3v-7.6h0.9v7.6zM293.90 692.3v-18.0h0.9v18.0zM294.80 692.3v-17.2h0.9v17.2zM295.70 692.3v-1.6h0.9v1.6zM296.60 692.3v-14.4h0.9v14.4zM297.50 692.3v-32.9h0.9v32.9zM298.40 692.3v-30.2h0.9v30.2zM299.30 692.3v-4.2h0.9v4.2zM300.20 692.3v-18.7h0.9v18.7zM301.10 692.3v-19.5h0.9v19.5zM302.90 692.3v-28.1h0.9v28.1zM304.70 692.3v-1.6h0.9v1.6zM305.60 692.3v-14.2h0.9v14.2zM306.50 692.3v-6.4h0.9v6.4zM307.40 692.3v-1.1h0.9v1.1zM308.30 692.3v-1.1h0.9v1.1zM309.20 692.3v-1.4h0.9v1.4zM310.10 692.3v-3.8h0.9v3.8zM311.00 692.3v-1.1h0.9v1.1zM311.90 692.3v-3.3h0.9v3.3zM312.80 692.3v-3.2h0.9v3.2zM314.60 692.3v-34.9h0.9v34.9zM315.50 692.3v-35.2h0.9v35.2zM316.40 692.3v-35.2h0.9v35.2zM317.30 692.3v-35.2h0.9v35.2zM318.20 692.3v-35.2h0.9v35.2zM320.00 692.3v-4.0h0.9v4.0zM320.90 692.3v-3.1h0.9v3.1zM321.80 692.3v-0.9h0.9v0.9zM322.70 692.3v-1.8h0.9v1.8zM323.60 692.3v-1.6h0.9v1.6zM324.50 692.3v-13.0h0.9v13.0zM325.40 692.3v-7.5h0.9v7.5zM327.20 692.3v-2.3h0.9v2.3zM328.10 692.3v-2.5h0.9v2.5zM329.00 692.3v-3.5h0.9v3.5zM329.90 692.3v-7.3h0.9v7.3zM330.80 692.3v-18.5h0.9v18.5zM331.70 692.3v-27.5h0.9v27.5zM332.60 692.3v-34.4h0.9v34.4zM333.50 692.3v-34.2h0.9v34.2zM334.40 692.3v-32.4h0.9v32.4zM335.30 692.3v-17.9h0.9v17.9zM337.10 692.3v-8.5h0.9v8.5zM338.00 692.3v-35.0h0.9v35.0zM338.90 692.3v-32.5h0.9v32.5zM340.70 692.3v-1.1h0.9v1.1zM341.60 692.3v-5.3h0.9v5.3zM342.50 692.3v-9.4h0.9v9.4zM343.40 692.3v-2.5h0.9v2.5zM344.30 692.3v-29.9h0.9v29.9zM345.20 692.3v-1.9h0.9v1.9zM346.10 692.3v-29.2h0.9v29.2zM347.00 692.3v-17.9h0.9v17.9zM347.90 692.3v-28.6h0.9v28.6zM348.80 692.3v-17.0h0.9v17.0zM351.50 692.3v-29.3h0.9v29.3zM353.30 692.3v-27.0h0.9v27.0zM354.20 692.3v-25.7h0.9v25.7zM355.10 692.3v-26.7h0.9v26.7zM356.00 692.3v-4.7h0.9v4.7zM356.90 692.3v-1.7h0.9v1.7zM357.80 692.3v-19.3h0.9v19.3zM358.70 692.3v-23.4h0.9v23.4zM360.50 692.3v-7.2h0.9v7.2zM361.40 692.3v-3.3h0.9v3.3zM362.30 692.3v-6.7h0.9v6.7zM364.10 692.3v-8.5h0.9v8.5zM365.00 692.3v-2.7h0.9v2.7zM365.90 692.3v-7.4h0.9v7.4zM366.80 692.3v-19.0h0.9v19.0zM367.70 692.3v-21.1h0.9v21.1zM368.60 692.3v-5.9h0.9v5.9zM374.00 692.3v-33.7h0.9v33.7zM374.90 692.3v-31.4h0.9v31.4zM376.70 692.3v-33.0h0.9v33.0zM378.50 692.3v-24.6h0.9v24.6zM380.30 692.3v-28.8h0.9v28.8zM383.00 692.3v-18.0h0.9v18.0zM383.90 692.3v-33.9h0.9v33.9zM385.70 692.3v-23.3h0.9v23.3zM386.60 692.3v-20.2h0.9v20.2zM387.50 692.3v-31.2h0.9v31.2zM388.40 692.3v-17.3h0.9v17.3zM389.30 692.3v-1.2h0.9v1.2zM390.20 692.3v-13.7h0.9v13.7zM391.10 692.3v-7.7h0.9v7.7zM392.00 692.3v-2.0h0.9v2.0zM392.90 692.3v-6.7h0.9v6.7zM393.80 692.3v-1.2h0.9v1.2zM394.70 692.3v-0.9h0.9v0.9zM395.60 692.3v-0.9h0.9v0.9zM396.50 692.3v-22.2h0.9v22.2zM397.40 692.3v-33.5h0.9v33.5zM398.30 692.3v-35.2h0.9v35.2zM399.20 692.3v-35.2h0.9v35.2zM400.10 692.3v-35.2h0.9v35.2zM401.00 692.3v-35.2h0.9v35.2zM401.90 692.3v-35.2h0.9v35.2zM402.80 692.3v-21.3h0.9v21.3zM403.70 692.3v-8.6h0.9v8.6zM404.60 692.3v-1.9h0.9v1.9zM405.50 692.3v-2.6h0.9v2.6zM406.40 692.3v-1.8h0.9v1.8zM407.30 692.3v-0.9h0.9v0.9zM408.20 692.3v-2.1h0.9v2.1zM410.00 692.3v-35.2h0.9v35.2zM410.90 692.3v-35.2h0.9v35.2zM411.80 692.3v-35.2h0.9v35.2zM412.70 692.3v-23.7h0.9v23.7zM413.60 692.3v-35.2h0.9v35.2zM414.50 692.3v-33.2h0.9v33.2zM415.40 692.3v-19.7h0.9v19.7zM416.30 692.3v-14.5h0.9v14.5zM417.20 692.3v-15.8h0.9v15.8zM418.10 692.3v-25.4h0.9v25.4zM419.00 692.3v-35.1h0.9v35.1zM419.90 692.3v-34.6h0.9v34.6zM420.80 692.3v-34.1h0.9v34.1zM421.70 692.3v-35.0h0.9v35.0zM422.60 692.3v-33.6h0.9v33.6zM423.50 692.3v-2.1h0.9v2.1zM424.40 692.3v-20.0h0.9v20.0zM425.30 692.3v-21.4h0.9v21.4zM426.20 692.3v-21.8h0.9v21.8zM427.10 692.3v-2.9h0.9v2.9zM428.00 692.3v-14.5h0.9v14.5zM428.90 692.3v-34.9h0.9v34.9zM429.80 692.3v-3.5h0.9v3.5zM432.50 692.3v-35.2h0.9v35.2zM433.40 692.3v-35.2h0.9v35.2zM434.30 692.3v-26.0h0.9v26.0zM435.20 692.3v-18.5h0.9v18.5zM436.10 692.3v-23.2h0.9v23.2zM437.90 692.3v-34.8h0.9v34.8zM438.80 692.3v-31.0h0.9v31.0zM439.70 692.3v-11.1h0.9v11.1zM440.60 692.3v-13.8h0.9v13.8zM441.50 692.3v-13.6h0.9v13.6zM442.40 692.3v-35.1h0.9v35.1zM443.30 692.3v-32.9h0.9v32.9zM444.20 692.3v-10.8h0.9v10.8zM445.10 692.3v-7.1h0.9v7.1zM446.00 692.3v-24.0h0.9v24.0zM446.90 692.3v-7.3h0.9v7.3zM447.80 692.3v-15.0h0.9v15.0zM448.70 692.3v-4.8h0.9v4.8zM449.60 692.3v-3.6h0.9v3.6zM450.50 692.3v-2.8h0.9v2.8zM451.40 692.3v-1.4h0.9v1.4zM452.30 692.3v-1.7h0.9v1.7zM453.20 692.3v-1.8h0.9v1.8zM454.10 692.3v-1.1h0.9v1.1zM455.00 692.3v-0.9h0.9v0.9zM455.90 692.3v-0.9h0.9v0.9zM456.80 692.3v-0.9h0.9v0.9zM457.70 692.3v-0.9h0.9v0.9zM458.60 692.3v-2.5h0.9v2.5zM459.50 692.3v-5.4h0.9v5.4zM460.40 692.3v-0.9h0.9v0.9zM461.30 692.3v-0.9h0.9v0.9zM462.20 692.3v-0.9h0.9v0.9zM463.10 692.3v-0.9h0.9v0.9zM464.00 692.3v-4.7h0.9v4.7zM464.90 692.3v-1.6h0.9v1.6zM465.80 692.3v-1.8h0.9v1.8zM466.70 692.3v-3.1h0.9v3.1zM468.50 692.3v-4.5h0.9v4.5zM469.40 692.3v-4.3h0.9v4.3zM470.30 692.3v-3.2h0.9v3.2zM471.20 692.3v-0.9h0.9v0.9zM472.10 692.3v-0.9h0.9v0.9zM473.00 692.3v-0.9h0.9v0.9zM473.90 692.3v-1.2h0.9v1.2zM474.80 692.3v-2.3h0.9v2.3zM475.70 692.3v-5.1h0.9v5.1zM476.60 692.3v-7.2h0.9v7.2zM477.50 692.3v-6.4h0.9v6.4zM478.40 692.3v-12.2h0.9v12.2zM480.20 692.3v-1.0h0.9v1.0zM482.00 692.3v-10.9h0.9v10.9zM482.90 692.3v-22.5h0.9v22.5zM484.70 692.3v-33.8h0.9v33.8zM485.60 692.3v-28.6h0.9v28.6zM486.50 692.3v-10.3h0.9v10.3zM487.40 692.3v-2.3h0.9v2.3zM489.20 692.3v-3.5h0.9v3.5zM490.10 692.3v-0.9h0.9v0.9zM491.00 692.3v-10.0h0.9v10.0zM491.90 692.3v-20.5h0.9v20.5zM492.80 692.3v-3.6h0.9v3.6zM493.70 692.3v-26.0h0.9v26.0zM495.50 692.3v-23.6h0.9v23.6zM496.40 692.3v-22.4h0.9v22.4zM497.30 692.3v-33.1h0.9v33.1zM498.20 692.3v-35.2h0.9v35.2zM500.00 692.3v-34.6h0.9v34.6zM500.90 692.3v-18.6h0.9v18.6zM501.80 692.3v-13.9h0.9v13.9zM502.70 692.3v-14.0h0.9v14.0zM503.60 692.3v-9.8h0.9v9.8zM504.50 692.3v-26.6h0.9v26.6zM509.00 692.3v-9.0h0.9v9.0zM509.90 692.3v-8.7h0.9v8.7zM510.80 692.3v-13.5h0.9v13.5zM511.70 692.3v-11.1h0.9v11.1zM512.60 692.3v-6.4h0.9v6.4zM513.50 692.3v-0.9h0.9v0.9zM514.40 692.3v-4.8h0.9v4.8zM515.30 692.3v-1.7h0.9v1.7zM516.20 692.3v-1.4h0.9v1.4zM517.10 692.3v-1.1h0.9v1.1zM518.00 692.3v-1.0h0.9v1.0zM518.90 692.3v-0.9h0.9v0.9zM519.80 692.3v-1.0h0.9v1.0zM520.70 692.3v-2.2h0.9v2.2zM521.60 692.3v-1.5h0.9v1.5zM522.50 692.3v-2.4h0.9v2.4zM523.40 692.3v-0.9h0.9v0.9zM525.20 692.3v-16.6h0.9v16.6zM526.10 692.3v-3.9h0.9v3.9zM527.90 692.3v-7.1h0.9v7.1zM529.70 692.3v-7.8h0.9v7.8zM530.60 692.3v-12.7h0.9v12.7zM531.50 692.3v-23.0h0.9v23.0zM533.30 692.3v-27.5h0.9v27.5zM536.00 692.3v-16.5h0.9v16.5zM536.90 692.3v-16.1h0.9v16.1zM537.80 692.3v-9.8h0.9v9.8zM538.70 692.3v-9.5h0.9v9.5zM539.60 692.3v-1.2h0.9v1.2zM540.50 692.3v-4.8h0.9v4.8zM542.30 692.3v-0.9h0.9v0.9zM543.20 692.3v-2.8h0.9v2.8zM544.10 692.3v-5.5h0.9v5.5zM545.90 692.3v-16.2h0.9v16.2zM546.80 692.3v-11.4h0.9v11.4zM547.70 692.3v-2.1h0.9v2.1zM548.60 692.3v-15.5h0.9v15.5zM549.50 692.3v-9.3h0.9v9.3zM551.30 692.3v-27.0h0.9v27.0zM552.20 692.3v-31.3h0.9v31.3zM554.90 692.3v-31.4h0.9v31.4zM555.80 692.3v-33.6h0.9v33.6zM557.60 692.3v-35.2h0.9v35.2zM558.50 692.3v-35.2h0.9v35.2zM561.20 692.3v-19.2h0.9v19.2zM563.00 692.3v-34.9h0.9v34.9zM563.90 692.3v-19.5h0.9v19.5zM564.80 692.3v-2.0h0.9v2.0zM565.70 692.3v-13.2h0.9v13.2zM567.50 692.3v-26.8h0.9v26.8zM568.40 692.3v-23.5h0.9v23.5zM569.30 692.3v-19.4h0.9v19.4zM571.10 692.3v-0.9h0.9v0.9zM572.00 692.3v-7.2h0.9v7.2zM573.80 692.3v-1.4h0.9v1.4zM574.70 692.3v-1.7h0.9v1.7zM575.60 692.3v-4.4h0.9v4.4zM576.50 692.3v-11.2h0.9v11.2zM578.30 692.3v-2.5h0.9v2.5zM579.20 692.3v-1.7h0.9v1.7zM580.10 692.3v-1.4h0.9v1.4zM581.00 692.3v-1.1h0.9v1.1zM581.90 692.3v-0.9h0.9v0.9zM582.80 692.3v-1.3h0.9v1.3zM584.60 692.3v-8.5h0.9v8.5zM585.50 692.3v-6.0h0.9v6.0zM586.40 692.3v-17.2h0.9v17.2zM588.20 692.3v-31.3h0.9v31.3zM589.10 692.3v-17.8h0.9v17.8zM590.00 692.3v-21.1h0.9v21.1zM591.80 692.3v-35.2h0.9v35.2zM592.70 692.3v-35.2h0.9v35.2zM593.60 692.3v-35.2h0.9v35.2zM594.50 692.3v-35.2h0.9v35.2zM595.40 692.3v-34.3h0.9v34.3zM596.30 692.3v-34.5h0.9v34.5zM597.20 692.3v-5.7h0.9v5.7zM599.00 692.3v-35.1h0.9v35.1zM599.90 692.3v-34.8h0.9v34.8zM600.80 692.3v-29.4h0.9v29.4zM601.70 692.3v-7.3h0.9v7.3zM602.60 692.3v-17.7h0.9v17.7zM603.50 692.3v-29.9h0.9v29.9zM604.40 692.3v-33.9h0.9v33.9zM605.30 692.3v-25.5h0.9v25.5zM606.20 692.3v-17.6h0.9v17.6zM607.10 692.3v-14.7h0.9v14.7zM608.90 692.3v-26.6h0.9v26.6zM609.80 692.3v-34.9h0.9v34.9zM611.60 692.3v-35.2h0.9v35.2zM612.50 692.3v-35.2h0.9v35.2zM613.40 692.3v-35.2h0.9v35.2zM614.30 692.3v-28.0h0.9v28.0zM615.20 692.3v-13.5h0.9v13.5zM616.10 692.3v-6.9h0.9v6.9zM617.00 692.3v-1.0h0.9v1.0zM617.90 692.3v-1.7h0.9v1.7zM618.80 692.3v-2.0h0.9v2.0zM619.70 692.3v-2.2h0.9v2.2zM620.60 692.3v-3.0h0.9v3.0zM621.50 692.3v-0.9h0.9v0.9zM622.40 692.3v-2.0h0.9v2.0zM623.30 692.3v-0.9h0.9v0.9zM624.20 692.3v-0.9h0.9v0.9zM625.10 692.3v-0.9h0.9v0.9zM626.00 692.3v-0.9h0.9v0.9zM626.90 692.3v-0.9h0.9v0.9zM627.80 692.3v-0.9h0.9v0.9zM628.70 692.3v-0.9h0.9v0.9zM629.60 692.3v-0.9h0.9v0.9zM630.50 692.3v-0.9h0.9v0.9zM631.40 692.3v-0.9h0.9v0.9zM632.30 692.3v-0.9h0.9v0.9zM633.20 692.3v-2.5h0.9v2.5zM634.10 692.3v-1.1h0.9v1.1zM635.00 692.3v-0.9h0.9v0.9zM635.90 692.3v-1.8h0.9v1.8zM636.80 692.3v-6.9h0.9v6.9zM637.70 692.3v-8.0h0.9v8.0zM638.60 692.3v-10.1h0.9v10.1zM639.50 692.3v-14.0h0.9v14.0zM640.40 692.3v-33.1h0.9v33.1zM641.30 692.3v-35.2h0.9v35.2zM644.00 692.3v-35.2h0.9v35.2zM644.90 692.3v-35.2h0.9v35.2zM645.80 692.3v-24.0h0.9v24.0zM646.70 692.3v-7.5h0.9v7.5zM647.60 692.3v-16.5h0.9v16.5zM648.50 692.3v-29.7h0.9v29.7zM649.40 692.3v-34.9h0.9v34.9zM650.30 692.3v-35.2h0.9v35.2zM651.20 692.3v-13.7h0.9v13.7zM652.10 692.3v-35.2h0.9v35.2zM653.90 692.3v-11.4h0.9v11.4zM654.80 692.3v-13.6h0.9v13.6zM655.70 692.3v-22.3h0.9v22.3zM657.50 692.3v-34.2h0.9v34.2zM658.40 692.3v-35.2h0.9v35.2zM659.30 692.3v-35.2h0.9v35.2zM660.20 692.3v-35.2h0.9v35.2zM661.10 692.3v-31.1h0.9v31.1zM662.00 692.3v-23.3h0.9v23.3zM663.80 692.3v-35.2h0.9v35.2zM664.70 692.3v-35.2h0.9v35.2zM665.60 692.3v-35.2h0.9v35.2zM666.50 692.3v-33.6h0.9v33.6zM668.30 692.3v-35.2h0.9v35.2zM669.20 692.3v-35.2h0.9v35.2zM671.00 692.3v-35.2h0.9v35.2zM671.90 692.3v-35.2h0.9v35.2zM672.80 692.3v-28.0h0.9v28.0zM673.70 692.3v-34.9h0.9v34.9zM674.60 692.3v-32.5h0.9v32.5zM675.50 692.3v-24.8h0.9v24.8zM676.40 692.3v-13.7h0.9v13.7zM677.30 692.3v-10.6h0.9v10.6zM678.20 692.3v-2.2h0.9v2.2zM679.10 692.3v-3.5h0.9v3.5zM680.00 692.3v-1.9h0.9v1.9zM680.90 692.3v-0.9h0.9v0.9zM681.80 692.3v-0.9h0.9v0.9zM682.70 692.3v-0.9h0.9v0.9zM683.60 692.3v-0.9h0.9v0.9zM684.50 692.3v-0.9h0.9v0.9zM685.40 692.3v-1.3h0.9v1.3zM686.30 692.3v-4.2h0.9v4.2zM687.20 692.3v-2.3h0.9v2.3zM688.10 692.3v-1.5h0.9v1.5zM689.00 692.3v-1.6h0.9v1.6zM689.90 692.3v-8.6h0.9v8.6zM690.80 692.3v-4.4h0.9v4.4zM691.70 692.3v-6.2h0.9v6.2zM692.60 692.3v-24.3h0.9v24.3zM693.50 692.3v-34.7h0.9v34.7zM694.40 692.3v-33.9h0.9v33.9zM695.30 692.3v-33.2h0.9v33.2zM696.20 692.3v-32.5h0.9v32.5zM697.10 692.3v-14.9h0.9v14.9zM698.00 692.3v-8.3h0.9v8.3zM698.90 692.3v-31.2h0.9v31.2zM699.80 692.3v-34.0h0.9v34.0zM700.70 692.3v-23.9h0.9v23.9zM701.60 692.3v-20.1h0.9v20.1zM703.40 692.3v-22.0h0.9v22.0zM704.30 692.3v-18.1h0.9v18.1zM705.20 692.3v-1.4h0.9v1.4zM706.10 692.3v-14.1h0.9v14.1zM707.00 692.3v-31.1h0.9v31.1zM708.80 692.3v-19.8h0.9v19.8zM709.70 692.3v-7.0h0.9v7.0zM710.60 692.3v-4.3h0.9v4.3zM711.50 692.3v-2.9h0.9v2.9zM712.40 692.3v-2.7h0.9v2.7zM713.30 692.3v-5.9h0.9v5.9zM714.20 692.3v-16.3h0.9v16.3zM715.10 692.3v-19.5h0.9v19.5zM716.00 692.3v-6.6h0.9v6.6zM716.90 692.3v-1.3h0.9v1.3zM717.80 692.3v-3.1h0.9v3.1zM718.70 692.3v-10.1h0.9v10.1zM719.60 692.3v-4.9h0.9v4.9zM720.50 692.3v-8.0h0.9v8.0zM721.40 692.3v-6.4h0.9v6.4zM723.20 692.3v-8.2h0.9v8.2zM724.10 692.3v-17.4h0.9v17.4zM725.00 692.3v-22.1h0.9v22.1zM725.90 692.3v-19.7h0.9v19.7zM727.70 692.3v-10.2h0.9v10.2zM728.60 692.3v-14.5h0.9v14.5zM729.50 692.3v-27.2h0.9v27.2zM730.40 692.3v-20.7h0.9v20.7zM731.30 692.3v-8.5h0.9v8.5zM732.20 692.3v-23.6h0.9v23.6zM734.00 692.3v-22.8h0.9v22.8zM735.80 692.3v-15.7h0.9v15.7zM736.70 692.3v-13.7h0.9v13.7zM738.50 692.3v-8.6h0.9v8.6zM739.40 692.3v-21.0h0.9v21.0zM740.30 692.3v-29.4h0.9v29.4zM741.20 692.3v-31.5h0.9v31.5zM743.90 692.3v-20.8h0.9v20.8zM744.80 692.3v-8.6h0.9v8.6zM745.70 692.3v-35.0h0.9v35.0zM746.60 692.3v-33.6h0.9v33.6zM747.50 692.3v-13.0h0.9v13.0zM748.40 692.3v-19.8h0.9v19.8zM751.10 692.3v-16.6h0.9v16.6zM753.80 692.3v-30.0h0.9v30.0zM754.70 692.3v-19.7h0.9v19.7zM755.60 692.3v-1.3h0.9v1.3zM756.50 692.3v-1.8h0.9v1.8zM757.40 692.3v-1.4h0.9v1.4zM758.30 692.3v-2.7h0.9v2.7zM759.20 692.3v-5.3h0.9v5.3zM760.10 692.3v-8.9h0.9v8.9zM761.00 692.3v-8.6h0.9v8.6zM762.80 692.3v-0.9h0.9v0.9zM763.70 692.3v-1.2h0.9v1.2zM764.60 692.3v-1.0h0.9v1.0zM765.50 692.3v-0.9h0.9v0.9zM766.40 692.3v-1.1h0.9v1.1zM767.30 692.3v-2.8h0.9v2.8zM768.20 692.3v-4.5h0.9v4.5zM769.10 692.3v-1.3h0.9v1.3zM770.00 692.3v-3.5h0.9v3.5zM771.80 692.3v-6.5h0.9v6.5zM772.70 692.3v-2.2h0.9v2.2zM773.60 692.3v-0.9h0.9v0.9zM774.50 692.3v-14.8h0.9v14.8zM775.40 692.3v-19.9h0.9v19.9zM776.30 692.3v-15.4h0.9v15.4zM778.10 692.3v-8.4h0.9v8.4zM779.90 692.3v-24.1h0.9v24.1zM780.80 692.3v-35.2h0.9v35.2zM781.70 692.3v-35.0h0.9v35.0zM782.60 692.3v-34.6h0.9v34.6zM784.40 692.3v-13.6h0.9v13.6zM786.20 692.3v-20.6h0.9v20.6zM787.10 692.3v-15.7h0.9v15.7zM788.90 692.3v-12.2h0.9v12.2zM789.80 692.3v-24.8h0.9v24.8zM790.70 692.3v-4.5h0.9v4.5zM791.60 692.3v-19.5h0.9v19.5zM792.50 692.3v-3.0h0.9v3.0zM793.40 692.3v-13.3h0.9v13.3zM794.30 692.3v-16.9h0.9v16.9zM796.10 692.3v-26.3h0.9v26.3zM797.00 692.3v-21.3h0.9v21.3zM797.90 692.3v-4.7h0.9v4.7zM799.70 692.3v-2.9h0.9v2.9zM801.50 692.3v-1.4h0.9v1.4zM802.40 692.3v-0.9h0.9v0.9zM803.30 692.3v-0.9h0.9v0.9zM804.20 692.3v-0.9h0.9v0.9zM805.10 692.3v-1.1h0.9v1.1zM806.00 692.3v-1.3h0.9v1.3zM806.90 692.3v-4.9h0.9v4.9zM807.80 692.3v-1.7h0.9v1.7zM808.70 692.3v-0.9h0.9v0.9zM809.60 692.3v-0.9h0.9v0.9zM810.50 692.3v-0.9h0.9v0.9zM811.40 692.3v-1.9h0.9v1.9zM812.30 692.3v-10.9h0.9v10.9zM813.20 692.3v-2.2h0.9v2.2zM814.10 692.3v-32.7h0.9v32.7zM815.00 692.3v-2.0h0.9v2.0zM815.90 692.3v-7.9h0.9v7.9zM816.80 692.3v-10.5h0.9v10.5zM817.70 692.3v-17.8h0.9v17.8zM818.60 692.3v-3.0h0.9v3.0zM820.40 692.3v-33.2h0.9v33.2zM821.30 692.3v-34.6h0.9v34.6zM822.20 692.3v-35.1h0.9v35.1zM823.10 692.3v-30.8h0.9v30.8zM824.90 692.3v-19.6h0.9v19.6zM825.80 692.3v-9.2h0.9v9.2zM826.70 692.3v-6.5h0.9v6.5zM828.50 692.3v-20.2h0.9v20.2zM831.20 692.3v-35.2h0.9v35.2zM833.00 692.3v-15.6h0.9v15.6zM833.90 692.3v-5.5h0.9v5.5zM834.80 692.3v-13.7h0.9v13.7zM835.70 692.3v-7.6h0.9v7.6zM837.50 692.3v-9.6h0.9v9.6zM838.40 692.3v-1.5h0.9v1.5zM839.30 692.3v-3.6h0.9v3.6zM840.20 692.3v-0.9h0.9v0.9zM841.10 692.3v-1.8h0.9v1.8zM842.00 692.3v-1.0h0.9v1.0zM842.90 692.3v-0.9h0.9v0.9zM843.80 692.3v-0.9h0.9v0.9zM844.70 692.3v-1.9h0.9v1.9zM845.60 692.3v-15.5h0.9v15.5zM846.50 692.3v-18.2h0.9v18.2zM847.40 692.3v-22.9h0.9v22.9zM848.30 692.3v-18.7h0.9v18.7zM849.20 692.3v-19.6h0.9v19.6zM851.00 692.3v-29.8h0.9v29.8zM852.80 692.3v-28.4h0.9v28.4zM853.70 692.3v-33.7h0.9v33.7zM854.60 692.3v-33.5h0.9v33.5zM856.40 692.3v-34.5h0.9v34.5zM857.30 692.3v-35.1h0.9v35.1zM858.20 692.3v-32.4h0.9v32.4zM859.10 692.3v-24.7h0.9v24.7zM860.00 692.3v-8.2h0.9v8.2zM860.90 692.3v-1.1h0.9v1.1zM861.80 692.3v-3.9h0.9v3.9zM862.70 692.3v-1.8h0.9v1.8zM863.60 692.3v-4.7h0.9v4.7zM864.50 692.3v-7.1h0.9v7.1zM866.30 692.3v-1.3h0.9v1.3zM867.20 692.3v-3.2h0.9v3.2zM868.10 692.3v-11.8h0.9v11.8zM869.00 692.3v-15.7h0.9v15.7zM869.90 692.3v-4.3h0.9v4.3zM870.80 692.3v-18.0h0.9v18.0zM871.70 692.3v-19.6h0.9v19.6zM873.50 692.3v-1.3h0.9v1.3zM875.30 692.3v-2.9h0.9v2.9zM877.10 692.3v-0.9h0.9v0.9zM878.00 692.3v-0.9h0.9v0.9zM878.90 692.3v-0.9h0.9v0.9zM879.80 692.3v-0.9h0.9v0.9zM880.70 692.3v-0.9h0.9v0.9zM881.60 692.3v-0.9h0.9v0.9zM882.50 692.3v-0.9h0.9v0.9zM883.40 692.3v-0.9h0.9v0.9zM884.30 692.3v-0.9h0.9v0.9zM885.20 692.3v-0.9h0.9v0.9zM886.10 692.3v-0.9h0.9v0.9zM887.00 692.3v-0.9h0.9v0.9zM887.90 692.3v-0.9h0.9v0.9zM888.80 692.3v-0.9h0.9v0.9zM889.70 692.3v-0.9h0.9v0.9zM890.60 692.3v-1.0h0.9v1.0zM891.50 692.3v-1.1h0.9v1.1zM892.40 692.3v-0.9h0.9v0.9zM893.30 692.3v-0.9h0.9v0.9zM894.20 692.3v-1.1h0.9v1.1zM895.10 692.3v-1.7h0.9v1.7zM896.00 692.3v-1.7h0.9v1.7zM896.90 692.3v-0.9h0.9v0.9zM897.80 692.3v-0.9h0.9v0.9zM898.70 692.3v-0.9h0.9v0.9zM899.60 692.3v-0.9h0.9v0.9zM900.50 692.3v-1.6h0.9v1.6zM901.40 692.3v-8.0h0.9v8.0zM902.30 692.3v-17.2h0.9v17.2zM904.10 692.3v-32.5h0.9v32.5zM905.00 692.3v-34.6h0.9v34.6zM905.90 692.3v-35.2h0.9v35.2zM906.80 692.3v-35.2h0.9v35.2zM907.70 692.3v-35.2h0.9v35.2zM910.40 692.3v-32.4h0.9v32.4zM911.30 692.3v-34.3h0.9v34.3zM913.10 692.3v-1.2h0.9v1.2zM914.00 692.3v-3.8h0.9v3.8zM915.80 692.3v-15.3h0.9v15.3zM917.60 692.3v-23.2h0.9v23.2zM918.50 692.3v-18.8h0.9v18.8zM919.40 692.3v-24.2h0.9v24.2zM920.30 692.3v-3.9h0.9v3.9zM921.20 692.3v-11.4h0.9v11.4zM923.00 692.3v-2.7h0.9v2.7zM923.90 692.3v-16.3h0.9v16.3zM924.80 692.3v-15.6h0.9v15.6zM925.70 692.3v-1.0h0.9v1.0zM926.60 692.3v-1.6h0.9v1.6zM927.50 692.3v-1.4h0.9v1.4zM928.40 692.3v-5.3h0.9v5.3zM930.20 692.3v-18.5h0.9v18.5zM932.00 692.3v-11.1h0.9v11.1zM932.90 692.3v-20.5h0.9v20.5zM933.80 692.3v-1.2h0.9v1.2zM934.70 692.3v-4.1h0.9v4.1zM935.60 692.3v-3.2h0.9v3.2zM936.50 692.3v-1.8h0.9v1.8zM937.40 692.3v-16.1h0.9v16.1zM941.00 692.3v-34.9h0.9v34.9zM941.90 692.3v-21.8h0.9v21.8zM942.80 692.3v-34.9h0.9v34.9zM944.60 692.3v-5.0h0.9v5.0zM945.50 692.3v-11.0h0.9v11.0zM947.30 692.3v-9.7h0.9v9.7zM948.20 692.3v-1.5h0.9v1.5zM949.10 692.3v-18.8h0.9v18.8zM950.00 692.3v-2.9h0.9v2.9zM950.90 692.3v-13.7h0.9v13.7zM951.80 692.3v-2.1h0.9v2.1zM952.70 692.3v-0.9h0.9v0.9zM953.60 692.3v-1.0h0.9v1.0zM954.50 692.3v-4.8h0.9v4.8zM955.40 692.3v-3.6h0.9v3.6zM957.20 692.3v-4.3h0.9v4.3zM958.10 692.3v-3.2h0.9v3.2zM959.00 692.3v-4.2h0.9v4.2zM959.90 692.3v-4.8h0.9v4.8zM961.70 692.3v-5.5h0.9v5.5zM962.60 692.3v-3.8h0.9v3.8zM963.50 692.3v-2.7h0.9v2.7zM964.40 692.3v-1.0h0.9v1.0zM965.30 692.3v-6.2h0.9v6.2zM966.20 692.3v-0.9h0.9v0.9zM967.10 692.3v-1.9h0.9v1.9zM968.00 692.3v-1.3h0.9v1.3zM968.90 692.3v-1.2h0.9v1.2zM969.80 692.3v-7.4h0.9v7.4zM970.70 692.3v-4.3h0.9v4.3zM971.60 692.3v-1.4h0.9v1.4zM972.50 692.3v-0.9h0.9v0.9zM973.40 692.3v-0.9h0.9v0.9zM974.30 692.3v-0.9h0.9v0.9zM975.20 692.3v-0.9h0.9v0.9zM977.00 692.3v-14.5h0.9v14.5zM977.90 692.3v-28.1h0.9v28.1zM978.80 692.3v-28.1h0.9v28.1zM979.70 692.3v-28.1h0.9v28.1zM980.60 692.3v-8.8h0.9v8.8zM981.50 692.3v-6.3h0.9v6.3zM982.40 692.3v-1.3h0.9v1.3zM983.30 692.3v-12.1h0.9v12.1zM986.90 692.3v-34.9h0.9v34.9zM987.80 692.3v-26.0h0.9v26.0zM990.50 692.3v-9.0h0.9v9.0zM992.30 692.3v-1.7h0.9v1.7zM993.20 692.3v-27.2h0.9v27.2zM994.10 692.3v-33.0h0.9v33.0zM995.00 692.3v-34.9h0.9v34.9zM995.90 692.3v-34.9h0.9v34.9zM996.80 692.3v-34.9h0.9v34.9zM998.60 692.3v-15.5h0.9v15.5zM999.50 692.3v-34.4h0.9v34.4zM1000.40 692.3v-33.7h0.9v33.7zM1001.30 692.3v-33.0h0.9v33.0zM1002.20 692.3v-29.7h0.9v29.7zM1003.10 692.3v-3.2h0.9v3.2zM1004.00 692.3v-11.2h0.9v11.2zM1004.90 692.3v-27.2h0.9v27.2zM1006.70 692.3v-34.9h0.9v34.9zM1007.60 692.3v-34.9h0.9v34.9zM1008.50 692.3v-34.9h0.9v34.9zM1009.40 692.3v-34.9h0.9v34.9zM1011.20 692.3v-34.9h0.9v34.9zM1012.10 692.3v-34.9h0.9v34.9zM1013.90 692.3v-34.6h0.9v34.6zM1014.80 692.3v-11.3h0.9v11.3zM1015.70 692.3v-7.1h0.9v7.1zM1016.60 692.3v-34.8h0.9v34.8zM1017.50 692.3v-34.7h0.9v34.7zM1018.40 692.3v-34.4h0.9v34.4zM1019.30 692.3v-34.1h0.9v34.1zM1020.20 692.3v-33.8h0.9v33.8zM1021.10 692.3v-33.6h0.9v33.6zM1022.00 692.3v-23.4h0.9v23.4zM1023.80 692.3v-25.9h0.9v25.9zM1024.70 692.3v-10.2h0.9v10.2zM1025.60 692.3v-24.8h0.9v24.8zM1026.50 692.3v-23.4h0.9v23.4zM1029.20 692.3v-34.9h0.9v34.9zM1030.10 692.3v-34.9h0.9v34.9zM1031.00 692.3v-34.9h0.9v34.9zM1031.90 692.3v-34.9h0.9v34.9zM1032.80 692.3v-34.9h0.9v34.9zM1033.70 692.3v-34.9h0.9v34.9zM1034.60 692.3v-34.9h0.9v34.9zM1035.50 692.3v-26.1h0.9v26.1zM1037.30 692.3v-7.5h0.9v7.5zM1039.10 692.3v-4.2h0.9v4.2zM1040.00 692.3v-4.6h0.9v4.6zM1040.90 692.3v-28.3h0.9v28.3zM1041.80 692.3v-2.6h0.9v2.6zM1042.70 692.3v-26.3h0.9v26.3zM1043.60 692.3v-33.3h0.9v33.3zM1044.50 692.3v-32.8h0.9v32.8zM1045.40 692.3v-24.2h0.9v24.2zM1046.30 692.3v-2.5h0.9v2.5zM1047.20 692.3v-2.3h0.9v2.3zM1048.10 692.3v-24.6h0.9v24.6zM1049.00 692.3v-5.6h0.9v5.6zM1049.90 692.3v-0.9h0.9v0.9zM1051.70 692.3v-23.5h0.9v23.5zM1052.60 692.3v-2.2h0.9v2.2zM1053.50 692.3v-25.6h0.9v25.6zM1054.40 692.3v-21.8h0.9v21.8zM1055.30 692.3v-10.6h0.9v10.6zM1057.10 692.3v-18.2h0.9v18.2zM1058.00 692.3v-21.5h0.9v21.5zM1058.90 692.3v-10.4h0.9v10.4zM1059.80 692.3v-4.2h0.9v4.2zM1060.70 692.3v-9.2h0.9v9.2zM1061.60 692.3v-34.2h0.9v34.2zM1062.50 692.3v-34.4h0.9v34.4zM1063.40 692.3v-22.9h0.9v22.9zM1064.30 692.3v-34.7h0.9v34.7zM1065.20 692.3v-34.9h0.9v34.9zM1066.10 692.3v-34.9h0.9v34.9zM1067.00 692.3v-34.4h0.9v34.4zM1067.90 692.3v-3.8h0.9v3.8zM1068.80 692.3v-32.9h0.9v32.9zM1069.70 692.3v-34.3h0.9v34.3zM1070.60 692.3v-25.6h0.9v25.6zM1073.30 692.3v-1.5h0.9v1.5zM1074.20 692.3v-0.9h0.9v0.9zM1076.00 692.3v-34.2h0.9v34.2z" fill="#3f7f43" fill-opacity="0.93"/><path d="M121.10 692.3v-26.2h0.9v26.2zM128.30 692.3v-32.8h0.9v32.8zM132.80 692.3v-11.3h0.9v11.3zM134.60 692.3v-20.2h0.9v20.2zM142.70 692.3v-23.9h0.9v23.9zM153.50 692.3v-5.2h0.9v5.2zM163.40 692.3v-28.4h0.9v28.4zM166.10 692.3v-12.6h0.9v12.6zM176.00 692.3v-3.2h0.9v3.2zM184.10 692.3v-14.7h0.9v14.7zM185.90 692.3v-4.1h0.9v4.1zM189.50 692.3v-3.1h0.9v3.1zM197.60 692.3v-35.2h0.9v35.2zM203.00 692.3v-11.2h0.9v11.2zM203.90 692.3v-19.2h0.9v19.2zM204.80 692.3v-3.6h0.9v3.6zM205.70 692.3v-20.7h0.9v20.7zM211.10 692.3v-27.5h0.9v27.5zM212.90 692.3v-21.9h0.9v21.9zM217.40 692.3v-23.5h0.9v23.5zM225.50 692.3v-14.2h0.9v14.2zM230.00 692.3v-9.8h0.9v9.8zM231.80 692.3v-7.3h0.9v7.3zM234.50 692.3v-31.6h0.9v31.6zM243.50 692.3v-8.2h0.9v8.2zM249.80 692.3v-35.2h0.9v35.2zM252.50 692.3v-32.9h0.9v32.9zM254.30 692.3v-35.2h0.9v35.2zM255.20 692.3v-35.2h0.9v35.2zM260.60 692.3v-29.9h0.9v29.9zM266.00 692.3v-3.5h0.9v3.5zM267.80 692.3v-30.6h0.9v30.6zM269.60 692.3v-11.7h0.9v11.7zM277.70 692.3v-6.6h0.9v6.6zM293.00 692.3v-9.0h0.9v9.0zM302.00 692.3v-23.4h0.9v23.4zM303.80 692.3v-13.4h0.9v13.4zM313.70 692.3v-12.4h0.9v12.4zM319.10 692.3v-35.2h0.9v35.2zM326.30 692.3v-8.9h0.9v8.9zM336.20 692.3v-25.4h0.9v25.4zM339.80 692.3v-4.3h0.9v4.3zM349.70 692.3v-19.6h0.9v19.6zM350.60 692.3v-32.7h0.9v32.7zM352.40 692.3v-26.8h0.9v26.8zM359.60 692.3v-4.5h0.9v4.5zM363.20 692.3v-9.9h0.9v9.9zM369.50 692.3v-16.3h0.9v16.3zM370.40 692.3v-35.2h0.9v35.2zM371.30 692.3v-35.2h0.9v35.2zM372.20 692.3v-32.8h0.9v32.8zM373.10 692.3v-8.2h0.9v8.2zM375.80 692.3v-25.4h0.9v25.4zM377.60 692.3v-34.8h0.9v34.8zM379.40 692.3v-13.5h0.9v13.5zM381.20 692.3v-34.5h0.9v34.5zM382.10 692.3v-29.1h0.9v29.1zM384.80 692.3v-34.6h0.9v34.6zM409.10 692.3v-21.2h0.9v21.2zM430.70 692.3v-10.0h0.9v10.0zM431.60 692.3v-3.7h0.9v3.7zM437.00 692.3v-28.4h0.9v28.4zM467.60 692.3v-4.0h0.9v4.0zM479.30 692.3v-12.2h0.9v12.2zM481.10 692.3v-17.5h0.9v17.5zM483.80 692.3v-34.9h0.9v34.9zM488.30 692.3v-7.3h0.9v7.3zM494.60 692.3v-3.5h0.9v3.5zM499.10 692.3v-34.9h0.9v34.9zM505.40 692.3v-32.4h0.9v32.4zM506.30 692.3v-17.8h0.9v17.8zM507.20 692.3v-20.0h0.9v20.0zM508.10 692.3v-21.5h0.9v21.5zM524.30 692.3v-9.2h0.9v9.2zM527.00 692.3v-4.7h0.9v4.7zM528.80 692.3v-5.8h0.9v5.8zM532.40 692.3v-24.9h0.9v24.9zM534.20 692.3v-30.8h0.9v30.8zM535.10 692.3v-20.9h0.9v20.9zM541.40 692.3v-7.7h0.9v7.7zM545.00 692.3v-10.6h0.9v10.6zM550.40 692.3v-7.1h0.9v7.1zM553.10 692.3v-19.4h0.9v19.4zM554.00 692.3v-34.0h0.9v34.0zM556.70 692.3v-35.2h0.9v35.2zM559.40 692.3v-35.2h0.9v35.2zM560.30 692.3v-31.2h0.9v31.2zM562.10 692.3v-26.8h0.9v26.8zM566.60 692.3v-29.0h0.9v29.0zM570.20 692.3v-12.7h0.9v12.7zM572.90 692.3v-5.1h0.9v5.1zM577.40 692.3v-14.4h0.9v14.4zM583.70 692.3v-5.6h0.9v5.6zM587.30 692.3v-32.4h0.9v32.4zM590.90 692.3v-5.3h0.9v5.3zM598.10 692.3v-30.2h0.9v30.2zM608.00 692.3v-18.6h0.9v18.6zM610.70 692.3v-35.2h0.9v35.2zM642.20 692.3v-29.6h0.9v29.6zM643.10 692.3v-35.2h0.9v35.2zM653.00 692.3v-5.6h0.9v5.6zM656.60 692.3v-30.4h0.9v30.4zM662.90 692.3v-35.2h0.9v35.2zM667.40 692.3v-4.8h0.9v4.8zM670.10 692.3v-35.2h0.9v35.2zM702.50 692.3v-24.7h0.9v24.7zM707.90 692.3v-33.7h0.9v33.7zM722.30 692.3v-3.0h0.9v3.0zM726.80 692.3v-15.4h0.9v15.4zM733.10 692.3v-22.1h0.9v22.1zM734.90 692.3v-9.4h0.9v9.4zM737.60 692.3v-9.3h0.9v9.3zM742.10 692.3v-30.9h0.9v30.9zM743.00 692.3v-29.8h0.9v29.8zM749.30 692.3v-13.6h0.9v13.6zM750.20 692.3v-20.2h0.9v20.2zM752.00 692.3v-15.5h0.9v15.5zM752.90 692.3v-20.1h0.9v20.1zM761.90 692.3v-5.9h0.9v5.9zM770.90 692.3v-7.8h0.9v7.8zM777.20 692.3v-20.4h0.9v20.4zM779.00 692.3v-3.5h0.9v3.5zM783.50 692.3v-28.1h0.9v28.1zM785.30 692.3v-34.8h0.9v34.8zM788.00 692.3v-20.6h0.9v20.6zM795.20 692.3v-8.5h0.9v8.5zM798.80 692.3v-4.1h0.9v4.1zM800.60 692.3v-3.2h0.9v3.2zM819.50 692.3v-12.2h0.9v12.2zM824.00 692.3v-28.7h0.9v28.7zM827.60 692.3v-31.7h0.9v31.7zM829.40 692.3v-35.2h0.9v35.2zM830.30 692.3v-35.2h0.9v35.2zM832.10 692.3v-35.2h0.9v35.2zM836.60 692.3v-18.9h0.9v18.9zM850.10 692.3v-27.2h0.9v27.2zM851.90 692.3v-22.1h0.9v22.1zM855.50 692.3v-33.4h0.9v33.4zM865.40 692.3v-3.5h0.9v3.5zM872.60 692.3v-16.0h0.9v16.0zM874.40 692.3v-5.6h0.9v5.6zM876.20 692.3v-5.6h0.9v5.6zM903.20 692.3v-4.1h0.9v4.1zM908.60 692.3v-22.0h0.9v22.0zM909.50 692.3v-20.4h0.9v20.4zM912.20 692.3v-15.0h0.9v15.0zM914.90 692.3v-5.9h0.9v5.9zM916.70 692.3v-25.3h0.9v25.3zM922.10 692.3v-33.4h0.9v33.4zM929.30 692.3v-7.2h0.9v7.2zM931.10 692.3v-21.0h0.9v21.0zM938.30 692.3v-6.1h0.9v6.1zM939.20 692.3v-25.8h0.9v25.8zM940.10 692.3v-26.8h0.9v26.8zM943.70 692.3v-31.2h0.9v31.2zM946.40 692.3v-15.1h0.9v15.1zM956.30 692.3v-4.9h0.9v4.9zM960.80 692.3v-6.7h0.9v6.7zM976.10 692.3v-4.2h0.9v4.2zM984.20 692.3v-34.9h0.9v34.9zM985.10 692.3v-34.9h0.9v34.9zM986.00 692.3v-34.9h0.9v34.9zM988.70 692.3v-4.6h0.9v4.6zM989.60 692.3v-31.9h0.9v31.9zM991.40 692.3v-31.3h0.9v31.3zM997.70 692.3v-13.6h0.9v13.6zM1005.80 692.3v-34.9h0.9v34.9zM1010.30 692.3v-34.9h0.9v34.9zM1013.00 692.3v-34.9h0.9v34.9zM1022.90 692.3v-34.9h0.9v34.9zM1027.40 692.3v-8.6h0.9v8.6zM1028.30 692.3v-34.9h0.9v34.9zM1036.40 692.3v-19.2h0.9v19.2zM1038.20 692.3v-33.7h0.9v33.7zM1050.80 692.3v-22.3h0.9v22.3zM1056.20 692.3v-4.7h0.9v4.7zM1071.50 692.3v-11.1h0.9v11.1zM1072.40 692.3v-3.3h0.9v3.3zM1075.10 692.3v-6.8h0.9v6.8zM1076.90 692.3v-34.2h0.9v34.2z" fill="#3f7f43" fill-opacity="0.55"/><path d="M120 691.9H1077" stroke="#3f7f43" stroke-width="0.9"/><path d="M120.94 711.1H123.46V729H120.94zM125.09 711.1H131.62V729H125.09zM132.81 711.1H135.04V729H132.81zM138.75 711.1H140.53V729H138.75zM142.01 711.1H145.43V729H142.01zM146.91 711.1H149.43V729H146.91zM151.07 711.1H153.14V729H151.07zM153.44 711.1H155.07V729H153.44zM156.26 711.1H159.97V729H156.26zM161.90 711.1H164.57V729H161.90zM164.87 711.1H166.65V729H164.87zM183.27 711.1H184.91V729H183.27zM185.20 711.1H186.09V729H185.20zM186.39 711.1H187.73V729H186.39zM188.91 711.1H191.44V729H188.91zM195.15 711.1H198.86V729H195.15zM200.34 711.1H204.05V729H200.34zM206.73 711.1H217.41V729H206.73zM219.64 711.1H220.38V729H219.64zM221.57 711.1H224.09V729H221.57zM229.29 711.1H237.00V729H229.29zM244.57 711.1H251.25V729H244.57zM252.29 711.1H254.37V729H252.29zM254.67 711.1H257.19V729H254.67zM259.71 711.1H266.39V729H259.71zM280.94 711.1H288.06V729H280.94zM292.81 711.1H293.70V729H292.81zM294.00 711.1H294.59V729H294.00zM296.97 711.1H299.49V729H296.97zM315.37 711.1H319.82V729H315.37zM328.43 711.1H330.21V729H328.43zM331.40 711.1H333.63V729H331.40zM335.85 711.1H338.82V729H335.85zM341.05 711.1H342.98V729H341.05zM344.46 711.1H345.95V729H344.46zM347.43 711.1H348.91V729H347.43zM350.40 711.1H352.03V729H350.40zM352.33 711.1H354.26V729H352.33zM354.55 711.1H357.23V729H354.55zM357.52 711.1H359.60V729H357.52zM367.02 711.1H369.99V729H367.02zM371.18 711.1H373.70V729H371.18zM374.74 711.1H376.67V729H374.74zM376.97 711.1H378.90V729H376.97zM385.13 711.1H387.80V729H385.13zM390.03 711.1H390.47V729H390.03zM397.89 711.1H405.61V729H397.89zM409.32 711.1H416.60V729H409.32zM416.89 711.1H418.08V729H416.89zM418.38 711.1H423.27V729H418.38zM423.57 711.1H425.06V729H423.57zM425.35 711.1H429.36V729H425.35zM430.84 711.1H432.33V729H430.84zM433.81 711.1H435.00V729H433.81zM435.74 711.1H439.45V729H435.74zM440.64 711.1H443.76V729H440.64zM444.05 711.1H446.13V729H444.05zM482.79 711.1H485.76V729H482.79zM492.14 711.1H494.07V729H492.14zM495.11 711.1H496.45V729H495.11zM496.74 711.1H498.67V729H496.74zM498.97 711.1H501.79V729H498.97zM505.50 711.1H506.99V729H505.50zM511.88 711.1H513.66V729H511.88zM532.22 711.1H536.22V729H532.22zM547.06 711.1H548.54V729H547.06zM553.74 711.1H564.13V729H553.74zM565.61 711.1H567.39V729H565.61zM587.88 711.1H589.66V729H587.88zM590.84 711.1H595.00V729H590.84zM598.71 711.1H601.68V729H598.71zM603.16 711.1H605.69V729H603.16zM607.62 711.1H608.51V729H607.62zM608.80 711.1H614.59V729H608.80zM640.71 711.1H646.21V729H640.71zM649.62 711.1H653.18V729H649.62zM655.56 711.1H660.16V729H655.56zM660.45 711.1H662.53V729H660.45zM664.02 711.1H666.84V729H664.02zM667.13 711.1H669.06V729H667.13zM669.36 711.1H672.18V729H669.36zM691.47 711.1H692.81V729H691.47zM693.11 711.1H696.22V729H693.11zM698.90 711.1H702.61V729H698.90zM706.02 711.1H708.99V729H706.02zM718.49 711.1H719.68V729H718.49zM723.83 711.1H725.02V729H723.83zM725.32 711.1H726.35V729H725.32zM729.32 711.1H733.03V729H729.32zM734.52 711.1H737.49V729H734.52zM743.42 711.1H744.91V729H743.42zM746.69 711.1H748.62V729H746.69zM750.10 711.1H755.00V729H750.10zM780.97 711.1H784.54V729H780.97zM784.83 711.1H785.72V729H784.83zM786.02 711.1H786.91V729H786.02zM791.81 711.1H793.89V729H791.81zM806.65 711.1H807.69V729H806.65zM814.37 711.1H818.08V729H814.37zM819.12 711.1H821.79V729H819.12zM823.27 711.1H824.76V729H823.27zM827.73 711.1H832.92V729H827.73zM835.89 711.1H837.82V729H835.89zM846.28 711.1H848.21V729H846.28zM849.99 711.1H851.47V729H849.99zM852.66 711.1H859.64V729H852.66zM870.03 711.1H871.07V729H870.03zM871.96 711.1H873.00V729H871.96zM903.42 711.1H910.10V729H903.42zM916.51 711.1H920.14V729H916.51zM920.44 711.1H922.11V729H920.44zM922.41 711.1H924.22V729H922.41zM924.53 711.1H925.89V729H924.53zM930.88 711.1H932.84V729H930.88zM938.89 711.1H944.94V729H938.89zM961.12 711.1H962.18V729H961.12zM978.20 711.1H979.41V729H978.20zM980.32 711.1H981.83V729H980.32zM984.25 711.1H991.81V729H984.25zM993.32 711.1H1003.46V729H993.32zM1005.27 711.1H1009.35V729H1005.27zM1009.65 711.1H1014.04V729H1009.65zM1017.06 711.1H1026.74V729H1017.06zM1027.04 711.1H1037.33V729H1027.04zM1037.63 711.1H1042.01V729H1037.63zM1043.22 711.1H1044.73V729H1043.22zM1051.09 711.1H1051.99V729H1051.09zM1053.35 711.1H1054.71V729H1053.35zM1055.02 711.1H1056.23V729H1055.02zM1056.53 711.1H1057.89V729H1056.53zM1058.95 711.1H1071.50V729H1058.95zM1075.28 711.1H1076.49V729H1075.28z" fill="#6e0a28" fill-opacity="1.0"/><path d="M135.04 711.1H138.75V729H135.04zM145.43 711.1H146.91V729H145.43zM217.41 711.1H219.64V729H217.41zM225.13 711.1H229.29V729H225.13zM270.10 711.1H273.07V729H270.10zM273.07 711.1H275.00V729H273.07zM275.00 711.1H276.48V729H275.00zM300.53 711.1H303.94V729H300.53zM305.72 711.1H306.76V729H305.72zM333.63 711.1H335.85V729H333.63zM380.38 711.1H384.09V729H380.38zM387.80 711.1H390.03V729H387.80zM446.13 711.1H447.62V729H446.13zM508.02 711.1H509.51V729H508.02zM525.83 711.1H527.02V729H525.83zM530.73 711.1H532.22V729H530.73zM550.03 711.1H553.74V729H550.03zM568.58 711.1H570.36V729H568.58zM648.14 711.1H649.62V729H648.14zM675.89 711.1H677.82V729H675.89zM702.61 711.1H704.54V729H702.61zM739.27 711.1H743.42V729H739.27zM778.01 711.1H779.49V729H778.01zM788.40 711.1H790.62V729H788.40zM796.26 711.1H797.30V729H796.26zM821.79 711.1H823.27V729H821.79zM910.10 711.1H913.07V729H910.10zM937.38 711.1H938.89V729H937.38zM946.45 711.1H947.96V729H946.45zM949.02 711.1H950.53V729H949.02zM1045.79 711.1H1048.82V729H1045.79z" fill="#6e0a28" fill-opacity="0.62"/><path d="M187.73 711.1H188.91V729H187.73zM224.09 711.1H225.13V729H224.09zM251.25 711.1H252.29V729H251.25zM299.49 711.1H300.53V729H299.49zM325.17 711.1H326.65V729H325.17zM478.04 711.1H479.53V729H478.04zM486.95 711.1H488.73V729H486.95zM548.54 711.1H550.03V729H548.54zM564.13 711.1H565.61V729H564.13zM567.39 711.1H568.58V729H567.39zM595.00 711.1H597.67V729H595.00zM605.69 711.1H607.62V729H605.69zM638.78 711.1H640.71V729H638.78zM646.21 711.1H648.14V729H646.21zM653.18 711.1H655.56V729H653.18zM662.53 711.1H664.02V729H662.53zM672.18 711.1H675.89V729H672.18zM733.03 711.1H734.52V729H733.03zM737.49 711.1H739.27V729H737.49zM744.91 711.1H746.69V729H744.91zM786.91 711.1H788.40V729H786.91zM928.31 711.1H929.82V729H928.31zM991.81 711.1H993.32V729H991.81zM1003.46 711.1H1005.27V729H1003.46zM1042.01 711.1H1043.22V729H1042.01zM1044.73 711.1H1045.79V729H1044.73z" fill="#6e0a28" fill-opacity="0.38"/>
<text x="599.8" y="653.7" fill="#4a8a4e" stroke="#4a8a4e" text-anchor="middle" font-size="14.5" textLength="233.2" lengthAdjust="spacingAndGlyphs">15 Insect Conservation by PhastCons</text>
<text x="599.8" y="707.1" fill="#000" stroke="#000" class="k" text-anchor="middle" font-size="14.5" textLength="479.0" lengthAdjust="spacingAndGlyphs">12 Flies, Mosquito, Honeybee, Beetle Multiz Alignments &amp; phastCons Scores</text>
<text x="92.7" y="667.6" fill="#4a8a4e" stroke="#4a8a4e" text-anchor="end" font-size="14.5" textLength="91.7" lengthAdjust="spacingAndGlyphs">15 Insect Cons</text>
<text x="106.0" y="653.6" fill="#4a8a4e" stroke="#4a8a4e" text-anchor="end" font-size="14.5">1</text>
<text x="106.0" y="690.2" fill="#4a8a4e" stroke="#4a8a4e" text-anchor="end" font-size="14.5">0</text>
<line x1="108.50" y1="656.30" x2="118.70" y2="656.30" stroke="#4a8a4e" stroke-width="1"/>
<line x1="108.50" y1="692.00" x2="118.70" y2="692.00" stroke="#4a8a4e" stroke-width="1"/>
<text x="117.8" y="724.7" fill="#78102c" stroke="#78102c" text-anchor="end" font-size="14.5" textLength="72.0" lengthAdjust="spacingAndGlyphs">15 Insect El</text>
</svg>
</body></html>
